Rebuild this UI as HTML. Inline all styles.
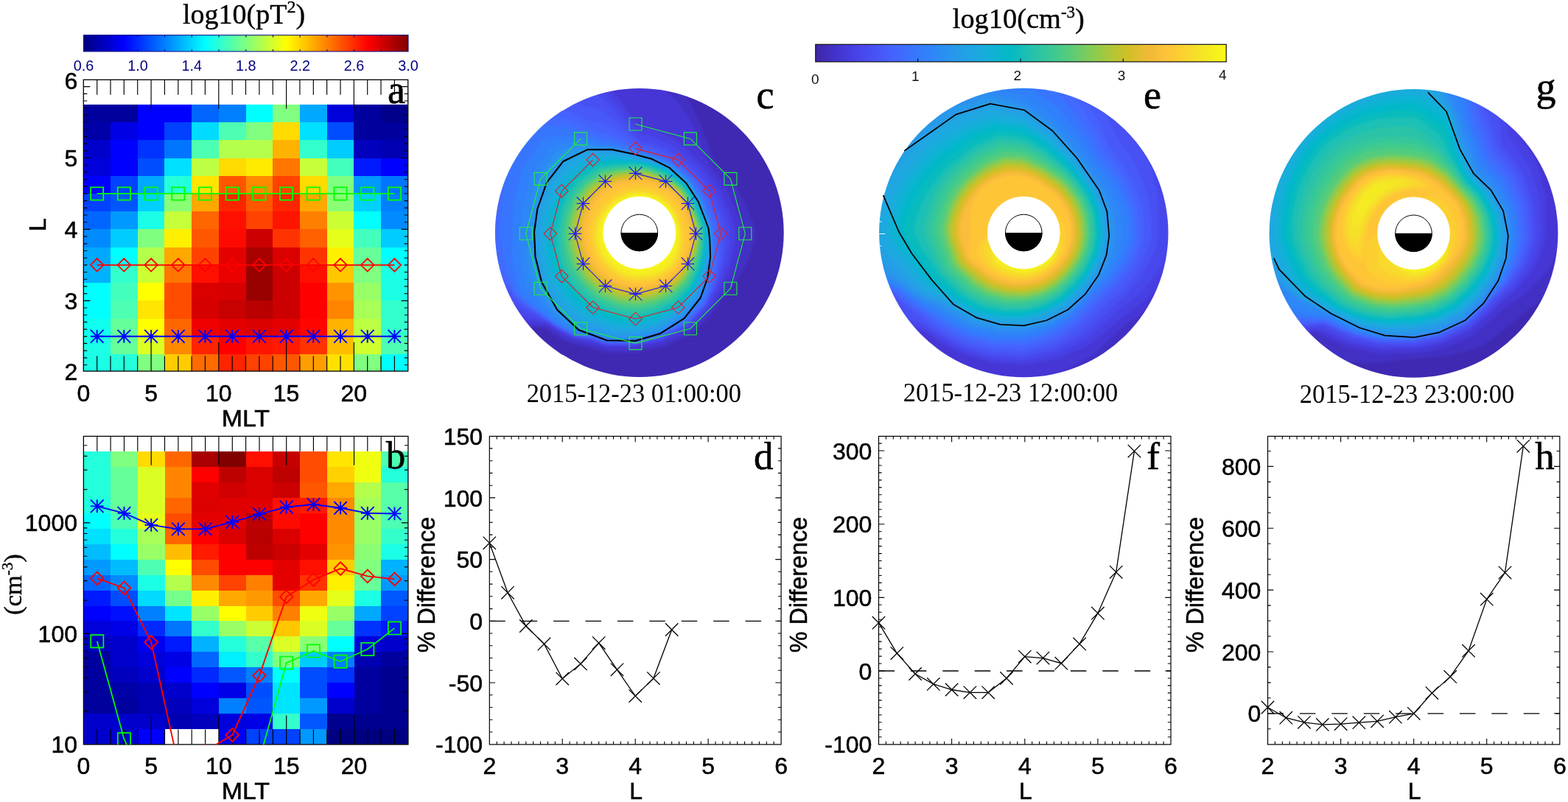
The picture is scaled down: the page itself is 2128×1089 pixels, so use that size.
<!DOCTYPE html>
<html lang="en"><head><meta charset="utf-8"><title>Figure</title>
<style>html,body{margin:0;padding:0;background:#fff}body{width:2128px;height:1089px;overflow:hidden}svg{display:block}.a{font-family:'Liberation Sans',sans-serif}.b{font-family:'Liberation Serif',serif}.t{stroke:#000;stroke-width:.55px}.u{stroke:#000;stroke-width:.4px}</style>
</head><body>
<svg width="2128" height="1089" viewBox="0 0 2128 1089">
<rect width="2128" height="1089" fill="#fff"/>
<defs>
<linearGradient id="jet"><stop offset="0" stop-color="#000080"/><stop offset=".125" stop-color="#00f"/><stop offset=".375" stop-color="#0ff"/><stop offset=".5" stop-color="#80ff80"/><stop offset=".625" stop-color="#ff0"/><stop offset=".875" stop-color="#f00"/><stop offset="1" stop-color="#800000"/></linearGradient>
<linearGradient id="par"><stop offset="0" stop-color="#3e26a8"/><stop offset="0.048" stop-color="#4332cb"/><stop offset="0.095" stop-color="#4741e5"/><stop offset="0.143" stop-color="#4852f4"/><stop offset="0.19" stop-color="#4563fd"/><stop offset="0.238" stop-color="#3875fe"/><stop offset="0.286" stop-color="#2e87f7"/><stop offset="0.333" stop-color="#2797eb"/><stop offset="0.381" stop-color="#20a5e3"/><stop offset="0.429" stop-color="#12b1d6"/><stop offset="0.476" stop-color="#02bac3"/><stop offset="0.524" stop-color="#24c1ae"/><stop offset="0.571" stop-color="#37c897"/><stop offset="0.619" stop-color="#57cc7a"/><stop offset="0.667" stop-color="#81cc59"/><stop offset="0.714" stop-color="#abc739"/><stop offset="0.762" stop-color="#d1bf27"/><stop offset="0.81" stop-color="#f0ba36"/><stop offset="0.857" stop-color="#fec338"/><stop offset="0.905" stop-color="#fad62d"/><stop offset="0.952" stop-color="#f5e924"/><stop offset="1" stop-color="#f9fb15"/></linearGradient>
<clipPath id="cb"><rect x="113.4" y="592.4" width="440.5" height="418.5"/></clipPath>
<filter id="bl" x="-5%" y="-5%" width="110%" height="110%" color-interpolation-filters="sRGB"><feGaussianBlur stdDeviation="1.6"/></filter>
</defs>
<g shape-rendering="crispEdges">
<rect x="113.3" y="141.8" width="73.7" height="24.5" fill="#00009e"/>
<rect x="186.7" y="141.8" width="73.7" height="24.5" fill="#0000ff"/>
<rect x="260.1" y="141.8" width="37" height="24.5" fill="#0066ff"/>
<rect x="296.8" y="141.8" width="37" height="24.5" fill="#0080ff"/>
<rect x="333.5" y="141.8" width="37" height="24.5" fill="#00ffff"/>
<rect x="370.2" y="141.8" width="37" height="24.5" fill="#80ff80"/>
<rect x="406.9" y="141.8" width="37" height="24.5" fill="#00a8ff"/>
<rect x="443.6" y="141.8" width="37" height="24.5" fill="#0000db"/>
<rect x="480.3" y="141.8" width="37" height="24.5" fill="#00009e"/>
<rect x="517" y="141.8" width="37" height="24.5" fill="#00008a"/>
<rect x="113.3" y="166" width="37" height="24.5" fill="#0000a8"/>
<rect x="150" y="166" width="37" height="24.5" fill="#0000e6"/>
<rect x="186.7" y="166" width="37" height="24.5" fill="#0000ff"/>
<rect x="223.4" y="166" width="37" height="24.5" fill="#0042ff"/>
<rect x="260.1" y="166" width="37" height="24.5" fill="#00dbff"/>
<rect x="296.8" y="166" width="37" height="24.5" fill="#4dffb2"/>
<rect x="333.5" y="166" width="37" height="24.5" fill="#80ff80"/>
<rect x="370.2" y="166" width="37" height="24.5" fill="#ffdb00"/>
<rect x="406.9" y="166" width="37" height="24.5" fill="#00e0ff"/>
<rect x="443.6" y="166" width="37" height="24.5" fill="#004dff"/>
<rect x="480.3" y="166" width="73.7" height="24.5" fill="#00009e"/>
<rect x="113.3" y="190.3" width="37" height="24.5" fill="#0000cc"/>
<rect x="150" y="190.3" width="37" height="24.5" fill="#0000ff"/>
<rect x="186.7" y="190.3" width="37" height="24.5" fill="#0033ff"/>
<rect x="223.4" y="190.3" width="37" height="24.5" fill="#0075ff"/>
<rect x="260.1" y="190.3" width="37" height="24.5" fill="#4dffb2"/>
<rect x="296.8" y="190.3" width="73.7" height="24.5" fill="#b3ff4c"/>
<rect x="370.2" y="190.3" width="37" height="24.5" fill="#ffb300"/>
<rect x="406.9" y="190.3" width="37" height="24.5" fill="#33ffcc"/>
<rect x="443.6" y="190.3" width="37" height="24.5" fill="#00ccff"/>
<rect x="480.3" y="190.3" width="37" height="24.5" fill="#0000bd"/>
<rect x="517" y="190.3" width="37" height="24.5" fill="#0000b2"/>
<rect x="113.3" y="214.5" width="37" height="24.5" fill="#0000db"/>
<rect x="150" y="214.5" width="37" height="24.5" fill="#0000ff"/>
<rect x="186.7" y="214.5" width="37" height="24.5" fill="#004dff"/>
<rect x="223.4" y="214.5" width="37" height="24.5" fill="#00e0ff"/>
<rect x="260.1" y="214.5" width="37" height="24.5" fill="#bdff42"/>
<rect x="296.8" y="214.5" width="37" height="24.5" fill="#ffdb00"/>
<rect x="333.5" y="214.5" width="37" height="24.5" fill="#ffeb00"/>
<rect x="370.2" y="214.5" width="37" height="24.5" fill="#ff7500"/>
<rect x="406.9" y="214.5" width="37" height="24.5" fill="#c7ff38"/>
<rect x="443.6" y="214.5" width="37" height="24.5" fill="#42ffbd"/>
<rect x="480.3" y="214.5" width="37" height="24.5" fill="#001aff"/>
<rect x="517" y="214.5" width="37" height="24.5" fill="#0000ff"/>
<rect x="113.3" y="238.7" width="37" height="24.5" fill="#0000ff"/>
<rect x="150" y="238.7" width="37" height="24.5" fill="#0042ff"/>
<rect x="186.7" y="238.7" width="37" height="24.5" fill="#00a8ff"/>
<rect x="223.4" y="238.7" width="37" height="24.5" fill="#24ffdb"/>
<rect x="260.1" y="238.7" width="37" height="24.5" fill="#ffe500"/>
<rect x="296.8" y="238.7" width="37" height="24.5" fill="#ff5700"/>
<rect x="333.5" y="238.7" width="37" height="24.5" fill="#ff8a00"/>
<rect x="370.2" y="238.7" width="37" height="24.5" fill="#ff4200"/>
<rect x="406.9" y="238.7" width="37" height="24.5" fill="#ffdb00"/>
<rect x="443.6" y="238.7" width="37" height="24.5" fill="#80ff80"/>
<rect x="480.3" y="238.7" width="37" height="24.5" fill="#0099ff"/>
<rect x="517" y="238.7" width="37" height="24.5" fill="#0075ff"/>
<rect x="113.3" y="263" width="37" height="24.5" fill="#0042ff"/>
<rect x="150" y="263" width="37" height="24.5" fill="#0057ff"/>
<rect x="186.7" y="263" width="37" height="24.5" fill="#00d1ff"/>
<rect x="223.4" y="263" width="37" height="24.5" fill="#8aff75"/>
<rect x="260.1" y="263" width="37" height="24.5" fill="#ffa800"/>
<rect x="296.8" y="263" width="37" height="24.5" fill="#ff2400"/>
<rect x="333.5" y="263" width="37" height="24.5" fill="#ff5700"/>
<rect x="370.2" y="263" width="37" height="24.5" fill="#ff2400"/>
<rect x="406.9" y="263" width="37" height="24.5" fill="#ffa800"/>
<rect x="443.6" y="263" width="37" height="24.5" fill="#8aff75"/>
<rect x="480.3" y="263" width="37" height="24.5" fill="#00d1ff"/>
<rect x="517" y="263" width="37" height="24.5" fill="#0080ff"/>
<rect x="113.3" y="287.2" width="37" height="24.5" fill="#0066ff"/>
<rect x="150" y="287.2" width="37" height="24.5" fill="#0099ff"/>
<rect x="186.7" y="287.2" width="37" height="24.5" fill="#1affe5"/>
<rect x="223.4" y="287.2" width="37" height="24.5" fill="#c7ff38"/>
<rect x="260.1" y="287.2" width="37" height="24.5" fill="#ff6600"/>
<rect x="296.8" y="287.2" width="37" height="24.5" fill="#ff0f00"/>
<rect x="333.5" y="287.2" width="37" height="24.5" fill="#ff4200"/>
<rect x="370.2" y="287.2" width="37" height="24.5" fill="#ff1400"/>
<rect x="406.9" y="287.2" width="37" height="24.5" fill="#ff8000"/>
<rect x="443.6" y="287.2" width="37" height="24.5" fill="#ccff33"/>
<rect x="480.3" y="287.2" width="37" height="24.5" fill="#00ffff"/>
<rect x="517" y="287.2" width="37" height="24.5" fill="#008aff"/>
<rect x="113.3" y="311.4" width="37" height="24.5" fill="#008aff"/>
<rect x="150" y="311.4" width="37" height="24.5" fill="#00ccff"/>
<rect x="186.7" y="311.4" width="37" height="24.5" fill="#80ff80"/>
<rect x="223.4" y="311.4" width="37" height="24.5" fill="#fff000"/>
<rect x="260.1" y="311.4" width="37" height="24.5" fill="#ff5700"/>
<rect x="296.8" y="311.4" width="37" height="24.5" fill="#ff0a00"/>
<rect x="333.5" y="311.4" width="37" height="24.5" fill="#cc0000"/>
<rect x="370.2" y="311.4" width="37" height="24.5" fill="#ff3300"/>
<rect x="406.9" y="311.4" width="37" height="24.5" fill="#ff6100"/>
<rect x="443.6" y="311.4" width="37" height="24.5" fill="#e5ff1a"/>
<rect x="480.3" y="311.4" width="37" height="24.5" fill="#42ffbd"/>
<rect x="517" y="311.4" width="37" height="24.5" fill="#00ccff"/>
<rect x="113.3" y="335.6" width="37" height="24.5" fill="#00a8ff"/>
<rect x="150" y="335.6" width="37" height="24.5" fill="#00ffff"/>
<rect x="186.7" y="335.6" width="37" height="24.5" fill="#b3ff4c"/>
<rect x="223.4" y="335.6" width="37" height="24.5" fill="#ffa800"/>
<rect x="260.1" y="335.6" width="37" height="24.5" fill="#ff4200"/>
<rect x="296.8" y="335.6" width="37" height="24.5" fill="#e50000"/>
<rect x="333.5" y="335.6" width="37" height="24.5" fill="#a80000"/>
<rect x="370.2" y="335.6" width="37" height="24.5" fill="#db0000"/>
<rect x="406.9" y="335.6" width="37" height="24.5" fill="#ff3300"/>
<rect x="443.6" y="335.6" width="37" height="24.5" fill="#fff000"/>
<rect x="480.3" y="335.6" width="37" height="24.5" fill="#66ff99"/>
<rect x="517" y="335.6" width="37" height="24.5" fill="#00ffff"/>
<rect x="113.3" y="359.9" width="37" height="24.5" fill="#00b2ff"/>
<rect x="150" y="359.9" width="37" height="24.5" fill="#33ffcc"/>
<rect x="186.7" y="359.9" width="37" height="24.5" fill="#ccff33"/>
<rect x="223.4" y="359.9" width="37" height="24.5" fill="#ff7500"/>
<rect x="260.1" y="359.9" width="37" height="24.5" fill="#ff0f00"/>
<rect x="296.8" y="359.9" width="37" height="24.5" fill="#eb0000"/>
<rect x="333.5" y="359.9" width="37" height="24.5" fill="#990000"/>
<rect x="370.2" y="359.9" width="37" height="24.5" fill="#cc0000"/>
<rect x="406.9" y="359.9" width="37" height="24.5" fill="#ff0f00"/>
<rect x="443.6" y="359.9" width="37" height="24.5" fill="#ffc700"/>
<rect x="480.3" y="359.9" width="37" height="24.5" fill="#80ff80"/>
<rect x="517" y="359.9" width="37" height="24.5" fill="#1affe5"/>
<rect x="113.3" y="384.1" width="37" height="24.5" fill="#00ffff"/>
<rect x="150" y="384.1" width="37" height="24.5" fill="#42ffbd"/>
<rect x="186.7" y="384.1" width="37" height="24.5" fill="#ffff00"/>
<rect x="223.4" y="384.1" width="37" height="24.5" fill="#ff4c00"/>
<rect x="260.1" y="384.1" width="37" height="24.5" fill="#db0000"/>
<rect x="296.8" y="384.1" width="37" height="24.5" fill="#d60000"/>
<rect x="333.5" y="384.1" width="37" height="24.5" fill="#990000"/>
<rect x="370.2" y="384.1" width="37" height="24.5" fill="#cc0000"/>
<rect x="406.9" y="384.1" width="37" height="24.5" fill="#ff0000"/>
<rect x="443.6" y="384.1" width="37" height="24.5" fill="#ff9400"/>
<rect x="480.3" y="384.1" width="37" height="24.5" fill="#99ff66"/>
<rect x="517" y="384.1" width="37" height="24.5" fill="#1affe5"/>
<rect x="113.3" y="408.3" width="37" height="24.5" fill="#00ffff"/>
<rect x="150" y="408.3" width="37" height="24.5" fill="#4dffb2"/>
<rect x="186.7" y="408.3" width="37" height="24.5" fill="#ffe500"/>
<rect x="223.4" y="408.3" width="37" height="24.5" fill="#ff4c00"/>
<rect x="260.1" y="408.3" width="37" height="24.5" fill="#d60000"/>
<rect x="296.8" y="408.3" width="37" height="24.5" fill="#c70000"/>
<rect x="333.5" y="408.3" width="37" height="24.5" fill="#b80000"/>
<rect x="370.2" y="408.3" width="37" height="24.5" fill="#cc0000"/>
<rect x="406.9" y="408.3" width="37" height="24.5" fill="#ff0000"/>
<rect x="443.6" y="408.3" width="37" height="24.5" fill="#ff8500"/>
<rect x="480.3" y="408.3" width="37" height="24.5" fill="#a8ff57"/>
<rect x="517" y="408.3" width="37" height="24.5" fill="#33ffcc"/>
<rect x="113.3" y="432.6" width="37" height="24.5" fill="#0ffff0"/>
<rect x="150" y="432.6" width="37" height="24.5" fill="#66ff99"/>
<rect x="186.7" y="432.6" width="37" height="24.5" fill="#ffff00"/>
<rect x="223.4" y="432.6" width="37" height="24.5" fill="#ff6600"/>
<rect x="260.1" y="432.6" width="37" height="24.5" fill="#f00000"/>
<rect x="296.8" y="432.6" width="37" height="24.5" fill="#e50000"/>
<rect x="333.5" y="432.6" width="37" height="24.5" fill="#db0000"/>
<rect x="370.2" y="432.6" width="37" height="24.5" fill="#e50000"/>
<rect x="406.9" y="432.6" width="37" height="24.5" fill="#ff0500"/>
<rect x="443.6" y="432.6" width="37" height="24.5" fill="#ffb300"/>
<rect x="480.3" y="432.6" width="37" height="24.5" fill="#bdff42"/>
<rect x="517" y="432.6" width="37" height="24.5" fill="#33ffcc"/>
<rect x="113.3" y="456.8" width="37" height="24.5" fill="#1affe5"/>
<rect x="150" y="456.8" width="37" height="24.5" fill="#66ff99"/>
<rect x="186.7" y="456.8" width="37" height="24.5" fill="#dbff24"/>
<rect x="223.4" y="456.8" width="37" height="24.5" fill="#ff8a00"/>
<rect x="260.1" y="456.8" width="37" height="24.5" fill="#ff2400"/>
<rect x="296.8" y="456.8" width="37" height="24.5" fill="#ff0000"/>
<rect x="333.5" y="456.8" width="37" height="24.5" fill="#ff1400"/>
<rect x="370.2" y="456.8" width="37" height="24.5" fill="#ff1a00"/>
<rect x="406.9" y="456.8" width="37" height="24.5" fill="#ff3300"/>
<rect x="443.6" y="456.8" width="37" height="24.5" fill="#ffbd00"/>
<rect x="480.3" y="456.8" width="37" height="24.5" fill="#d1ff2e"/>
<rect x="517" y="456.8" width="37" height="24.5" fill="#4dffb2"/>
<rect x="113.3" y="481" width="37" height="23" fill="#1affe5"/>
<rect x="150" y="481" width="37" height="23" fill="#24ffdb"/>
<rect x="186.7" y="481" width="37" height="23" fill="#80ff80"/>
<rect x="223.4" y="481" width="37" height="23" fill="#ffcc00"/>
<rect x="260.1" y="481" width="37" height="23" fill="#ff6b00"/>
<rect x="296.8" y="481" width="37" height="23" fill="#ff2400"/>
<rect x="333.5" y="481" width="37" height="23" fill="#ff4200"/>
<rect x="370.2" y="481" width="37" height="23" fill="#ff5700"/>
<rect x="406.9" y="481" width="37" height="23" fill="#ff9e00"/>
<rect x="443.6" y="481" width="37" height="23" fill="#ffe000"/>
<rect x="480.3" y="481" width="37" height="23" fill="#80ff80"/>
<rect x="517" y="481" width="37" height="23" fill="#00ffff"/>
</g>
<rect x="113.3" y="108.3" width="440.4" height="395.7" fill="none" stroke="#000" stroke-width="1.3"/>
<path d="M131.7 108.3v20.4M131.7 504v-20.4M150 108.3v20.4M150 504v-20.4M168.3 108.3v20.4M168.3 504v-20.4M186.7 108.3v20.4M186.7 504v-20.4M205.1 108.3v39.3M205.1 504v-39.3M223.4 108.3v20.4M223.4 504v-20.4M241.8 108.3v20.4M241.8 504v-20.4M260.1 108.3v20.4M260.1 504v-20.4M278.4 108.3v20.4M278.4 504v-20.4M296.8 108.3v39.3M296.8 504v-39.3M315.2 108.3v20.4M315.2 504v-20.4M333.5 108.3v20.4M333.5 504v-20.4M351.9 108.3v20.4M351.9 504v-20.4M370.2 108.3v20.4M370.2 504v-20.4M388.6 108.3v39.3M388.6 504v-39.3M406.9 108.3v20.4M406.9 504v-20.4M425.3 108.3v20.4M425.3 504v-20.4M443.6 108.3v20.4M443.6 504v-20.4M462 108.3v20.4M462 504v-20.4M480.3 108.3v39.3M480.3 504v-39.3M498.7 108.3v20.4M498.7 504v-20.4M517 108.3v20.4M517 504v-20.4M535.4 108.3v20.4M535.4 504v-20.4M113.3 495.5h5M553.7 495.5h-5M113.3 485.8h5M553.7 485.8h-5M113.3 476.1h5M553.7 476.1h-5M113.3 466.4h5M553.7 466.4h-5M113.3 456.8h5M553.7 456.8h-5M113.3 447.1h5M553.7 447.1h-5M113.3 437.4h5M553.7 437.4h-5M113.3 427.7h5M553.7 427.7h-5M113.3 418h5M553.7 418h-5M113.3 398.6h5M553.7 398.6h-5M113.3 388.9h5M553.7 388.9h-5M113.3 379.2h5M553.7 379.2h-5M113.3 369.5h5M553.7 369.5h-5M113.3 359.8h5M553.7 359.8h-5M113.3 350.2h5M553.7 350.2h-5M113.3 340.5h5M553.7 340.5h-5M113.3 330.8h5M553.7 330.8h-5M113.3 321.1h5M553.7 321.1h-5M113.3 301.7h5M553.7 301.7h-5M113.3 292h5M553.7 292h-5M113.3 282.3h5M553.7 282.3h-5M113.3 272.6h5M553.7 272.6h-5M113.3 262.9h5M553.7 262.9h-5M113.3 253.3h5M553.7 253.3h-5M113.3 243.6h5M553.7 243.6h-5M113.3 233.9h5M553.7 233.9h-5M113.3 224.2h5M553.7 224.2h-5M113.3 204.8h5M553.7 204.8h-5M113.3 195.1h5M553.7 195.1h-5M113.3 185.4h5M553.7 185.4h-5M113.3 175.7h5M553.7 175.7h-5M113.3 166h5M553.7 166h-5M113.3 156.4h5M553.7 156.4h-5M113.3 146.7h5M553.7 146.7h-5M113.3 137h5M553.7 137h-5M113.3 127.3h5M553.7 127.3h-5M113.3 408.3h9M553.7 408.3h-9M113.3 311.4h9M553.7 311.4h-9M113.3 214.5h9M553.7 214.5h-9M113.3 117.6h9M553.7 117.6h-9" stroke="#000" stroke-width="1.15" fill="none"/>
<g fill="none" stroke="#0f0" stroke-width="1.8">
<path d="M131.7 262.9L168.3 262.9L205.1 262.9L241.8 262.9L278.4 262.9L315.2 262.9L351.9 262.9L388.6 262.9L425.3 262.9L462 262.9L498.7 262.9L535.4 262.9"/>
<path d="M123.1 254.3H140.2V271.6H123.1ZM159.8 254.3H176.9V271.6H159.8ZM196.5 254.3H213.7V271.6H196.5ZM233.2 254.3H250.3V271.6H233.2ZM269.8 254.3H287.1V271.6H269.8ZM306.6 254.3H323.8V271.6H306.6ZM343.2 254.3H360.5V271.6H343.2ZM379.9 254.3H397.2V271.6H379.9ZM416.7 254.3H433.9V271.6H416.7ZM453.4 254.3H470.6V271.6H453.4ZM490.1 254.3H507.3V271.6H490.1ZM526.8 254.3H544V271.6H526.8Z"/>
</g>
<g fill="none" stroke="#f00" stroke-width="1.8">
<path d="M131.7 359.8L168.3 359.8L205.1 359.8L241.8 359.8L278.4 359.8L315.2 359.8L351.9 359.8L388.6 359.8L425.3 359.8L462 359.8L498.7 359.8L535.4 359.8"/>
<path d="M122.9 359.8L131.7 351L140.5 359.8L131.7 368.6ZM159.5 359.8L168.3 351L177.2 359.8L168.3 368.6ZM196.2 359.8L205.1 351L213.9 359.8L205.1 368.6ZM232.9 359.8L241.8 351L250.6 359.8L241.8 368.6ZM269.6 359.8L278.4 351L287.2 359.8L278.4 368.6ZM306.4 359.8L315.2 351L324 359.8L315.2 368.6ZM343.1 359.8L351.9 351L360.7 359.8L351.9 368.6ZM379.8 359.8L388.6 351L397.4 359.8L388.6 368.6ZM416.5 359.8L425.3 351L434.1 359.8L425.3 368.6ZM453.2 359.8L462 351L470.8 359.8L462 368.6ZM489.9 359.8L498.7 351L507.5 359.8L498.7 368.6ZM526.6 359.8L535.4 351L544.1 359.8L535.4 368.6Z"/>
</g>
<g fill="none" stroke="#00f" stroke-width="1.9">
<path d="M131.7 456.8L168.3 456.8L205.1 456.8L241.8 456.8L278.4 456.8L315.2 456.8L351.9 456.8L388.6 456.8L425.3 456.8L462 456.8L498.7 456.8L535.4 456.8"/>
<path d="M131.7 447.9V465.6M122.9 456.8H140.5M122.9 447.9L140.5 465.6M122.9 465.6L140.5 447.9M168.3 447.9V465.6M159.5 456.8H177.2M159.5 447.9L177.2 465.6M159.5 465.6L177.2 447.9M205.1 447.9V465.6M196.2 456.8H213.9M196.2 447.9L213.9 465.6M196.2 465.6L213.9 447.9M241.8 447.9V465.6M232.9 456.8H250.6M232.9 447.9L250.6 465.6M232.9 465.6L250.6 447.9M278.4 447.9V465.6M269.6 456.8H287.2M269.6 447.9L287.2 465.6M269.6 465.6L287.2 447.9M315.2 447.9V465.6M306.4 456.8H324M306.4 447.9L324 465.6M306.4 465.6L324 447.9M351.9 447.9V465.6M343.1 456.8H360.7M343.1 447.9L360.7 465.6M343.1 465.6L360.7 447.9M388.6 447.9V465.6M379.8 456.8H397.4M379.8 447.9L397.4 465.6M379.8 465.6L397.4 447.9M425.3 447.9V465.6M416.5 456.8H434.1M416.5 447.9L434.1 465.6M416.5 465.6L434.1 447.9M462 447.9V465.6M453.2 456.8H470.8M453.2 447.9L470.8 465.6M453.2 465.6L470.8 447.9M498.7 447.9V465.6M489.9 456.8H507.5M489.9 447.9L507.5 465.6M489.9 465.6L507.5 447.9M535.4 447.9V465.6M526.6 456.8H544.1M526.6 447.9L544.1 465.6M526.6 465.6L544.1 447.9"/>
</g>
<rect x="113.5" y="47.7" width="440.5" height="22.2" fill="url(#jet)" stroke="#000080" stroke-width="1"/>
<path d="M150.2 47.7v3M150.2 69.9v-3M186.9 47.7v3M186.9 69.9v-3M223.6 47.7v3M223.6 69.9v-3M260.3 47.7v3M260.3 69.9v-3M297 47.7v3M297 69.9v-3M333.8 47.7v3M333.8 69.9v-3M370.5 47.7v3M370.5 69.9v-3M407.2 47.7v3M407.2 69.9v-3M443.9 47.7v3M443.9 69.9v-3M480.6 47.7v3M480.6 69.9v-3M517.3 47.7v3M517.3 69.9v-3" stroke="#000080" stroke-width="1" fill="none"/>
<text class="a" x="113.5" y="95.9" font-size="19.8" text-anchor="middle" fill="#000080">0.6</text>
<text class="a" x="186.9" y="95.9" font-size="19.8" text-anchor="middle" fill="#000080">1.0</text>
<text class="a" x="260.3" y="95.9" font-size="19.8" text-anchor="middle" fill="#000080">1.4</text>
<text class="a" x="333.8" y="95.9" font-size="19.8" text-anchor="middle" fill="#000080">1.8</text>
<text class="a" x="407.2" y="95.9" font-size="19.8" text-anchor="middle" fill="#000080">2.2</text>
<text class="a" x="480.6" y="95.9" font-size="19.8" text-anchor="middle" fill="#000080">2.6</text>
<text class="a" x="554" y="95.9" font-size="19.8" text-anchor="middle" fill="#000080">3.0</text>
<text class="b u" x="331" y="31.7" font-size="38" text-anchor="middle">log10(pT<tspan font-size="24" dy="-14.5">2</tspan><tspan dy="14.5">)</tspan></text>
<text class="a t" x="105.3" y="120.7" font-size="32" text-anchor="end">6</text>
<text class="a t" x="105.3" y="225.9" font-size="32" text-anchor="end">5</text>
<text class="a t" x="105.3" y="322.7" font-size="32" text-anchor="end">4</text>
<text class="a t" x="105.3" y="419.6" font-size="32" text-anchor="end">3</text>
<text class="a t" x="105.3" y="515.6" font-size="32" text-anchor="end">2</text>
<text class="a t" x="113.3" y="544.8" font-size="32" text-anchor="middle">0</text>
<text class="a t" x="205.1" y="544.8" font-size="32" text-anchor="middle">5</text>
<text class="a t" x="296.8" y="544.8" font-size="32" text-anchor="middle">10</text>
<text class="a t" x="388.6" y="544.8" font-size="32" text-anchor="middle">15</text>
<text class="a t" x="480.3" y="544.8" font-size="32" text-anchor="middle">20</text>
<text class="a t" transform="translate(333.4,579.3) scale(1.06,1)" font-size="32" text-anchor="middle">MLT</text>
<text class="a t" transform="translate(62.2,305) rotate(-90)" font-size="32" text-anchor="middle">L</text>
<text class="b" x="538" y="140.3" font-size="54" text-anchor="middle" stroke="#000" stroke-width="0.6">a</text>
<g shape-rendering="crispEdges">
<rect x="113.4" y="613.2" width="37" height="21.2" fill="#24ffdb"/>
<rect x="150.1" y="613.2" width="37" height="21.2" fill="#80ff80"/>
<rect x="186.8" y="613.2" width="37" height="21.2" fill="#ffdb00"/>
<rect x="223.5" y="613.2" width="37" height="21.2" fill="#ff6600"/>
<rect x="260.2" y="613.2" width="37" height="21.2" fill="#a80000"/>
<rect x="296.9" y="613.2" width="37" height="21.2" fill="#800000"/>
<rect x="333.6" y="613.2" width="37" height="21.2" fill="#ff0f00"/>
<rect x="370.4" y="613.2" width="37" height="21.2" fill="#c70000"/>
<rect x="407.1" y="613.2" width="37" height="21.2" fill="#ff4c00"/>
<rect x="443.8" y="613.2" width="37" height="21.2" fill="#ffe500"/>
<rect x="480.5" y="613.2" width="37" height="21.2" fill="#f0ff0f"/>
<rect x="517.2" y="613.2" width="37" height="21.2" fill="#4dffb2"/>
<rect x="113.4" y="634.1" width="37" height="21.2" fill="#24ffdb"/>
<rect x="150.1" y="634.1" width="37" height="21.2" fill="#66ff99"/>
<rect x="186.8" y="634.1" width="37" height="21.2" fill="#dbff24"/>
<rect x="223.5" y="634.1" width="37" height="21.2" fill="#ff8500"/>
<rect x="260.2" y="634.1" width="37" height="21.2" fill="#ff0000"/>
<rect x="296.9" y="634.1" width="37" height="21.2" fill="#bd0000"/>
<rect x="333.6" y="634.1" width="37" height="21.2" fill="#db0000"/>
<rect x="370.4" y="634.1" width="37" height="21.2" fill="#bd0000"/>
<rect x="407.1" y="634.1" width="37" height="21.2" fill="#ff4c00"/>
<rect x="443.8" y="634.1" width="37" height="21.2" fill="#ffd100"/>
<rect x="480.5" y="634.1" width="37" height="21.2" fill="#f0ff0f"/>
<rect x="517.2" y="634.1" width="37" height="21.2" fill="#24ffdb"/>
<rect x="113.4" y="655.1" width="37" height="21.2" fill="#24ffdb"/>
<rect x="150.1" y="655.1" width="37" height="21.2" fill="#66ff99"/>
<rect x="186.8" y="655.1" width="37" height="21.2" fill="#dbff24"/>
<rect x="223.5" y="655.1" width="37" height="21.2" fill="#ff8500"/>
<rect x="260.2" y="655.1" width="37" height="21.2" fill="#e00000"/>
<rect x="296.9" y="655.1" width="37" height="21.2" fill="#d10000"/>
<rect x="333.6" y="655.1" width="37" height="21.2" fill="#db0000"/>
<rect x="370.4" y="655.1" width="37" height="21.2" fill="#cc0000"/>
<rect x="407.1" y="655.1" width="37" height="21.2" fill="#ff5700"/>
<rect x="443.8" y="655.1" width="37" height="21.2" fill="#ffa800"/>
<rect x="480.5" y="655.1" width="37" height="21.2" fill="#b3ff4c"/>
<rect x="517.2" y="655.1" width="37" height="21.2" fill="#57ffa8"/>
<rect x="113.4" y="676" width="37" height="21.2" fill="#1fffe0"/>
<rect x="150.1" y="676" width="37" height="21.2" fill="#66ff99"/>
<rect x="186.8" y="676" width="37" height="21.2" fill="#dbff24"/>
<rect x="223.5" y="676" width="37" height="21.2" fill="#ff6600"/>
<rect x="260.2" y="676" width="37" height="21.2" fill="#dd0000"/>
<rect x="296.9" y="676" width="73.7" height="21.2" fill="#e00000"/>
<rect x="370.4" y="676" width="37" height="21.2" fill="#ff0f00"/>
<rect x="407.1" y="676" width="37" height="21.2" fill="#ff1a00"/>
<rect x="443.8" y="676" width="37" height="21.2" fill="#ff8a00"/>
<rect x="480.5" y="676" width="37" height="21.2" fill="#a8ff57"/>
<rect x="517.2" y="676" width="37" height="21.2" fill="#57ffa8"/>
<rect x="113.4" y="696.9" width="37" height="21.2" fill="#00ffff"/>
<rect x="150.1" y="696.9" width="37" height="21.2" fill="#4dffb2"/>
<rect x="186.8" y="696.9" width="37" height="21.2" fill="#e5ff1a"/>
<rect x="223.5" y="696.9" width="37" height="21.2" fill="#ff4c00"/>
<rect x="260.2" y="696.9" width="73.7" height="21.2" fill="#e50000"/>
<rect x="333.6" y="696.9" width="37" height="21.2" fill="#bd0000"/>
<rect x="370.4" y="696.9" width="37" height="21.2" fill="#ff0a00"/>
<rect x="407.1" y="696.9" width="37" height="21.2" fill="#ff0000"/>
<rect x="443.8" y="696.9" width="37" height="21.2" fill="#ff8a00"/>
<rect x="480.5" y="696.9" width="37" height="21.2" fill="#99ff66"/>
<rect x="517.2" y="696.9" width="37" height="21.2" fill="#4dffb2"/>
<rect x="113.4" y="717.9" width="37" height="21.2" fill="#00e0ff"/>
<rect x="150.1" y="717.9" width="37" height="21.2" fill="#24ffdb"/>
<rect x="186.8" y="717.9" width="37" height="21.2" fill="#a8ff57"/>
<rect x="223.5" y="717.9" width="37" height="21.2" fill="#ff6600"/>
<rect x="260.2" y="717.9" width="37" height="21.2" fill="#ff0000"/>
<rect x="296.9" y="717.9" width="37" height="21.2" fill="#db0000"/>
<rect x="333.6" y="717.9" width="37" height="21.2" fill="#b80000"/>
<rect x="370.4" y="717.9" width="37" height="21.2" fill="#db0000"/>
<rect x="407.1" y="717.9" width="37" height="21.2" fill="#ff0000"/>
<rect x="443.8" y="717.9" width="37" height="21.2" fill="#ff8a00"/>
<rect x="480.5" y="717.9" width="37" height="21.2" fill="#99ff66"/>
<rect x="517.2" y="717.9" width="37" height="21.2" fill="#33ffcc"/>
<rect x="113.4" y="738.8" width="37" height="21.2" fill="#00bdff"/>
<rect x="150.1" y="738.8" width="37" height="21.2" fill="#00ffff"/>
<rect x="186.8" y="738.8" width="37" height="21.2" fill="#99ff66"/>
<rect x="223.5" y="738.8" width="37" height="21.2" fill="#ffbd00"/>
<rect x="260.2" y="738.8" width="37" height="21.2" fill="#ff1a00"/>
<rect x="296.9" y="738.8" width="37" height="21.2" fill="#ff0000"/>
<rect x="333.6" y="738.8" width="37" height="21.2" fill="#bd0000"/>
<rect x="370.4" y="738.8" width="37" height="21.2" fill="#cc0000"/>
<rect x="407.1" y="738.8" width="37" height="21.2" fill="#e50000"/>
<rect x="443.8" y="738.8" width="37" height="21.2" fill="#ff9400"/>
<rect x="480.5" y="738.8" width="37" height="21.2" fill="#8aff75"/>
<rect x="517.2" y="738.8" width="37" height="21.2" fill="#1affe5"/>
<rect x="113.4" y="759.7" width="37" height="21.2" fill="#0099ff"/>
<rect x="150.1" y="759.7" width="37" height="21.2" fill="#00bdff"/>
<rect x="186.8" y="759.7" width="37" height="21.2" fill="#4dffb2"/>
<rect x="223.5" y="759.7" width="37" height="21.2" fill="#ffff00"/>
<rect x="260.2" y="759.7" width="37" height="21.2" fill="#ff4c00"/>
<rect x="296.9" y="759.7" width="73.7" height="21.2" fill="#ff0000"/>
<rect x="370.4" y="759.7" width="37" height="21.2" fill="#e50000"/>
<rect x="407.1" y="759.7" width="37" height="21.2" fill="#ff0f00"/>
<rect x="443.8" y="759.7" width="37" height="21.2" fill="#ffcc00"/>
<rect x="480.5" y="759.7" width="37" height="21.2" fill="#80ff80"/>
<rect x="517.2" y="759.7" width="37" height="21.2" fill="#00b2ff"/>
<rect x="113.4" y="780.7" width="37" height="21.2" fill="#0066ff"/>
<rect x="150.1" y="780.7" width="37" height="21.2" fill="#008aff"/>
<rect x="186.8" y="780.7" width="37" height="21.2" fill="#1affe5"/>
<rect x="223.5" y="780.7" width="37" height="21.2" fill="#b3ff4c"/>
<rect x="260.2" y="780.7" width="37" height="21.2" fill="#ff8a00"/>
<rect x="296.9" y="780.7" width="37" height="21.2" fill="#ff4200"/>
<rect x="333.6" y="780.7" width="37" height="21.2" fill="#ff8000"/>
<rect x="370.4" y="780.7" width="37" height="21.2" fill="#e50000"/>
<rect x="407.1" y="780.7" width="37" height="21.2" fill="#ff3300"/>
<rect x="443.8" y="780.7" width="37" height="21.2" fill="#fff000"/>
<rect x="480.5" y="780.7" width="37" height="21.2" fill="#66ff99"/>
<rect x="517.2" y="780.7" width="37" height="21.2" fill="#0099ff"/>
<rect x="113.4" y="801.6" width="37" height="21.2" fill="#001aff"/>
<rect x="150.1" y="801.6" width="37" height="21.2" fill="#004dff"/>
<rect x="186.8" y="801.6" width="37" height="21.2" fill="#00dbff"/>
<rect x="223.5" y="801.6" width="37" height="21.2" fill="#75ff8a"/>
<rect x="260.2" y="801.6" width="37" height="21.2" fill="#fff000"/>
<rect x="296.9" y="801.6" width="37" height="21.2" fill="#ffa800"/>
<rect x="333.6" y="801.6" width="37" height="21.2" fill="#ff9900"/>
<rect x="370.4" y="801.6" width="37" height="21.2" fill="#ff4c00"/>
<rect x="407.1" y="801.6" width="37" height="21.2" fill="#ffa800"/>
<rect x="443.8" y="801.6" width="37" height="21.2" fill="#e5ff1a"/>
<rect x="480.5" y="801.6" width="37" height="21.2" fill="#1affe5"/>
<rect x="517.2" y="801.6" width="37" height="21.2" fill="#0057ff"/>
<rect x="113.4" y="822.5" width="37" height="21.2" fill="#0000ff"/>
<rect x="150.1" y="822.5" width="37" height="21.2" fill="#000fff"/>
<rect x="186.8" y="822.5" width="37" height="21.2" fill="#0080ff"/>
<rect x="223.5" y="822.5" width="37" height="21.2" fill="#00e5ff"/>
<rect x="260.2" y="822.5" width="37" height="21.2" fill="#99ff66"/>
<rect x="296.9" y="822.5" width="37" height="21.2" fill="#ffff00"/>
<rect x="333.6" y="822.5" width="37" height="21.2" fill="#ffcc00"/>
<rect x="370.4" y="822.5" width="37" height="21.2" fill="#ff8000"/>
<rect x="407.1" y="822.5" width="37" height="21.2" fill="#f0ff0f"/>
<rect x="443.8" y="822.5" width="37" height="21.2" fill="#99ff66"/>
<rect x="480.5" y="822.5" width="37" height="21.2" fill="#00a8ff"/>
<rect x="517.2" y="822.5" width="37" height="21.2" fill="#0042ff"/>
<rect x="113.4" y="843.4" width="37" height="21.2" fill="#0000db"/>
<rect x="150.1" y="843.4" width="37" height="21.2" fill="#0000e6"/>
<rect x="186.8" y="843.4" width="37" height="21.2" fill="#0029ff"/>
<rect x="223.5" y="843.4" width="37" height="21.2" fill="#0075ff"/>
<rect x="260.2" y="843.4" width="37" height="21.2" fill="#33ffcc"/>
<rect x="296.9" y="843.4" width="37" height="21.2" fill="#99ff66"/>
<rect x="333.6" y="843.4" width="37" height="21.2" fill="#ccff33"/>
<rect x="370.4" y="843.4" width="37" height="21.2" fill="#ffc700"/>
<rect x="407.1" y="843.4" width="37" height="21.2" fill="#dbff24"/>
<rect x="443.8" y="843.4" width="37" height="21.2" fill="#66ff99"/>
<rect x="480.5" y="843.4" width="37" height="21.2" fill="#0033ff"/>
<rect x="517.2" y="843.4" width="37" height="21.2" fill="#001aff"/>
<rect x="113.4" y="864.4" width="37" height="21.2" fill="#0000bd"/>
<rect x="150.1" y="864.4" width="37" height="21.2" fill="#0000cc"/>
<rect x="186.8" y="864.4" width="37" height="21.2" fill="#0000f0"/>
<rect x="223.5" y="864.4" width="37" height="21.2" fill="#001aff"/>
<rect x="260.2" y="864.4" width="37" height="21.2" fill="#00b2ff"/>
<rect x="296.9" y="864.4" width="37" height="21.2" fill="#24ffdb"/>
<rect x="333.6" y="864.4" width="37" height="21.2" fill="#57ffa8"/>
<rect x="370.4" y="864.4" width="37" height="21.2" fill="#dbff24"/>
<rect x="407.1" y="864.4" width="37" height="21.2" fill="#8aff75"/>
<rect x="443.8" y="864.4" width="37" height="21.2" fill="#00ffff"/>
<rect x="480.5" y="864.4" width="37" height="21.2" fill="#0000db"/>
<rect x="517.2" y="864.4" width="37" height="21.2" fill="#0000cc"/>
<rect x="113.4" y="885.3" width="37" height="21.2" fill="#00009e"/>
<rect x="150.1" y="885.3" width="37" height="21.2" fill="#0000cc"/>
<rect x="186.8" y="885.3" width="37" height="21.2" fill="#0000db"/>
<rect x="223.5" y="885.3" width="37" height="21.2" fill="#0000e6"/>
<rect x="260.2" y="885.3" width="37" height="21.2" fill="#0066ff"/>
<rect x="296.9" y="885.3" width="37" height="21.2" fill="#00f0ff"/>
<rect x="333.6" y="885.3" width="37" height="21.2" fill="#33ffcc"/>
<rect x="370.4" y="885.3" width="37" height="21.2" fill="#80ff80"/>
<rect x="407.1" y="885.3" width="37" height="21.2" fill="#00ccff"/>
<rect x="443.8" y="885.3" width="37" height="21.2" fill="#0080ff"/>
<rect x="480.5" y="885.3" width="37" height="21.2" fill="#0000b2"/>
<rect x="517.2" y="885.3" width="37" height="21.2" fill="#00009e"/>
<rect x="113.4" y="906.2" width="37" height="21.2" fill="#00009e"/>
<rect x="150.1" y="906.2" width="37" height="21.2" fill="#0000bd"/>
<rect x="186.8" y="906.2" width="37" height="21.2" fill="#0000cc"/>
<rect x="223.5" y="906.2" width="37" height="21.2" fill="#0000ff"/>
<rect x="260.2" y="906.2" width="37" height="21.2" fill="#0029ff"/>
<rect x="296.9" y="906.2" width="37" height="21.2" fill="#0057ff"/>
<rect x="333.6" y="906.2" width="37" height="21.2" fill="#0080ff"/>
<rect x="370.4" y="906.2" width="37" height="21.2" fill="#00ffff"/>
<rect x="407.1" y="906.2" width="37" height="21.2" fill="#004dff"/>
<rect x="443.8" y="906.2" width="37" height="21.2" fill="#0033ff"/>
<rect x="480.5" y="906.2" width="37" height="21.2" fill="#00009e"/>
<rect x="517.2" y="906.2" width="37" height="21.2" fill="#00008f"/>
<rect x="113.4" y="927.2" width="37" height="21.2" fill="#00009e"/>
<rect x="150.1" y="927.2" width="37" height="21.2" fill="#0000a8"/>
<rect x="186.8" y="927.2" width="37" height="21.2" fill="#0000b2"/>
<rect x="223.5" y="927.2" width="37" height="21.2" fill="#0000cc"/>
<rect x="260.2" y="927.2" width="37" height="21.2" fill="#0000ff"/>
<rect x="296.9" y="927.2" width="37" height="21.2" fill="#0000e6"/>
<rect x="333.6" y="927.2" width="37" height="21.2" fill="#004dff"/>
<rect x="370.4" y="927.2" width="37" height="21.2" fill="#00e5ff"/>
<rect x="407.1" y="927.2" width="37" height="21.2" fill="#004dff"/>
<rect x="443.8" y="927.2" width="37" height="21.2" fill="#0000ff"/>
<rect x="480.5" y="927.2" width="37" height="21.2" fill="#00009e"/>
<rect x="517.2" y="927.2" width="37" height="21.2" fill="#00008f"/>
<rect x="113.4" y="948.1" width="73.7" height="21.2" fill="#00009e"/>
<rect x="186.8" y="948.1" width="37" height="21.2" fill="#0000b2"/>
<rect x="223.5" y="948.1" width="37" height="21.2" fill="#0000bd"/>
<rect x="260.2" y="948.1" width="37" height="21.2" fill="#0000db"/>
<rect x="296.9" y="948.1" width="37" height="21.2" fill="#0080ff"/>
<rect x="333.6" y="948.1" width="37" height="21.2" fill="#0057ff"/>
<rect x="370.4" y="948.1" width="37" height="21.2" fill="#00e5ff"/>
<rect x="407.1" y="948.1" width="37" height="21.2" fill="#0099ff"/>
<rect x="443.8" y="948.1" width="37" height="21.2" fill="#0000cc"/>
<rect x="480.5" y="948.1" width="37" height="21.2" fill="#00009e"/>
<rect x="517.2" y="948.1" width="37" height="21.2" fill="#00008f"/>
<rect x="113.4" y="969" width="110.4" height="21.2" fill="#0000cc"/>
<rect x="223.5" y="969" width="37" height="21.2" fill="#0000b2"/>
<rect x="260.2" y="969" width="37" height="21.2" fill="#0000bd"/>
<rect x="296.9" y="969" width="37" height="21.2" fill="#0000db"/>
<rect x="333.6" y="969" width="37" height="21.2" fill="#0000e6"/>
<rect x="370.4" y="969" width="37" height="21.2" fill="#33ffcc"/>
<rect x="407.1" y="969" width="37" height="21.2" fill="#0057ff"/>
<rect x="443.8" y="969" width="110.4" height="21.2" fill="#00008f"/>
<rect x="113.4" y="990" width="73.7" height="20.9" fill="#0000cc"/>
<rect x="186.8" y="990" width="37" height="20.9" fill="#0000ff"/>
<rect x="296.9" y="990" width="37" height="20.9" fill="#0000f5"/>
<rect x="333.6" y="990" width="73.7" height="20.9" fill="#0042ff"/>
<rect x="407.1" y="990" width="37" height="20.9" fill="#0099ff"/>
<rect x="443.8" y="990" width="110.4" height="20.9" fill="#000080"/>
</g>
<rect x="113.4" y="592.4" width="440.5" height="418.5" fill="none" stroke="#000" stroke-width="1.3"/>
<path d="M131.8 592.4v20.4M131.8 1010.9v-20.4M150.1 592.4v20.4M150.1 1010.9v-20.4M168.5 592.4v20.4M168.5 1010.9v-20.4M186.8 592.4v20.4M186.8 1010.9v-20.4M205.2 592.4v39.3M205.2 1010.9v-39.3M223.5 592.4v20.4M223.5 1010.9v-20.4M241.9 592.4v20.4M241.9 1010.9v-20.4M260.2 592.4v20.4M260.2 1010.9v-20.4M278.6 592.4v20.4M278.6 1010.9v-20.4M296.9 592.4v39.3M296.9 1010.9v-39.3M315.3 592.4v20.4M315.3 1010.9v-20.4M333.6 592.4v20.4M333.6 1010.9v-20.4M352 592.4v20.4M352 1010.9v-20.4M370.4 592.4v20.4M370.4 1010.9v-20.4M388.7 592.4v39.3M388.7 1010.9v-39.3M407.1 592.4v20.4M407.1 1010.9v-20.4M425.4 592.4v20.4M425.4 1010.9v-20.4M443.8 592.4v20.4M443.8 1010.9v-20.4M462.1 592.4v20.4M462.1 1010.9v-20.4M480.5 592.4v39.3M480.5 1010.9v-39.3M498.8 592.4v20.4M498.8 1010.9v-20.4M517.2 592.4v20.4M517.2 1010.9v-20.4M535.5 592.4v20.4M535.5 1010.9v-20.4M113.4 965.6h5M553.9 965.6h-5M113.4 939.1h5M553.9 939.1h-5M113.4 920.3h5M553.9 920.3h-5M113.4 905.7h5M553.9 905.7h-5M113.4 893.8h5M553.9 893.8h-5M113.4 883.7h5M553.9 883.7h-5M113.4 875h5M553.9 875h-5M113.4 867.3h5M553.9 867.3h-5M113.4 815.1h5M553.9 815.1h-5M113.4 788.6h5M553.9 788.6h-5M113.4 769.8h5M553.9 769.8h-5M113.4 755.2h5M553.9 755.2h-5M113.4 743.3h5M553.9 743.3h-5M113.4 733.2h5M553.9 733.2h-5M113.4 724.5h5M553.9 724.5h-5M113.4 716.8h5M553.9 716.8h-5M113.4 664.6h5M553.9 664.6h-5M113.4 638.1h5M553.9 638.1h-5M113.4 619.3h5M553.9 619.3h-5M113.4 604.7h5M553.9 604.7h-5M113.4 860.4h9M553.9 860.4h-9M113.4 709.9h9M553.9 709.9h-9" stroke="#000" stroke-width="1.15" fill="none"/>
<g fill="none" stroke="#0f0" stroke-width="1.7" clip-path="url(#cb)">
<path d="M131.8 870.8L168.5 1003.7L205.2 1085L241.9 1100L278.6 1100L315.3 1100L352 1031.8L388.7 900.1L425.4 883.9L462.1 898.2L498.8 881.5L535.5 852.9"/>
<path d="M123.2 862.2H140.4V879.4H123.2ZM159.9 995.1H177.1V1012.3H159.9ZM380.1 891.5H397.3V908.7H380.1ZM416.8 875.3H434V892.5H416.8ZM453.5 889.6H470.7V906.8H453.5ZM490.2 872.9H507.4V890.1H490.2ZM526.9 844.3H544.1V861.5H526.9Z"/>
</g>
<g fill="none" stroke="#f00" stroke-width="1.9" clip-path="url(#cb)">
<path d="M131.8 785.3L168.5 798.4L205.2 872L241.9 1037.6L278.6 1019.6L315.3 998L352 917.3L388.7 810.3L425.4 787.2L462.1 772.1L498.8 782.4L535.5 786.4"/>
<path d="M123 785.3L131.8 776.5L140.6 785.3L131.8 794.1ZM159.7 798.4L168.5 789.6L177.3 798.4L168.5 807.2ZM196.4 872L205.2 863.2L214 872L205.2 880.8ZM269.8 1019.6L278.6 1010.8L287.4 1019.6L278.6 1028.4ZM306.5 998L315.3 989.2L324.1 998L315.3 1006.8ZM343.2 917.3L352 908.5L360.8 917.3L352 926.1ZM379.9 810.3L388.7 801.5L397.5 810.3L388.7 819.1ZM416.6 787.2L425.4 778.4L434.2 787.2L425.4 796ZM453.3 772.1L462.1 763.3L470.9 772.1L462.1 780.9ZM490 782.4L498.8 773.6L507.6 782.4L498.8 791.2ZM526.7 786.4L535.5 777.6L544.3 786.4L535.5 795.2Z"/>
</g>
<g fill="none" stroke="#00f" stroke-width="1.9" clip-path="url(#cb)">
<path d="M131.8 687.4L168.5 696.9L205.2 712.9L241.9 718.4L278.6 718.4L315.3 708.9L352 698.1L388.7 688.6L425.4 685L462.1 689.8L498.8 696.9L535.5 697.4"/>
<path d="M131.8 678.6V696.2M123 687.4H140.6M123 678.6L140.6 696.2M123 696.2L140.6 678.6M168.5 688.1V705.7M159.7 696.9H177.3M159.7 688.1L177.3 705.7M159.7 705.7L177.3 688.1M205.2 704.1V721.7M196.4 712.9H214M196.4 704.1L214 721.7M196.4 721.7L214 704.1M241.9 709.6V727.2M233.1 718.4H250.7M233.1 709.6L250.7 727.2M233.1 727.2L250.7 709.6M278.6 709.6V727.2M269.8 718.4H287.4M269.8 709.6L287.4 727.2M269.8 727.2L287.4 709.6M315.3 700.1V717.7M306.5 708.9H324.1M306.5 700.1L324.1 717.7M306.5 717.7L324.1 700.1M352 689.3V706.9M343.2 698.1H360.8M343.2 689.3L360.8 706.9M343.2 706.9L360.8 689.3M388.7 679.8V697.4M379.9 688.6H397.5M379.9 679.8L397.5 697.4M379.9 697.4L397.5 679.8M425.4 676.2V693.8M416.6 685H434.2M416.6 676.2L434.2 693.8M416.6 693.8L434.2 676.2M462.1 681V698.6M453.3 689.8H470.9M453.3 681L470.9 698.6M453.3 698.6L470.9 681M498.8 688.1V705.7M490 696.9H507.6M490 688.1L507.6 705.7M490 705.7L507.6 688.1M535.5 688.6V706.2M526.7 697.4H544.3M526.7 688.6L544.3 706.2M526.7 706.2L544.3 688.6"/>
</g>
<text class="a t" x="105" y="720.8" font-size="32" text-anchor="end">1000</text>
<text class="a t" x="105" y="871.6" font-size="32" text-anchor="end">100</text>
<text class="a t" x="105" y="1021.9" font-size="32" text-anchor="end">10</text>
<text class="a t" x="113.4" y="1050.8" font-size="32" text-anchor="middle">0</text>
<text class="a t" x="205.2" y="1050.8" font-size="32" text-anchor="middle">5</text>
<text class="a t" x="296.9" y="1050.8" font-size="32" text-anchor="middle">10</text>
<text class="a t" x="388.7" y="1050.8" font-size="32" text-anchor="middle">15</text>
<text class="a t" x="480.5" y="1050.8" font-size="32" text-anchor="middle">20</text>
<text class="a t" transform="translate(333.4,1085.2) scale(1.06,1)" font-size="32" text-anchor="middle">MLT</text>
<text class="b u" transform="translate(29,793.6) rotate(-90)" font-size="34.7" text-anchor="middle">(cm<tspan font-size="21" dy="-12.5">-3</tspan><tspan dy="12.5">)</tspan></text>
<text class="b" x="537" y="636.3" font-size="53" text-anchor="middle" stroke="#000" stroke-width="0.6">b</text>
<rect x="664.3" y="592.4" width="395.8" height="418.5" fill="none" stroke="#000" stroke-width="1.2"/>
<path d="M674.2 592.4v4.2M674.2 1010.9v-4.2M684.1 592.4v4.2M684.1 1010.9v-4.2M694 592.4v4.2M694 1010.9v-4.2M703.9 592.4v4.2M703.9 1010.9v-4.2M713.8 592.4v4.2M713.8 1010.9v-4.2M723.7 592.4v4.2M723.7 1010.9v-4.2M733.6 592.4v4.2M733.6 1010.9v-4.2M743.5 592.4v4.2M743.5 1010.9v-4.2M753.4 592.4v4.2M753.4 1010.9v-4.2M763.2 592.4v7.8M763.2 1010.9v-7.8M773.1 592.4v4.2M773.1 1010.9v-4.2M783 592.4v4.2M783 1010.9v-4.2M792.9 592.4v4.2M792.9 1010.9v-4.2M802.8 592.4v4.2M802.8 1010.9v-4.2M812.7 592.4v4.2M812.7 1010.9v-4.2M822.6 592.4v4.2M822.6 1010.9v-4.2M832.5 592.4v4.2M832.5 1010.9v-4.2M842.4 592.4v4.2M842.4 1010.9v-4.2M852.3 592.4v4.2M852.3 1010.9v-4.2M862.2 592.4v7.8M862.2 1010.9v-7.8M872.1 592.4v4.2M872.1 1010.9v-4.2M882 592.4v4.2M882 1010.9v-4.2M891.9 592.4v4.2M891.9 1010.9v-4.2M901.8 592.4v4.2M901.8 1010.9v-4.2M911.7 592.4v4.2M911.7 1010.9v-4.2M921.6 592.4v4.2M921.6 1010.9v-4.2M931.5 592.4v4.2M931.5 1010.9v-4.2M941.4 592.4v4.2M941.4 1010.9v-4.2M951.3 592.4v4.2M951.3 1010.9v-4.2M961.1 592.4v7.8M961.1 1010.9v-7.8M971 592.4v4.2M971 1010.9v-4.2M980.9 592.4v4.2M980.9 1010.9v-4.2M990.8 592.4v4.2M990.8 1010.9v-4.2M1000.7 592.4v4.2M1000.7 1010.9v-4.2M1010.6 592.4v4.2M1010.6 1010.9v-4.2M1020.5 592.4v4.2M1020.5 1010.9v-4.2M1030.4 592.4v4.2M1030.4 1010.9v-4.2M1040.3 592.4v4.2M1040.3 1010.9v-4.2M1050.2 592.4v4.2M1050.2 1010.9v-4.2M664.3 994h4.2M1060.1 994h-4.2M664.3 977.2h4.2M1060.1 977.2h-4.2M664.3 960.5h4.2M1060.1 960.5h-4.2M664.3 943.7h4.2M1060.1 943.7h-4.2M664.3 927h7.8M1060.1 927h-7.8M664.3 910.3h4.2M1060.1 910.3h-4.2M664.3 893.5h4.2M1060.1 893.5h-4.2M664.3 876.8h4.2M1060.1 876.8h-4.2M664.3 860h4.2M1060.1 860h-4.2M664.3 843.3h7.8M1060.1 843.3h-7.8M664.3 826.6h4.2M1060.1 826.6h-4.2M664.3 809.8h4.2M1060.1 809.8h-4.2M664.3 793.1h4.2M1060.1 793.1h-4.2M664.3 776.3h4.2M1060.1 776.3h-4.2M664.3 759.6h7.8M1060.1 759.6h-7.8M664.3 742.9h4.2M1060.1 742.9h-4.2M664.3 726.1h4.2M1060.1 726.1h-4.2M664.3 709.4h4.2M1060.1 709.4h-4.2M664.3 692.6h4.2M1060.1 692.6h-4.2M664.3 675.9h7.8M1060.1 675.9h-7.8M664.3 659.2h4.2M1060.1 659.2h-4.2M664.3 642.4h4.2M1060.1 642.4h-4.2M664.3 625.7h4.2M1060.1 625.7h-4.2M664.3 608.9h4.2M1060.1 608.9h-4.2" stroke="#000" stroke-width="1.1" fill="none"/>
<line x1="664.3" y1="843.3" x2="1060.1" y2="843.3" stroke="#000" stroke-width="1.3" stroke-dasharray="21.5 21.9"/>
<g fill="none" stroke="#000" stroke-width="1.3">
<path d="M664.3 737.3L689 804.8L713.8 850L738.5 874.4L763.2 921.6L788 901.4L812.7 873.1L837.5 909.3L862.2 945.1L886.9 921.1L911.7 855"/>
<path d="M655.6 728.6L673 746M655.6 746L673 728.6M680.3 796.1L697.7 813.5M680.3 813.5L697.7 796.1M705.1 841.3L722.5 858.7M705.1 858.7L722.5 841.3M729.8 865.7L747.2 883.1M729.8 883.1L747.2 865.7M754.5 912.9L772 930.3M754.5 930.3L772 912.9M779.3 892.7L796.7 910.1M779.3 910.1L796.7 892.7M804 864.4L821.4 881.8M804 881.8L821.4 864.4M828.8 900.6L846.2 918M828.8 918L846.2 900.6M853.5 936.4L870.9 953.8M853.5 953.8L870.9 936.4M878.2 912.4L895.6 929.8M878.2 929.8L895.6 912.4M903 846.3L920.4 863.7M903 863.7L920.4 846.3"/>
</g>
<text class="a t" x="655.1" y="1022.3" font-size="32" text-anchor="end">-100</text>
<text class="a t" x="655.1" y="938.6" font-size="32" text-anchor="end">-50</text>
<text class="a t" x="655.1" y="854.9" font-size="32" text-anchor="end">0</text>
<text class="a t" x="655.1" y="771.2" font-size="32" text-anchor="end">50</text>
<text class="a t" x="655.1" y="687.5" font-size="32" text-anchor="end">100</text>
<text class="a t" x="655.1" y="603.8" font-size="32" text-anchor="end">150</text>
<text class="a t" x="664.3" y="1051.1" font-size="32" text-anchor="middle">2</text>
<text class="a t" x="763.2" y="1051.1" font-size="32" text-anchor="middle">3</text>
<text class="a t" x="862.2" y="1051.1" font-size="32" text-anchor="middle">4</text>
<text class="a t" x="961.1" y="1051.1" font-size="32" text-anchor="middle">5</text>
<text class="a t" x="1060.1" y="1051.1" font-size="32" text-anchor="middle">6</text>
<text class="a t" x="863.2" y="1085.4" font-size="32" text-anchor="middle">L</text>
<text class="a t" transform="translate(589.8,794) rotate(-90)" font-size="32.3" text-anchor="middle">% Difference</text>
<text class="b" x="1036.3" y="636.8" font-size="53" text-anchor="middle" stroke="#000" stroke-width="0.6">d</text>
<rect x="1192.5" y="592.4" width="396.5" height="418.5" fill="none" stroke="#000" stroke-width="1.2"/>
<path d="M1202.4 592.4v4.2M1202.4 1010.9v-4.2M1212.3 592.4v4.2M1212.3 1010.9v-4.2M1222.2 592.4v4.2M1222.2 1010.9v-4.2M1232.2 592.4v4.2M1232.2 1010.9v-4.2M1242.1 592.4v4.2M1242.1 1010.9v-4.2M1252 592.4v4.2M1252 1010.9v-4.2M1261.9 592.4v4.2M1261.9 1010.9v-4.2M1271.8 592.4v4.2M1271.8 1010.9v-4.2M1281.7 592.4v4.2M1281.7 1010.9v-4.2M1291.6 592.4v7.8M1291.6 1010.9v-7.8M1301.5 592.4v4.2M1301.5 1010.9v-4.2M1311.5 592.4v4.2M1311.5 1010.9v-4.2M1321.4 592.4v4.2M1321.4 1010.9v-4.2M1331.3 592.4v4.2M1331.3 1010.9v-4.2M1341.2 592.4v4.2M1341.2 1010.9v-4.2M1351.1 592.4v4.2M1351.1 1010.9v-4.2M1361 592.4v4.2M1361 1010.9v-4.2M1370.9 592.4v4.2M1370.9 1010.9v-4.2M1380.8 592.4v4.2M1380.8 1010.9v-4.2M1390.8 592.4v7.8M1390.8 1010.9v-7.8M1400.7 592.4v4.2M1400.7 1010.9v-4.2M1410.6 592.4v4.2M1410.6 1010.9v-4.2M1420.5 592.4v4.2M1420.5 1010.9v-4.2M1430.4 592.4v4.2M1430.4 1010.9v-4.2M1440.3 592.4v4.2M1440.3 1010.9v-4.2M1450.2 592.4v4.2M1450.2 1010.9v-4.2M1460.1 592.4v4.2M1460.1 1010.9v-4.2M1470 592.4v4.2M1470 1010.9v-4.2M1480 592.4v4.2M1480 1010.9v-4.2M1489.9 592.4v7.8M1489.9 1010.9v-7.8M1499.8 592.4v4.2M1499.8 1010.9v-4.2M1509.7 592.4v4.2M1509.7 1010.9v-4.2M1519.6 592.4v4.2M1519.6 1010.9v-4.2M1529.5 592.4v4.2M1529.5 1010.9v-4.2M1539.4 592.4v4.2M1539.4 1010.9v-4.2M1549.3 592.4v4.2M1549.3 1010.9v-4.2M1559.3 592.4v4.2M1559.3 1010.9v-4.2M1569.2 592.4v4.2M1569.2 1010.9v-4.2M1579.1 592.4v4.2M1579.1 1010.9v-4.2M1192.5 1000.7h4.2M1589 1000.7h-4.2M1192.5 990.7h4.2M1589 990.7h-4.2M1192.5 980.8h4.2M1589 980.8h-4.2M1192.5 970.8h4.2M1589 970.8h-4.2M1192.5 960.8h4.2M1589 960.8h-4.2M1192.5 950.9h4.2M1589 950.9h-4.2M1192.5 940.9h4.2M1589 940.9h-4.2M1192.5 930.9h4.2M1589 930.9h-4.2M1192.5 921h4.2M1589 921h-4.2M1192.5 911h7.8M1589 911h-7.8M1192.5 901h4.2M1589 901h-4.2M1192.5 891.1h4.2M1589 891.1h-4.2M1192.5 881.1h4.2M1589 881.1h-4.2M1192.5 871.1h4.2M1589 871.1h-4.2M1192.5 861.2h4.2M1589 861.2h-4.2M1192.5 851.2h4.2M1589 851.2h-4.2M1192.5 841.2h4.2M1589 841.2h-4.2M1192.5 831.3h4.2M1589 831.3h-4.2M1192.5 821.3h4.2M1589 821.3h-4.2M1192.5 811.4h7.8M1589 811.4h-7.8M1192.5 801.4h4.2M1589 801.4h-4.2M1192.5 791.4h4.2M1589 791.4h-4.2M1192.5 781.5h4.2M1589 781.5h-4.2M1192.5 771.5h4.2M1589 771.5h-4.2M1192.5 761.5h4.2M1589 761.5h-4.2M1192.5 751.6h4.2M1589 751.6h-4.2M1192.5 741.6h4.2M1589 741.6h-4.2M1192.5 731.6h4.2M1589 731.6h-4.2M1192.5 721.7h4.2M1589 721.7h-4.2M1192.5 711.7h7.8M1589 711.7h-7.8M1192.5 701.7h4.2M1589 701.7h-4.2M1192.5 691.8h4.2M1589 691.8h-4.2M1192.5 681.8h4.2M1589 681.8h-4.2M1192.5 671.8h4.2M1589 671.8h-4.2M1192.5 661.9h4.2M1589 661.9h-4.2M1192.5 651.9h4.2M1589 651.9h-4.2M1192.5 641.9h4.2M1589 641.9h-4.2M1192.5 632h4.2M1589 632h-4.2M1192.5 622h4.2M1589 622h-4.2M1192.5 612h7.8M1589 612h-7.8M1192.5 602.1h4.2M1589 602.1h-4.2" stroke="#000" stroke-width="1.1" fill="none"/>
<line x1="1192.5" y1="911" x2="1589" y2="911" stroke="#000" stroke-width="1.3" stroke-dasharray="21.5 21.9"/>
<g fill="none" stroke="#000" stroke-width="1.3">
<path d="M1192.5 845.7L1217.3 887.1L1242.1 915L1266.8 928.9L1291.6 936.5L1316.4 940.3L1341.2 940.3L1366 921L1390.8 891.6L1415.5 893.6L1440.3 900.7L1465.1 874.4L1489.9 832.7L1514.7 776.8L1539.4 612.6"/>
<path d="M1183.8 837L1201.2 854.4M1183.8 854.4L1201.2 837M1208.6 878.4L1226 895.8M1208.6 895.8L1226 878.4M1233.4 906.3L1250.8 923.7M1233.4 923.7L1250.8 906.3M1258.1 920.2L1275.5 937.6M1258.1 937.6L1275.5 920.2M1282.9 927.8L1300.3 945.2M1282.9 945.2L1300.3 927.8M1307.7 931.6L1325.1 949M1307.7 949L1325.1 931.6M1332.5 931.6L1349.9 949M1332.5 949L1349.9 931.6M1357.3 912.3L1374.7 929.7M1357.3 929.7L1374.7 912.3M1382 882.9L1399.5 900.3M1382 900.3L1399.5 882.9M1406.8 884.9L1424.2 902.3M1406.8 902.3L1424.2 884.9M1431.6 892L1449 909.4M1431.6 909.4L1449 892M1456.4 865.7L1473.8 883.1M1456.4 883.1L1473.8 865.7M1481.2 824L1498.6 841.4M1481.2 841.4L1498.6 824M1506 768.1L1523.4 785.5M1506 785.5L1523.4 768.1M1530.7 603.9L1548.1 621.3M1530.7 621.3L1548.1 603.9"/>
</g>
<text class="a t" x="1183.3" y="1022.2" font-size="32" text-anchor="end">-100</text>
<text class="a t" x="1183.3" y="922.6" font-size="32" text-anchor="end">0</text>
<text class="a t" x="1183.3" y="823" font-size="32" text-anchor="end">100</text>
<text class="a t" x="1183.3" y="723.3" font-size="32" text-anchor="end">200</text>
<text class="a t" x="1183.3" y="623.6" font-size="32" text-anchor="end">300</text>
<text class="a t" x="1192.5" y="1051.1" font-size="32" text-anchor="middle">2</text>
<text class="a t" x="1291.6" y="1051.1" font-size="32" text-anchor="middle">3</text>
<text class="a t" x="1390.8" y="1051.1" font-size="32" text-anchor="middle">4</text>
<text class="a t" x="1489.9" y="1051.1" font-size="32" text-anchor="middle">5</text>
<text class="a t" x="1589" y="1051.1" font-size="32" text-anchor="middle">6</text>
<text class="a t" x="1391.8" y="1085.4" font-size="32" text-anchor="middle">L</text>
<text class="a t" transform="translate(1094.6,794) rotate(-90)" font-size="32.3" text-anchor="middle">% Difference</text>
<text class="b" x="1565" y="636.8" font-size="53" text-anchor="middle" stroke="#000" stroke-width="0.6">f</text>
<rect x="1720.5" y="592.4" width="396.3" height="418.5" fill="none" stroke="#000" stroke-width="1.2"/>
<path d="M1730.4 592.4v4.2M1730.4 1010.9v-4.2M1740.3 592.4v4.2M1740.3 1010.9v-4.2M1750.2 592.4v4.2M1750.2 1010.9v-4.2M1760.1 592.4v4.2M1760.1 1010.9v-4.2M1770 592.4v4.2M1770 1010.9v-4.2M1779.9 592.4v4.2M1779.9 1010.9v-4.2M1789.9 592.4v4.2M1789.9 1010.9v-4.2M1799.8 592.4v4.2M1799.8 1010.9v-4.2M1809.7 592.4v4.2M1809.7 1010.9v-4.2M1819.6 592.4v7.8M1819.6 1010.9v-7.8M1829.5 592.4v4.2M1829.5 1010.9v-4.2M1839.4 592.4v4.2M1839.4 1010.9v-4.2M1849.3 592.4v4.2M1849.3 1010.9v-4.2M1859.2 592.4v4.2M1859.2 1010.9v-4.2M1869.1 592.4v4.2M1869.1 1010.9v-4.2M1879 592.4v4.2M1879 1010.9v-4.2M1888.9 592.4v4.2M1888.9 1010.9v-4.2M1898.8 592.4v4.2M1898.8 1010.9v-4.2M1908.7 592.4v4.2M1908.7 1010.9v-4.2M1918.7 592.4v7.8M1918.7 1010.9v-7.8M1928.6 592.4v4.2M1928.6 1010.9v-4.2M1938.5 592.4v4.2M1938.5 1010.9v-4.2M1948.4 592.4v4.2M1948.4 1010.9v-4.2M1958.3 592.4v4.2M1958.3 1010.9v-4.2M1968.2 592.4v4.2M1968.2 1010.9v-4.2M1978.1 592.4v4.2M1978.1 1010.9v-4.2M1988 592.4v4.2M1988 1010.9v-4.2M1997.9 592.4v4.2M1997.9 1010.9v-4.2M2007.8 592.4v4.2M2007.8 1010.9v-4.2M2017.7 592.4v7.8M2017.7 1010.9v-7.8M2027.6 592.4v4.2M2027.6 1010.9v-4.2M2037.5 592.4v4.2M2037.5 1010.9v-4.2M2047.4 592.4v4.2M2047.4 1010.9v-4.2M2057.4 592.4v4.2M2057.4 1010.9v-4.2M2067.3 592.4v4.2M2067.3 1010.9v-4.2M2077.2 592.4v4.2M2077.2 1010.9v-4.2M2087.1 592.4v4.2M2087.1 1010.9v-4.2M2097 592.4v4.2M2097 1010.9v-4.2M2106.9 592.4v4.2M2106.9 1010.9v-4.2M1720.5 989.8h4.2M2116.8 989.8h-4.2M1720.5 968.8h7.8M2116.8 968.8h-7.8M1720.5 947.8h4.2M2116.8 947.8h-4.2M1720.5 926.9h4.2M2116.8 926.9h-4.2M1720.5 905.9h4.2M2116.8 905.9h-4.2M1720.5 885h7.8M2116.8 885h-7.8M1720.5 864h4.2M2116.8 864h-4.2M1720.5 843h4.2M2116.8 843h-4.2M1720.5 822.1h4.2M2116.8 822.1h-4.2M1720.5 801.1h7.8M2116.8 801.1h-7.8M1720.5 780.2h4.2M2116.8 780.2h-4.2M1720.5 759.2h4.2M2116.8 759.2h-4.2M1720.5 738.2h4.2M2116.8 738.2h-4.2M1720.5 717.3h7.8M2116.8 717.3h-7.8M1720.5 696.3h4.2M2116.8 696.3h-4.2M1720.5 675.4h4.2M2116.8 675.4h-4.2M1720.5 654.4h4.2M2116.8 654.4h-4.2M1720.5 633.4h7.8M2116.8 633.4h-7.8M1720.5 612.5h4.2M2116.8 612.5h-4.2" stroke="#000" stroke-width="1.1" fill="none"/>
<line x1="1720.5" y1="968.8" x2="2116.8" y2="968.8" stroke="#000" stroke-width="1.3" stroke-dasharray="21.5 21.9"/>
<g fill="none" stroke="#000" stroke-width="1.3">
<path d="M1720.5 960.5L1745.3 974.7L1770 980.8L1794.8 983.9L1819.6 983.1L1844.3 981.2L1869.1 979.3L1893.9 973.7L1918.7 968.8L1943.4 941.1L1968.2 918.9L1993 883.7L2017.7 813.7L2042.5 777.6L2067.3 605.8"/>
<path d="M1711.8 951.8L1729.2 969.2M1711.8 969.2L1729.2 951.8M1736.6 966L1754 983.4M1736.6 983.4L1754 966M1761.3 972.1L1778.7 989.5M1761.3 989.5L1778.7 972.1M1786.1 975.2L1803.5 992.6M1786.1 992.6L1803.5 975.2M1810.9 974.4L1828.3 991.8M1810.9 991.8L1828.3 974.4M1835.6 972.5L1853 989.9M1835.6 989.9L1853 972.5M1860.4 970.6L1877.8 988M1860.4 988L1877.8 970.6M1885.2 965L1902.6 982.4M1885.2 982.4L1902.6 965M1910 960.1L1927.4 977.5M1910 977.5L1927.4 960.1M1934.7 932.4L1952.1 949.8M1934.7 949.8L1952.1 932.4M1959.5 910.2L1976.9 927.6M1959.5 927.6L1976.9 910.2M1984.3 875L2001.7 892.4M1984.3 892.4L2001.7 875M2009 805L2026.4 822.4M2009 822.4L2026.4 805M2033.8 768.9L2051.2 786.3M2033.8 786.3L2051.2 768.9M2058.6 597.1L2076 614.5M2058.6 614.5L2076 597.1"/>
</g>
<text class="a t" x="1711.3" y="980.4" font-size="32" text-anchor="end">0</text>
<text class="a t" x="1711.3" y="896.6" font-size="32" text-anchor="end">200</text>
<text class="a t" x="1711.3" y="812.7" font-size="32" text-anchor="end">400</text>
<text class="a t" x="1711.3" y="728.9" font-size="32" text-anchor="end">600</text>
<text class="a t" x="1711.3" y="645" font-size="32" text-anchor="end">800</text>
<text class="a t" x="1720.5" y="1051.1" font-size="32" text-anchor="middle">2</text>
<text class="a t" x="1819.6" y="1051.1" font-size="32" text-anchor="middle">3</text>
<text class="a t" x="1918.7" y="1051.1" font-size="32" text-anchor="middle">4</text>
<text class="a t" x="2017.7" y="1051.1" font-size="32" text-anchor="middle">5</text>
<text class="a t" x="2116.8" y="1051.1" font-size="32" text-anchor="middle">6</text>
<text class="a t" x="1919.7" y="1085.4" font-size="32" text-anchor="middle">L</text>
<text class="a t" transform="translate(1632.5,794) rotate(-90)" font-size="32.3" text-anchor="middle">% Difference</text>
<text class="b" x="2096.5" y="636.8" font-size="53" text-anchor="middle" stroke="#000" stroke-width="0.6">h</text>
<rect x="1106.8" y="60.3" width="557.4" height="23.6" fill="url(#par)" stroke="#111" stroke-width="1.2"/>
<path d="M1245.6 83.9v-4.5M1385 83.9v-4.5M1524.3 83.9v-4.5" stroke="#111" stroke-width="1.2" fill="none"/>
<text class="a" x="1106.2" y="113.6" font-size="19" text-anchor="middle" fill="#111">0</text>
<text class="a" x="1242.3" y="109.5" font-size="19" text-anchor="middle" fill="#111">1</text>
<text class="a" x="1380.7" y="109.3" font-size="19" text-anchor="middle" fill="#111">2</text>
<text class="a" x="1522" y="109.3" font-size="19" text-anchor="middle" fill="#111">3</text>
<text class="a" x="1659.3" y="108.2" font-size="19" text-anchor="middle" fill="#111">4</text>
<text class="b u" x="1382.3" y="37.9" font-size="38.4" text-anchor="middle">log10(cm<tspan font-size="23" dy="-14">-3</tspan><tspan dy="14">)</tspan></text>
<clipPath id="kc"><circle cx="867.8" cy="316" r="195.9"/></clipPath>
<g clip-path="url(#kc)"><g filter="url(#bl)">
<circle cx="867.8" cy="316" r="203.9" fill="#3f29b2"/>
<path d="M1025 316L1024 308L1021 300L1018 292L1015 285L1012 277L1008 270L1005 263L1001 257L997 250L992 244L988 238L983 232L978 227L973 221L968 216L965 208L962 200L959 191L955 181L952 171L947 160L942 149L936 139L929 129L921 119L910 117L900 115L889 113L878 112L868 112L857 112L846 113L836 115L825 117L815 119L805 122L795 126L785 130L775 134L766 139L757 145L748 151L739 158L731 164L724 172L716 180L709 188L703 196L697 205L691 214L686 223L682 233L677 243L674 253L671 263L668 274L666 284L665 295L664 305L664 316L664 327L665 337L666 348L668 358L671 369L674 379L677 389L682 399L686 409L691 418L697 427L703 436L709 444L724 445L738 445L746 451L754 456L763 461L771 465L780 468L789 470L798 472L807 475L815 478L824 479L833 479L842 479L851 479L859 480L868 478L876 476L884 474L893 473L901 471L908 468L916 464L923 461L931 457L938 454L944 448L950 443L956 437L961 432L967 426L971 419L975 413L980 407L985 401L990 395L994 389L998 382L1002 376L1007 369L1011 362L1014 355L1017 348L1020 340L1022 332L1024 324Z" fill="#4230c4"/>
<path d="M1007 316L1006 309L1004 302L1002 295L999 288L997 281L994 275L992 269L989 262L986 256L982 250L978 244L974 239L970 233L966 228L962 222L959 215L956 208L952 200L949 191L945 182L941 172L936 162L930 153L924 144L916 136L908 127L899 120L889 114L878 112L868 112L857 112L846 113L836 115L825 117L815 119L805 122L795 126L785 130L775 134L766 139L757 145L748 151L739 158L731 164L724 172L716 180L709 188L703 196L697 205L691 214L686 223L682 233L677 243L674 253L671 263L668 274L666 284L665 295L664 305L664 316L664 327L665 337L666 348L668 358L671 369L674 379L677 389L682 399L686 409L691 418L697 427L703 436L713 442L728 442L741 443L749 448L757 453L765 458L773 462L782 464L791 466L800 468L809 470L817 473L825 475L834 475L843 475L851 475L859 475L868 474L876 472L884 470L892 468L900 467L907 463L915 460L922 457L929 453L936 450L942 445L948 439L953 434L959 428L964 423L968 416L972 410L976 403L980 397L984 391L987 385L990 378L993 372L996 365L999 359L1001 352L1002 345L1004 338L1006 330L1006 323Z" fill="#4536d5"/>
<path d="M998 316L997 309L995 303L993 296L991 290L989 284L986 278L984 271L981 266L979 260L975 254L971 249L968 243L964 238L960 233L956 228L952 222L947 218L943 213L938 208L933 203L928 199L922 194L916 190L910 187L903 183L897 180L890 177L883 175L875 173L868 171L860 161L850 148L839 133L826 118L815 119L805 122L795 126L785 130L775 134L766 139L757 145L748 151L739 158L731 164L724 172L716 180L709 188L703 196L697 205L691 214L686 223L682 233L677 243L674 253L671 263L668 274L666 284L665 295L664 305L664 316L664 327L665 337L666 348L668 358L671 369L674 379L677 389L682 399L686 409L691 418L697 427L703 436L719 437L733 438L744 440L752 445L759 450L767 454L775 458L784 460L793 462L802 464L810 466L818 469L826 470L835 470L843 470L852 471L860 471L868 469L876 467L884 466L891 464L899 463L906 459L913 456L920 453L927 449L934 446L940 441L946 436L951 431L956 425L961 420L965 414L969 407L972 401L976 395L979 388L982 382L984 375L987 369L990 363L992 356L993 350L995 343L996 336L997 330L998 323Z" fill="#473fe2"/>
<path d="M991 316L991 310L989 303L987 297L985 291L983 285L980 279L978 274L976 268L973 262L970 257L966 252L963 247L959 242L956 237L952 232L948 227L943 223L939 218L934 214L929 210L924 205L919 201L913 198L907 195L901 192L895 189L888 186L882 184L875 183L868 181L860 172L851 160L841 147L829 133L815 120L805 122L795 126L785 130L775 134L766 139L757 145L748 151L739 158L731 164L724 172L716 180L709 188L703 196L697 205L691 214L686 223L682 233L677 243L674 253L671 263L668 274L666 284L665 295L664 305L664 316L664 327L665 337L666 348L668 358L671 369L674 379L677 389L682 399L686 409L691 418L697 427L711 430L724 433L735 436L745 439L752 444L760 449L768 453L776 457L785 460L794 461L803 462L811 465L818 468L827 469L835 469L844 469L852 469L860 469L868 468L876 466L883 464L891 463L899 461L906 457L913 454L919 450L926 447L933 444L938 438L944 433L949 428L954 422L959 417L963 411L966 404L969 398L972 392L976 386L978 380L980 373L982 367L985 361L987 355L988 348L989 342L990 335L991 329L991 322Z" fill="#4747ec"/>
<path d="M985 316L984 310L983 304L981 298L979 292L977 287L974 281L972 276L970 271L968 265L965 260L961 255L958 251L955 246L951 241L948 236L944 232L939 228L935 224L930 220L926 216L921 212L916 208L910 206L905 203L899 200L893 198L887 195L881 194L874 192L868 191L861 183L853 172L843 160L832 148L820 136L806 126L795 126L785 130L775 134L766 139L757 145L748 151L739 158L731 164L724 172L716 180L709 188L703 196L697 205L691 214L686 223L682 233L677 243L674 253L671 263L668 274L666 284L665 295L664 305L664 316L664 327L665 337L666 348L668 358L671 369L674 379L677 389L682 399L689 407L698 414L708 420L718 425L728 429L737 434L745 438L753 444L761 448L769 452L777 456L785 459L795 460L803 461L811 464L819 467L827 468L835 468L844 468L852 468L860 468L868 467L876 465L883 463L891 461L898 460L905 456L912 452L919 449L926 446L932 442L938 437L943 432L948 426L953 421L958 416L961 410L964 403L967 397L971 391L973 385L975 378L977 372L979 365L981 359L982 353L983 347L984 341L985 334L985 328L985 322Z" fill="#4850f3"/>
<path d="M980 316L979 310L978 304L976 299L974 293L972 288L970 283L968 277L966 272L964 267L961 262L958 257L955 253L952 248L949 243L945 238L942 234L937 230L933 226L928 223L924 219L919 215L914 212L909 209L903 207L898 204L892 202L886 200L880 198L874 197L868 195L861 189L854 182L845 174L836 165L825 157L814 149L802 146L791 143L777 138L766 139L757 145L748 151L739 158L731 164L724 172L716 180L709 188L703 196L697 205L691 214L686 223L682 233L677 243L674 253L671 263L668 274L666 284L665 295L664 305L664 316L664 327L665 337L666 348L668 358L671 369L674 379L682 387L690 395L696 404L704 411L713 417L722 422L730 427L738 433L746 438L754 443L761 447L769 452L777 456L786 458L795 459L804 460L811 463L819 466L827 467L836 467L844 467L852 467L860 467L868 466L876 464L883 462L891 460L898 458L905 455L912 451L918 448L925 444L931 441L937 436L942 430L947 425L952 420L957 415L960 408L963 402L966 396L969 389L971 383L973 377L974 370L976 364L977 358L979 352L979 346L980 340L980 334L980 328L980 322Z" fill="#4759f8"/>
<path d="M976 316L975 310L974 305L972 299L970 294L968 289L967 284L965 279L963 274L961 269L958 264L955 259L952 255L949 250L946 245L943 241L939 237L935 233L931 229L926 226L922 222L918 218L913 215L907 213L902 210L897 208L891 206L886 204L880 202L874 201L868 200L861 196L855 191L847 185L839 179L830 174L820 169L810 167L800 164L787 158L773 152L757 146L748 151L739 158L731 164L724 172L716 180L709 188L703 196L697 205L691 214L686 223L682 233L677 243L674 253L671 263L668 274L666 284L665 295L664 305L664 316L664 327L665 337L666 348L668 358L671 369L678 378L686 386L693 394L698 402L706 409L714 416L723 421L732 426L739 432L747 437L754 442L762 447L770 451L778 455L787 457L796 458L804 459L812 462L819 465L828 466L836 466L844 466L852 466L860 466L868 465L875 463L883 461L890 459L898 457L905 454L911 450L918 447L924 443L931 440L936 435L941 429L946 424L951 419L956 414L959 407L962 401L965 394L967 388L970 382L971 376L972 369L973 363L975 357L976 351L976 345L976 339L976 333L976 327L976 322Z" fill="#4562fc"/>
<path d="M972 316L971 311L970 305L968 300L966 295L965 290L963 285L961 280L960 275L958 270L955 266L952 261L950 257L947 252L944 248L941 243L937 239L933 235L929 232L925 229L920 225L916 222L911 218L906 216L901 214L896 212L890 210L885 208L879 207L874 205L868 204L862 201L855 197L848 194L841 190L833 186L824 182L816 181L806 178L795 173L781 166L767 161L753 158L739 158L731 164L724 172L716 180L709 188L703 196L697 205L691 214L686 223L682 233L677 243L674 253L671 263L668 274L666 284L665 295L664 305L664 316L664 327L665 337L667 348L672 358L678 367L684 376L690 384L695 393L700 401L708 408L716 415L724 420L733 426L740 431L748 436L755 441L763 446L771 450L778 454L787 456L796 457L804 458L812 461L820 464L828 465L836 465L844 465L852 465L860 465L868 464L875 462L883 460L890 458L898 456L904 452L911 449L917 445L924 442L930 439L936 433L941 428L945 423L950 418L955 412L958 406L961 400L963 393L966 387L968 381L969 374L970 368L971 362L972 356L973 350L973 344L973 338L973 333L973 327L972 321Z" fill="#416bfe"/>
<path d="M968 316L967 311L966 306L964 301L963 296L961 291L959 286L958 281L956 277L955 272L952 267L950 263L947 259L944 254L941 250L939 245L935 241L931 238L927 234L923 231L919 228L915 224L910 221L905 218L900 216L895 214L890 212L885 210L879 208L874 207L868 206L862 203L856 200L849 198L842 195L835 192L827 189L819 188L810 186L799 182L787 177L775 172L762 171L749 170L737 171L725 173L717 180L711 189L705 198L700 207L695 216L691 226L689 236L686 246L684 256L682 266L681 276L680 286L680 296L680 306L679 316L680 326L682 336L683 345L685 355L688 364L691 373L695 382L698 392L702 400L710 407L718 413L726 419L734 425L741 430L748 436L756 441L763 445L771 449L779 453L788 455L797 456L805 457L813 460L820 463L828 464L836 464L844 464L852 464L860 464L868 462L875 460L883 459L890 457L897 455L904 451L911 448L917 444L923 441L930 437L935 432L940 427L944 421L949 416L954 411L957 405L959 398L962 392L964 386L966 380L967 373L968 367L969 361L969 355L970 349L970 343L969 338L969 332L969 327L968 321Z" fill="#3875fe"/>
<path d="M967 316L966 311L965 306L963 301L962 296L960 291L958 287L957 282L955 277L954 272L951 268L949 264L946 259L943 255L941 251L938 246L934 242L930 239L926 235L922 232L918 229L914 225L910 222L905 220L900 217L895 215L890 213L884 211L879 210L873 208L868 207L862 205L856 203L850 201L843 200L836 198L829 196L822 196L813 194L804 191L793 187L782 184L772 183L761 184L750 185L739 188L732 194L727 202L721 210L716 218L711 226L708 234L705 244L703 253L700 262L698 271L697 280L696 289L696 298L695 307L695 316L695 325L695 334L695 343L696 353L697 362L699 371L701 380L704 389L707 398L714 405L721 411L728 417L735 423L742 429L749 435L756 440L764 444L772 448L780 452L788 454L797 455L805 456L813 459L821 461L828 463L837 463L845 463L852 463L860 463L868 461L875 459L883 457L890 455L897 454L904 450L910 446L916 442L923 439L929 435L934 430L938 425L943 420L947 414L952 409L955 403L958 397L960 391L962 385L964 379L965 372L966 366L967 360L968 354L968 349L968 343L968 337L968 332L968 327L967 321Z" fill="#307ffb"/>
<path d="M966 316L965 311L964 306L962 301L961 296L959 292L957 287L956 282L954 278L953 273L950 268L948 264L945 260L942 256L940 251L937 247L933 243L930 240L926 236L922 233L918 230L914 226L909 223L904 221L899 219L894 217L889 214L884 212L879 211L873 210L868 208L862 207L856 205L850 203L843 202L837 200L830 198L822 198L815 197L806 195L796 192L787 191L777 192L768 193L759 195L750 198L743 203L738 211L733 218L728 225L723 232L720 240L717 249L715 257L713 266L711 274L709 282L708 291L708 299L707 308L707 316L707 324L707 333L707 342L707 350L708 359L709 368L711 376L713 385L716 393L722 400L728 407L734 413L740 420L745 426L752 432L759 437L766 441L774 446L781 450L789 452L798 453L806 455L814 457L821 460L829 461L837 461L845 461L853 461L860 461L868 460L875 457L882 456L890 454L897 452L903 448L909 444L916 440L922 437L928 433L933 428L937 423L942 418L946 412L950 407L953 401L956 395L958 389L960 383L962 377L963 371L964 365L965 359L966 354L967 348L967 343L967 337L967 332L967 326L966 321Z" fill="#2d87f6"/>
<path d="M965 316L964 311L963 306L961 301L960 296L958 292L956 287L955 283L953 278L952 273L949 269L947 265L944 261L941 256L939 252L936 248L933 244L929 241L925 237L921 234L917 231L913 227L909 224L904 222L899 220L894 218L889 216L884 214L879 213L873 211L868 210L862 208L856 207L850 205L844 204L837 202L830 200L823 200L816 200L808 198L799 197L790 196L782 198L774 200L765 202L757 205L751 210L746 217L741 224L737 231L732 238L729 245L727 253L725 261L723 269L721 277L720 285L719 292L719 300L718 308L718 316L718 324L717 332L717 340L716 348L717 356L718 365L719 373L721 381L723 390L728 397L733 403L739 410L744 416L749 423L755 429L761 434L768 439L775 443L782 447L791 450L799 451L807 453L814 456L822 458L829 459L837 459L845 459L853 459L860 459L868 458L875 456L882 454L889 452L896 450L903 446L909 442L915 438L921 435L926 431L931 426L936 421L940 415L944 410L948 405L951 399L954 393L956 387L958 382L960 376L961 370L962 364L963 358L964 353L965 348L965 342L965 337L965 331L965 326L965 321Z" fill="#2c90f0"/>
<path d="M964 316L963 311L962 306L960 301L959 297L957 292L955 288L954 283L952 278L951 274L948 270L946 265L943 261L941 257L938 253L935 249L932 245L928 242L924 238L920 235L916 232L912 229L908 226L903 224L898 222L894 220L889 218L884 216L878 215L873 213L868 212L862 210L857 209L851 207L844 206L838 204L831 203L824 203L817 202L809 201L801 200L792 200L785 202L777 204L770 207L762 210L756 215L751 221L746 228L742 234L738 241L734 248L732 256L730 263L728 271L726 278L725 286L724 293L724 301L723 308L722 316L722 324L722 331L722 339L722 347L722 355L724 363L725 371L727 379L729 387L734 393L738 400L743 407L747 413L752 420L757 426L764 431L771 436L777 441L784 445L792 448L800 450L807 452L815 454L822 457L830 458L838 458L845 458L853 458L860 457L868 456L875 454L882 452L889 450L896 448L902 444L908 440L914 436L920 432L925 429L930 424L934 418L938 413L942 408L946 403L949 397L951 391L954 386L956 380L958 375L959 369L960 363L961 358L963 352L964 347L964 342L964 336L964 331L964 326L964 321Z" fill="#2798ea"/>
<path d="M963 316L962 311L961 306L959 302L958 297L956 292L954 288L953 283L951 279L950 274L947 270L945 266L942 262L940 258L937 254L934 249L931 246L927 243L923 239L920 236L916 233L912 230L907 227L903 225L898 223L893 221L888 219L883 218L878 216L873 215L868 214L862 212L857 211L851 210L845 208L839 207L832 206L825 206L818 205L811 205L803 204L795 204L788 206L781 209L774 212L767 215L761 219L756 226L752 232L747 238L743 244L740 251L738 258L736 265L734 272L731 279L730 287L729 294L729 301L728 309L727 316L727 323L727 331L727 338L727 346L728 353L730 361L731 368L733 376L735 384L739 390L743 397L748 403L752 410L756 417L761 423L767 427L774 432L780 436L787 441L794 443L802 445L810 447L817 449L824 452L831 453L839 454L846 454L853 454L861 454L868 453L875 451L882 449L889 447L895 445L901 441L907 437L913 433L918 430L924 426L928 421L933 416L937 411L940 406L944 401L947 395L949 389L952 384L954 379L956 373L957 368L959 362L960 357L961 352L962 347L962 341L963 336L963 331L963 326L963 321Z" fill="#249fe5"/>
<path d="M962 316L961 311L960 306L958 302L957 297L955 293L953 288L952 284L950 279L949 275L946 271L944 267L941 263L939 258L936 254L934 250L930 247L926 244L923 241L919 237L915 234L911 231L907 229L902 227L897 225L893 223L888 221L883 219L878 218L873 217L868 216L862 215L857 213L851 212L846 211L839 210L833 209L827 209L820 209L813 209L806 208L798 209L792 212L785 214L779 217L772 220L766 224L762 230L758 236L753 242L749 247L746 254L744 261L741 267L739 274L737 281L735 288L734 295L734 302L733 309L732 316L732 323L732 330L732 337L732 345L733 352L735 359L737 366L738 374L740 381L744 387L748 394L753 400L757 406L761 412L766 418L772 423L778 427L784 432L790 436L797 438L805 440L812 442L818 445L825 447L832 449L840 449L847 450L854 450L861 450L868 449L875 447L881 445L888 443L894 441L900 438L906 434L912 430L917 427L923 424L927 419L931 414L935 409L939 404L943 399L946 394L948 388L950 383L953 378L955 372L956 367L957 362L958 356L960 351L961 346L961 341L961 336L962 331L962 326L962 321Z" fill="#1ea7e1"/>
<path d="M961 316L960 311L959 306L957 302L956 297L954 293L952 289L951 284L949 280L948 275L945 271L943 267L940 263L938 259L935 255L933 251L929 248L926 244L922 241L918 239L914 236L910 233L906 230L902 228L897 226L892 224L888 222L883 221L878 220L873 219L868 217L863 216L857 215L852 215L846 214L840 213L834 212L828 212L822 213L815 213L808 213L801 214L796 217L790 220L784 223L778 226L772 230L768 235L764 240L759 246L755 251L752 257L749 263L747 270L745 276L742 282L741 289L740 296L739 302L738 309L737 316L737 323L737 330L737 337L738 344L739 351L740 357L742 364L744 371L746 378L749 384L753 390L757 396L761 402L765 408L770 414L776 418L782 422L787 427L793 431L800 434L807 435L814 437L820 440L827 443L833 444L840 445L847 445L854 446L861 446L868 445L874 443L881 441L887 440L894 438L899 434L905 431L911 428L916 424L921 421L926 416L930 412L934 407L938 402L941 398L944 392L947 387L949 382L951 377L953 371L954 366L956 361L957 356L958 351L959 346L960 341L960 336L961 331L961 326L961 321Z" fill="#18addb"/>
<path d="M959 316L959 311L958 307L956 302L954 298L953 293L951 289L950 285L948 280L947 276L944 272L942 268L939 264L937 260L934 256L932 252L929 248L925 245L921 242L917 240L914 237L910 234L906 231L901 229L897 227L892 225L887 224L883 222L878 221L873 220L868 219L863 218L857 217L852 217L847 216L841 216L835 215L829 216L823 216L817 217L811 217L805 219L799 222L794 225L789 228L783 231L778 235L774 240L769 245L765 249L761 254L758 260L755 266L753 272L750 278L748 284L746 290L745 297L744 303L743 309L742 316L742 323L742 329L742 336L743 343L744 349L745 356L747 362L749 369L751 376L755 381L758 387L762 393L766 398L770 404L775 409L780 413L785 418L791 422L796 426L803 429L809 431L816 433L822 435L828 438L835 439L841 440L848 441L855 441L861 442L868 441L874 439L881 438L887 436L893 434L899 431L904 428L910 425L915 422L920 419L924 414L928 409L932 405L936 400L940 396L943 391L945 386L947 380L950 376L952 371L953 365L954 360L956 355L957 350L958 345L958 340L959 335L959 330L960 326L960 321Z" fill="#0cb3d3"/>
<path d="M958 316L958 311L956 307L955 302L953 298L952 293L950 289L949 285L947 281L946 276L943 272L941 268L939 265L936 261L934 257L931 253L928 249L924 246L921 243L917 241L913 238L909 235L905 232L901 230L896 229L892 227L887 225L882 223L878 222L873 221L868 220L863 219L858 219L852 219L847 218L842 218L836 218L830 218L824 219L819 219L812 220L806 221L801 224L796 228L791 231L785 234L780 237L776 242L773 247L769 252L765 257L762 262L759 268L757 273L755 279L752 285L751 291L750 297L749 303L748 310L747 316L747 322L747 329L748 335L748 341L749 348L751 354L752 360L754 367L756 373L760 378L763 384L767 389L771 394L775 400L779 404L784 409L789 413L794 417L799 421L805 424L812 426L818 429L824 431L830 434L836 435L842 436L849 437L855 437L861 438L868 437L874 436L880 434L886 433L892 431L898 428L903 425L908 422L914 419L919 416L923 412L927 407L931 403L935 399L939 395L941 390L944 384L946 379L948 374L950 370L952 364L953 359L954 354L956 350L957 345L957 340L958 335L958 330L958 326L958 321Z" fill="#01b8c9"/>
<path d="M957 316L957 311L955 307L954 302L952 298L951 294L949 290L948 285L946 281L945 277L942 273L940 269L938 265L935 261L933 258L930 254L927 250L923 247L920 244L916 242L912 239L909 236L905 233L900 231L896 230L891 228L887 226L882 225L878 224L873 223L868 222L863 221L858 221L853 221L848 221L842 220L837 220L831 221L826 221L820 222L814 223L808 224L803 227L798 230L793 233L788 236L783 240L779 244L776 249L772 254L768 259L765 264L763 269L761 275L759 281L757 286L755 292L754 298L753 304L752 310L752 316L752 322L752 328L752 334L752 341L753 347L755 353L756 359L758 365L760 371L763 376L767 381L771 387L774 392L778 397L782 401L787 406L792 410L797 414L802 418L807 421L813 423L819 425L825 427L831 430L837 431L843 432L849 433L855 434L862 434L868 433L874 432L880 430L886 429L892 428L897 425L902 422L907 419L912 416L918 414L922 410L926 405L930 401L933 397L937 393L940 388L942 383L945 378L947 373L949 369L950 364L952 359L953 354L954 349L955 344L956 340L956 335L957 330L957 325L957 321Z" fill="#08bcbe"/>
<path d="M956 316L955 311L954 307L953 303L951 298L950 294L948 290L947 286L945 282L944 277L941 273L939 270L937 266L934 262L932 258L929 254L926 251L923 248L919 245L915 243L912 240L908 237L904 234L900 233L895 231L891 229L887 227L882 226L877 225L873 224L868 223L863 222L858 222L853 222L848 223L843 223L837 223L832 223L827 224L821 225L815 225L810 227L805 230L800 233L796 236L791 239L786 242L782 247L779 251L775 256L771 260L768 265L766 271L764 276L762 282L760 287L759 293L758 299L757 304L756 310L755 316L755 322L756 328L756 334L756 340L757 346L759 351L760 357L762 363L764 369L767 374L771 379L774 384L778 389L781 394L785 398L790 402L795 406L799 410L804 414L809 417L815 419L821 421L827 423L832 426L838 427L844 428L850 429L856 430L862 430L868 430L874 428L879 427L885 426L891 424L896 422L901 419L906 416L911 414L916 411L921 407L924 403L928 399L932 395L936 391L939 387L941 382L943 377L945 372L947 368L949 363L950 358L951 353L953 349L954 344L954 339L955 335L955 330L956 325L956 321Z" fill="#1cc0b4"/>
<path d="M955 316L954 311L953 307L952 303L950 299L949 294L947 290L946 286L944 282L943 278L941 274L938 270L936 267L934 263L931 259L929 255L926 252L922 249L918 246L915 243L911 241L908 238L904 235L899 234L895 232L891 230L886 229L882 227L877 226L873 225L868 224L863 224L858 224L853 224L848 225L843 225L838 225L833 226L828 226L823 227L817 228L812 230L807 233L803 235L798 238L793 241L789 245L785 249L782 253L778 258L775 262L772 267L770 272L767 277L765 283L764 288L762 294L761 299L760 305L759 310L759 316L759 322L759 327L760 333L760 339L761 345L762 350L764 356L766 362L767 367L771 372L774 377L777 382L781 386L784 391L788 395L793 399L797 403L802 407L806 411L812 413L817 415L823 418L828 420L833 422L839 424L845 424L851 425L856 426L862 426L868 426L873 425L879 423L885 422L890 421L895 418L900 416L905 413L910 411L915 409L919 405L923 401L927 397L931 394L934 390L937 385L939 380L942 376L944 371L946 367L947 362L949 357L950 353L951 348L952 344L953 339L954 334L954 330L955 325L955 321Z" fill="#2bc3a8"/>
<path d="M953 316L953 312L952 307L950 303L949 299L948 295L946 291L945 286L943 282L942 278L940 274L937 271L935 267L933 263L930 260L928 256L925 253L921 250L918 247L914 244L911 242L907 239L903 237L899 235L895 233L890 232L886 230L882 229L877 228L872 227L868 226L863 225L858 225L854 226L849 226L844 226L839 227L834 227L829 228L824 229L818 230L813 232L809 235L805 238L800 241L796 244L791 247L788 251L784 255L781 260L778 264L775 269L773 274L771 279L769 284L767 289L765 294L764 300L764 305L763 310L762 316L762 322L763 327L763 333L764 338L765 344L766 349L768 354L769 360L771 365L774 370L778 375L781 379L784 384L788 388L791 392L796 396L800 400L804 404L809 407L814 410L819 412L824 414L829 416L835 418L840 420L846 421L851 421L857 422L862 423L868 422L873 421L879 420L884 419L889 418L894 415L899 413L904 411L909 408L914 406L918 403L922 399L925 395L929 392L933 388L935 384L938 379L940 374L942 370L944 366L946 361L947 356L948 352L950 347L951 343L952 338L952 334L953 329L953 325L953 320Z" fill="#34c79c"/>
<path d="M952 316L952 312L951 307L949 303L948 299L947 295L945 291L944 287L942 283L941 279L939 275L937 271L934 268L932 264L930 260L927 257L924 253L921 251L917 248L914 245L910 243L907 240L903 238L899 236L894 234L890 233L886 231L881 230L877 229L872 228L868 227L863 227L858 227L854 227L849 228L844 228L839 228L834 229L829 230L824 231L819 232L814 234L810 237L806 240L802 243L797 245L793 249L790 253L786 257L783 261L780 265L777 270L775 275L773 280L771 285L770 290L768 295L767 300L766 305L766 311L765 316L765 321L766 327L766 332L767 338L768 343L769 348L771 353L772 359L774 364L777 368L780 373L783 377L787 382L790 386L794 390L798 394L802 398L806 401L810 405L815 407L820 409L825 411L831 413L836 415L841 417L846 418L852 418L857 419L862 420L868 419L873 418L878 417L884 416L889 415L894 413L898 410L903 408L908 406L912 404L917 400L920 397L924 393L928 390L931 386L934 382L936 378L938 373L941 369L943 365L944 360L946 356L947 351L948 347L950 343L950 338L951 334L952 329L952 325L952 320Z" fill="#3fca8e"/>
<path d="M951 316L951 312L950 307L948 303L947 299L946 295L944 291L943 287L941 283L940 279L938 275L936 272L934 268L931 265L929 261L926 257L923 254L920 251L917 249L913 246L910 244L906 241L902 239L898 237L894 236L890 234L886 232L881 231L877 230L872 229L868 229L863 228L859 228L854 229L849 229L845 230L840 230L835 231L830 232L825 232L820 234L815 235L811 238L807 241L803 244L799 247L795 250L791 254L788 258L785 262L782 266L779 271L777 276L776 281L774 285L772 290L771 295L770 300L769 306L768 311L768 316L768 321L768 326L769 332L769 337L770 342L772 347L773 352L775 357L777 362L780 367L783 371L786 376L789 380L792 384L796 388L800 392L804 395L808 399L812 402L817 405L822 406L827 408L832 410L836 412L842 414L847 415L852 415L857 416L863 417L868 416L873 415L878 414L883 413L888 412L893 410L898 408L902 406L907 404L911 401L915 398L919 395L923 391L926 388L930 385L932 380L935 376L937 372L939 368L941 364L943 359L944 355L945 351L947 346L948 342L949 338L950 333L950 329L951 325L951 320Z" fill="#52cc7e"/>
<path d="M950 316L949 312L948 308L947 303L946 299L945 295L943 291L942 288L941 284L939 280L937 276L935 272L933 269L931 265L928 262L926 258L923 255L919 252L916 250L913 247L909 245L905 242L902 240L898 238L894 237L889 235L885 234L881 232L877 232L872 231L868 230L863 230L859 230L854 230L850 231L845 231L840 231L836 232L831 233L826 234L821 235L817 237L813 240L809 243L805 246L800 249L796 252L793 256L790 260L787 264L784 268L781 272L780 277L778 281L776 286L774 291L773 296L772 301L771 306L771 311L770 316L771 321L771 326L771 331L772 336L773 341L775 346L776 351L778 356L779 361L782 365L785 370L788 374L791 378L794 382L798 386L802 389L806 393L810 396L814 400L818 402L823 404L828 406L833 408L837 410L842 411L847 412L853 412L858 413L863 413L868 413L873 412L878 411L883 410L888 409L892 407L897 405L901 403L906 401L910 399L914 396L918 393L921 390L925 386L928 383L931 379L933 375L935 371L937 367L940 363L941 358L943 354L944 350L945 346L947 342L948 337L948 333L949 329L950 325L950 320Z" fill="#66cd6d"/>
<path d="M949 316L948 312L947 308L946 304L945 300L944 296L942 292L941 288L940 284L938 280L936 276L934 273L932 269L930 266L927 262L925 259L922 256L919 253L915 250L912 248L909 246L905 243L901 241L897 239L893 238L889 236L885 235L881 234L877 233L872 232L868 231L863 231L859 231L854 232L850 232L845 233L841 233L836 234L832 235L827 236L822 237L818 239L814 242L810 245L806 247L802 250L798 253L795 257L792 261L789 265L786 269L784 273L782 278L780 282L778 287L777 292L775 296L775 301L774 306L773 311L773 316L773 321L774 326L774 331L775 336L776 341L777 345L779 350L780 355L782 360L785 364L788 368L791 372L793 376L796 380L800 384L804 387L807 391L811 394L815 397L820 399L824 401L829 403L834 405L838 407L843 408L848 409L853 409L858 410L863 410L868 410L873 409L878 408L882 407L887 407L892 405L896 403L900 401L905 399L909 397L913 394L917 391L920 388L924 385L927 382L930 378L932 374L934 370L936 366L938 362L940 358L941 353L943 349L944 345L946 341L946 337L947 333L948 329L948 324L949 320Z" fill="#7dcc5c"/>
<path d="M948 316L947 312L946 308L945 304L944 300L943 296L942 292L940 288L939 284L937 281L936 277L933 273L931 270L929 266L927 263L924 259L921 256L918 254L915 251L911 249L908 246L904 244L901 242L897 240L893 239L889 238L885 236L881 235L876 234L872 234L868 233L863 233L859 233L855 233L850 234L846 234L841 235L837 236L832 237L828 238L823 239L819 241L815 243L811 246L808 249L804 252L800 255L797 259L794 262L791 266L788 270L786 274L784 279L782 283L781 288L779 292L778 297L777 302L776 306L776 311L775 316L776 321L776 326L776 330L777 335L778 340L780 345L781 349L783 354L784 359L787 363L790 367L793 371L795 375L798 379L802 382L805 385L809 389L813 392L817 395L821 397L826 399L830 401L835 402L839 404L844 406L849 406L853 407L858 408L863 408L868 408L873 407L877 406L882 405L887 404L891 403L895 401L900 399L904 397L908 395L912 393L916 390L919 387L923 384L926 380L928 377L931 373L933 369L935 365L937 361L939 357L940 353L942 349L943 345L945 341L945 337L946 333L947 329L947 324L948 320Z" fill="#94ca4a"/>
<path d="M947 316L946 312L946 308L944 304L943 300L942 296L941 292L939 289L938 285L937 281L935 277L933 274L930 270L928 267L926 264L924 260L921 257L918 255L914 252L911 250L907 247L904 245L900 243L896 242L892 240L888 239L884 237L880 236L876 236L872 235L868 234L864 234L859 234L855 235L851 235L846 236L842 236L838 237L833 238L829 239L824 241L820 242L816 245L813 248L809 251L805 253L802 256L799 260L796 264L793 267L790 271L788 275L786 280L784 284L783 288L781 293L780 297L779 302L779 307L778 311L778 316L778 321L778 325L779 330L780 335L781 339L782 344L783 348L785 353L786 357L789 361L792 365L795 369L797 373L800 377L803 380L807 384L811 387L814 390L818 393L822 395L827 397L831 398L836 400L840 402L844 403L849 404L854 404L858 405L863 405L868 405L872 404L877 404L882 403L886 402L890 400L895 399L899 397L903 395L907 394L911 391L915 388L918 385L921 382L925 379L927 376L930 372L932 368L934 364L936 360L938 356L939 352L941 348L942 345L943 341L944 336L945 332L946 328L946 324L947 320Z" fill="#aac73a"/>
<path d="M946 316L945 312L945 308L943 304L942 300L941 296L940 293L938 289L937 285L936 281L934 278L932 274L930 271L928 268L925 264L923 261L920 258L917 255L914 253L910 251L907 248L903 246L900 244L896 243L892 241L888 240L884 239L880 238L876 237L872 236L868 236L864 235L859 236L855 236L851 237L847 237L842 238L838 239L834 240L830 241L825 242L821 244L818 247L814 250L810 252L807 255L803 258L800 261L798 265L795 269L792 272L790 276L788 281L787 285L785 289L784 293L783 298L782 302L781 307L781 311L780 316L781 321L781 325L781 330L782 334L783 339L784 343L786 348L787 352L789 356L791 360L794 364L797 368L799 371L802 375L805 379L809 382L812 385L816 388L819 391L824 393L828 394L832 396L836 398L841 399L845 401L850 401L854 402L859 402L863 403L868 402L872 402L877 401L881 401L886 400L890 398L894 397L898 395L902 394L906 392L910 389L914 387L917 384L920 381L924 378L926 374L928 371L931 367L933 363L935 360L936 356L938 352L939 348L941 344L942 340L943 336L944 332L945 328L945 324L946 320Z" fill="#bfc32e"/>
<path d="M945 316L944 312L944 308L942 304L941 300L940 297L939 293L938 289L936 286L935 282L933 278L931 275L929 272L927 268L925 265L922 262L919 259L916 256L913 254L910 252L906 249L903 247L899 245L896 244L892 242L888 241L884 240L880 239L876 238L872 238L868 237L864 237L860 237L855 238L851 238L847 239L843 240L839 241L835 242L830 243L826 244L822 246L819 249L815 251L812 254L808 257L805 259L802 263L799 266L797 270L794 274L792 277L790 282L789 286L787 290L786 294L785 298L784 303L784 307L783 312L783 316L783 320L783 325L784 329L784 334L785 338L787 342L788 347L789 351L791 355L793 359L796 363L799 366L801 370L804 374L807 377L810 380L814 383L817 386L821 388L825 390L829 392L833 394L837 395L841 397L846 398L850 399L855 399L859 400L863 400L868 400L872 399L877 399L881 398L885 398L889 396L893 395L897 393L901 392L906 390L909 388L913 385L916 382L919 380L922 377L925 373L927 370L929 366L932 362L934 359L935 355L937 351L938 347L940 344L941 340L942 336L943 332L944 328L944 324L945 320Z" fill="#d2bf27"/>
<path d="M943 316L943 312L942 308L941 304L940 301L939 297L937 293L936 290L935 286L933 283L932 279L930 276L928 273L925 269L923 266L921 263L918 260L915 258L912 255L909 253L905 251L902 249L899 247L895 246L891 244L887 243L884 242L880 241L876 240L872 240L868 239L864 239L860 239L856 240L852 241L848 241L844 242L840 243L836 244L832 245L827 246L824 248L820 251L817 253L814 256L810 258L807 261L804 264L802 268L799 271L797 275L795 279L793 283L791 287L790 291L789 295L788 299L787 303L786 307L786 312L786 316L786 320L786 325L787 329L787 333L788 337L790 341L791 346L792 350L794 354L796 357L799 361L801 365L804 368L806 371L809 375L812 377L816 380L819 383L823 386L826 388L830 389L834 391L838 392L842 394L847 395L851 396L855 396L859 397L864 397L868 397L872 396L876 396L880 395L885 395L889 393L892 392L896 391L900 389L904 388L908 385L911 383L915 380L918 378L921 375L923 372L926 368L928 365L930 361L932 358L934 354L935 350L937 347L938 343L939 339L940 335L941 332L942 328L943 324L943 320Z" fill="#e2bc2b"/>
<path d="M941 316L941 312L940 308L939 305L938 301L937 297L936 294L935 290L933 287L932 283L930 280L928 277L926 273L924 270L922 267L920 264L917 261L914 259L911 257L908 255L904 252L901 250L898 249L894 247L890 246L887 245L883 244L879 243L876 243L872 242L868 242L864 241L860 242L856 242L852 243L848 243L844 244L840 245L837 246L833 247L829 248L825 250L822 253L819 255L815 258L812 260L809 263L806 266L804 269L801 273L799 276L797 280L795 284L794 288L793 292L791 296L790 300L790 304L789 308L789 312L789 316L789 320L789 324L790 328L790 332L791 337L792 340L794 344L795 348L797 352L799 356L801 359L804 363L806 366L809 369L811 372L815 375L818 378L821 380L824 383L828 385L832 386L836 388L840 390L843 391L847 392L851 393L856 393L860 394L864 394L868 394L872 393L876 393L880 392L884 392L888 391L892 389L895 388L899 387L903 385L907 383L910 381L913 378L916 376L919 373L922 370L924 367L926 363L928 360L930 357L932 353L933 349L935 346L936 342L938 339L939 335L939 331L940 327L941 324L941 320Z" fill="#f1ba37"/>
<path d="M940 316L939 312L939 309L938 305L937 301L936 298L934 294L933 291L932 287L931 284L929 281L927 278L925 274L923 271L921 268L919 265L916 263L913 260L910 258L907 256L904 254L900 252L897 250L893 249L890 248L886 247L883 246L879 245L875 245L872 244L868 244L864 244L860 244L856 244L853 245L849 246L845 246L841 247L837 248L834 249L830 250L826 252L823 255L820 257L817 260L814 262L811 265L808 268L806 271L804 274L801 278L799 281L798 285L797 289L795 292L794 296L793 300L793 304L792 308L792 312L791 316L792 320L792 324L793 328L793 332L794 336L795 340L797 343L798 347L799 351L802 354L804 358L806 361L808 364L811 367L814 370L817 373L820 375L823 378L826 380L830 382L833 384L837 385L841 387L844 388L848 389L852 390L856 390L860 391L864 391L868 391L872 390L876 390L879 389L883 389L887 388L891 387L894 385L898 384L902 383L905 381L909 379L912 376L915 374L918 371L920 368L922 365L924 362L927 359L929 355L930 352L932 349L933 345L935 342L936 338L937 335L938 331L938 327L939 323L939 320Z" fill="#fcbd3d"/>
<path d="M936 316L935 312L935 309L934 306L933 302L932 299L931 296L930 292L928 289L927 286L926 283L924 280L922 277L920 274L918 271L916 268L913 266L910 263L907 261L904 260L901 258L898 256L895 254L892 253L889 252L885 251L882 250L878 249L875 249L871 249L868 248L864 248L861 248L857 249L854 249L850 250L847 251L843 251L840 252L836 254L833 255L829 257L826 259L824 261L821 264L818 266L815 268L813 271L810 274L808 277L806 280L804 284L803 287L801 290L800 294L799 297L798 301L797 305L797 309L796 312L796 316L796 320L796 324L797 327L797 331L798 335L799 338L801 342L802 345L803 349L805 352L807 355L810 358L812 361L814 364L817 367L819 370L822 372L825 375L828 377L832 379L835 380L839 382L842 383L846 384L849 385L853 386L857 387L860 387L864 387L868 387L872 387L875 386L879 386L883 386L886 385L890 384L893 382L897 381L900 380L904 378L907 376L910 374L913 372L916 369L918 366L920 363L922 360L924 357L926 354L927 350L929 347L930 344L931 340L933 337L933 334L934 330L935 327L935 323L935 320Z" fill="#fec537"/>
<path d="M929 316L929 313L928 310L928 307L927 303L926 300L925 297L924 294L923 291L922 289L920 286L919 283L917 280L915 278L913 275L911 273L909 270L906 268L904 267L901 265L898 263L896 262L893 260L890 259L887 258L884 257L880 256L877 256L874 255L871 255L868 255L865 255L861 255L858 256L855 256L852 257L849 257L846 258L843 259L840 261L837 262L834 264L831 266L829 268L826 270L824 272L821 274L819 277L817 279L815 282L813 284L811 287L809 290L808 293L806 296L805 299L804 302L803 306L803 309L802 313L802 316L802 319L802 323L803 326L803 330L804 333L805 337L806 340L807 343L808 346L810 349L812 352L814 355L816 358L818 361L821 363L823 366L826 368L828 370L831 373L834 374L837 376L840 377L844 379L847 380L850 381L854 382L857 382L861 383L864 383L868 383L871 383L875 382L878 382L882 382L885 381L889 380L892 379L895 378L899 377L902 375L905 373L908 371L911 369L913 367L916 364L918 361L919 358L921 355L923 352L924 348L925 345L926 342L927 339L928 335L928 332L929 329L929 326L929 322L929 319Z" fill="#fccf30"/>
<path d="M925 316L925 313L924 310L924 307L923 304L922 301L921 299L920 296L919 293L918 290L917 288L915 285L914 283L912 280L910 278L908 276L906 274L904 272L901 270L899 268L896 267L894 265L891 264L888 263L885 262L882 261L880 260L877 260L874 259L871 259L868 259L865 259L862 259L859 260L856 260L853 261L850 262L847 263L845 264L842 265L839 266L837 268L834 270L832 272L830 274L827 276L825 278L823 280L821 282L819 284L817 287L815 289L814 292L812 295L811 298L810 300L809 303L808 306L807 310L807 313L806 316L806 319L806 322L807 326L807 329L808 332L809 335L810 338L811 341L812 344L814 347L815 350L817 353L819 355L821 358L824 360L826 363L828 365L831 367L833 369L836 371L839 373L842 374L845 375L848 377L851 378L855 378L858 379L861 379L864 380L868 380L871 379L874 379L878 379L881 378L884 378L888 377L891 376L894 375L897 374L900 372L903 370L906 368L909 366L911 364L913 362L915 359L917 356L919 353L920 350L921 347L922 344L923 341L924 337L924 334L925 331L925 328L925 325L925 322L925 319Z" fill="#f8d92c"/>
<path d="M923 316L923 313L922 310L922 307L921 305L920 302L920 299L919 296L918 294L916 291L915 289L914 286L912 284L910 282L909 279L907 277L905 275L902 273L900 272L898 270L895 268L893 267L890 266L887 265L885 264L882 263L879 262L876 262L874 261L871 261L868 261L865 261L862 261L859 262L856 262L854 263L851 264L848 265L845 266L843 267L840 268L838 270L835 271L833 273L831 275L829 277L827 279L825 281L823 283L821 286L819 288L817 290L816 293L815 296L813 298L812 301L811 304L810 307L810 310L809 313L809 316L809 319L809 322L809 325L810 328L810 331L811 334L812 337L813 340L814 343L816 346L818 349L820 351L821 354L823 356L826 358L828 361L830 363L832 365L835 367L837 369L840 370L843 372L846 373L849 374L852 375L855 376L858 376L861 377L865 377L868 377L871 377L874 376L877 376L880 376L884 375L887 374L890 373L893 372L896 371L899 370L901 368L904 366L907 364L909 362L911 360L913 357L915 354L917 351L918 349L919 346L920 343L921 340L922 337L922 334L923 331L923 328L923 325L923 322L923 319Z" fill="#f5e327"/>
<path d="M921 316L921 313L920 310L920 308L919 305L919 302L918 300L917 297L916 295L915 292L913 290L912 287L911 285L909 283L907 281L905 279L903 277L901 275L899 273L897 272L894 270L892 269L889 268L887 267L884 266L881 265L879 264L876 264L873 263L871 263L868 263L865 263L862 263L860 264L857 264L854 265L851 266L849 267L846 268L844 269L841 270L839 271L837 273L834 275L832 277L830 279L828 280L826 282L825 285L823 287L821 289L819 291L818 294L817 296L816 299L815 302L814 304L813 307L812 310L812 313L812 316L812 319L812 322L812 325L813 328L813 331L814 334L815 336L816 339L817 342L818 344L820 347L822 349L824 352L825 354L827 356L830 358L832 360L834 363L836 364L839 366L841 368L844 369L847 370L850 371L853 372L856 373L859 373L862 374L865 374L868 374L871 374L874 374L877 373L880 373L883 372L886 371L889 371L892 370L895 368L897 367L900 365L902 364L905 362L907 360L910 358L911 355L913 353L914 350L916 347L917 344L918 342L919 339L919 336L920 333L920 330L921 327L921 324L921 322L921 319Z" fill="#f5ed22"/>
<path d="M918 316L918 313L918 311L917 308L917 306L916 303L916 300L915 298L914 296L913 293L911 291L910 289L908 286L907 284L905 282L903 280L901 279L899 277L897 275L895 274L893 272L891 271L888 270L886 269L883 268L881 267L878 267L876 266L873 266L870 266L868 266L865 266L863 266L860 266L857 267L855 267L852 268L850 269L847 270L845 271L843 272L840 274L838 275L836 277L834 279L832 280L830 282L829 284L827 286L825 288L824 291L823 293L821 295L820 298L819 300L819 303L818 305L817 308L817 311L817 313L816 316L817 319L817 321L817 324L817 327L818 329L819 332L820 334L821 337L822 339L823 342L824 344L826 346L828 349L829 351L831 353L833 354L835 356L837 358L840 360L842 361L844 362L847 364L849 365L852 365L854 366L857 367L860 367L862 368L865 368L868 368L871 368L873 368L876 367L879 367L881 366L884 366L886 365L889 364L892 363L894 361L896 360L899 358L901 357L903 355L905 353L907 351L908 349L910 346L911 344L912 342L914 339L915 337L916 334L916 332L917 329L917 327L918 324L918 321L918 319Z" fill="#f8f61a"/>
</g></g>
<circle cx="867.8" cy="316" r="49.3" fill="#fff"/>
<circle cx="867.8" cy="316" r="24.8" fill="#fff" stroke="#000" stroke-width="1"/>
<path d="M842.5 316a25.3 25.3 0 0 0 50.6 0z" fill="#000"/>
<path d="M830.7 203.1L797.3 203.1L764.1 219.3L742 247.9L729.4 283.5L725 315L726.5 348.6L735.2 383.3L756.4 420.9L785.3 447.9L823.9 462.3L862.5 462.8L896.6 452.7L928.5 432.4L950.6 404.5L960.3 377.5L964.1 348.6L963.2 325.4L961.5 310L957.4 299L947.7 273.9L931.3 248.8L908.2 227.6L885.1 216.1L860 209.3L830.7 203.1Z" stroke="#000" stroke-width="2.1" fill="none" stroke-linejoin="round"/>
<g fill="none" stroke="#1ef03c" stroke-width="1.1">
<path d="M862.5 168.5L936.9 188.4L991.4 242.9L1011.3 317.3L991.4 391.7L936.9 446.2L862.5 466.1L788.1 446.2L733.6 391.7L713.7 317.3L733.6 242.9L788.1 188.4"/>
<path d="M854 160H871V177H854ZM928.4 179.9H945.4V196.9H928.4ZM982.9 234.4H999.9V251.4H982.9ZM1002.8 308.8H1019.8V325.8H1002.8ZM982.9 383.2H999.9V400.2H982.9ZM928.4 437.7H945.4V454.7H928.4ZM854 457.6H871V474.6H854ZM779.6 437.7H796.6V454.7H779.6ZM725.1 383.2H742.1V400.2H725.1ZM705.2 308.8H722.2V325.8H705.2ZM725.1 234.4H742.1V251.4H725.1ZM779.6 179.9H796.6V196.9H779.6Z"/>
</g>
<g fill="none" stroke="#e01e2d" stroke-width="1.1">
<path d="M862.5 201.6L920.4 217.1L962.7 259.5L978.2 317.3L962.7 375.1L920.4 417.5L862.5 433L804.6 417.5L762.3 375.1L746.8 317.3L762.3 259.4L804.6 217.1"/>
<path d="M853.7 201.6L862.5 192.8L871.3 201.6L862.5 210.4ZM911.6 217.1L920.4 208.3L929.1 217.1L920.4 225.9ZM953.9 259.5L962.7 250.7L971.5 259.5L962.7 268.3ZM969.4 317.3L978.2 308.5L987 317.3L978.2 326.1ZM953.9 375.1L962.7 366.3L971.5 375.1L962.7 383.9ZM911.6 417.5L920.4 408.7L929.1 417.5L920.4 426.3ZM853.7 433L862.5 424.2L871.3 433L862.5 441.8ZM795.9 417.5L804.6 408.7L813.4 417.5L804.6 426.3ZM753.5 375.1L762.3 366.3L771.1 375.1L762.3 383.9ZM738 317.3L746.8 308.5L755.6 317.3L746.8 326.1ZM753.5 259.4L762.3 250.6L771.1 259.4L762.3 268.2ZM795.9 217.1L804.6 208.3L813.4 217.1L804.6 225.9Z"/>
</g>
<g fill="none" stroke="#2420e8" stroke-width="1.2">
<path d="M862.5 235.3L903.5 246.3L933.5 276.3L944.5 317.3L933.5 358.3L903.5 388.3L862.5 399.3L821.5 388.3L791.5 358.3L780.5 317.3L791.5 276.3L821.5 246.3"/>
<path d="M862.5 226.5V244.1M853.7 235.3H871.3M853.7 226.5L871.3 244.1M853.7 244.1L871.3 226.5M903.5 237.5V255.1M894.7 246.3H912.3M894.7 237.5L912.3 255.1M894.7 255.1L912.3 237.5M933.5 267.5V285.1M924.7 276.3H942.3M924.7 267.5L942.3 285.1M924.7 285.1L942.3 267.5M944.5 308.5V326.1M935.7 317.3H953.3M935.7 308.5L953.3 326.1M935.7 326.1L953.3 308.5M933.5 349.5V367.1M924.7 358.3H942.3M924.7 349.5L942.3 367.1M924.7 367.1L942.3 349.5M903.5 379.5V397.1M894.7 388.3H912.3M894.7 379.5L912.3 397.1M894.7 397.1L912.3 379.5M862.5 390.5V408.1M853.7 399.3H871.3M853.7 390.5L871.3 408.1M853.7 408.1L871.3 390.5M821.5 379.5V397.1M812.7 388.3H830.3M812.7 379.5L830.3 397.1M812.7 397.1L830.3 379.5M791.5 349.5V367.1M782.7 358.3H800.3M782.7 349.5L800.3 367.1M782.7 367.1L800.3 349.5M780.5 308.5V326.1M771.7 317.3H789.3M771.7 308.5L789.3 326.1M771.7 326.1L789.3 308.5M791.5 267.5V285.1M782.7 276.3H800.3M782.7 267.5L800.3 285.1M782.7 285.1L800.3 267.5M821.5 237.5V255.1M812.7 246.3H830.3M812.7 237.5L830.3 255.1M812.7 255.1L830.3 237.5"/>
</g>
<clipPath id="ke"><circle cx="1389.3" cy="316" r="196.2"/></clipPath>
<g clip-path="url(#ke)"><g filter="url(#bl)">
<circle cx="1389.3" cy="316" r="204.2" fill="#3f29b2"/>
<circle cx="1389.3" cy="316" r="204.2" fill="#4230c4"/>
<path d="M1594 316L1593 305L1592 295L1591 284L1589 274L1587 263L1584 253L1580 243L1576 233L1571 223L1566 214L1561 205L1555 196L1548 187L1541 179L1534 172L1526 164L1518 157L1509 151L1501 145L1491 139L1482 134L1472 129L1462 125L1452 122L1442 119L1432 116L1421 114L1411 113L1400 112L1389 112L1379 112L1368 113L1357 114L1347 116L1336 119L1326 122L1316 125L1306 129L1297 134L1287 139L1278 145L1269 151L1261 157L1253 164L1245 172L1238 179L1231 187L1224 196L1218 205L1212 214L1207 223L1203 233L1199 243L1195 253L1192 263L1190 274L1188 284L1186 295L1185 305L1185 316L1185 327L1186 337L1188 348L1190 358L1192 369L1195 379L1199 389L1203 399L1207 409L1212 418L1218 427L1224 436L1231 445L1238 453L1245 460L1253 468L1261 475L1269 481L1278 487L1287 493L1297 498L1306 503L1316 507L1326 510L1336 513L1347 515L1358 516L1368 517L1379 518L1389 518L1400 516L1410 514L1420 511L1430 509L1440 505L1449 501L1458 496L1467 491L1476 486L1484 481L1492 474L1499 467L1506 460L1513 454L1520 447L1528 441L1536 435L1545 429L1554 423L1564 417L1571 409L1576 399L1580 389L1584 379L1587 369L1589 358L1591 348L1592 337L1593 327Z" fill="#4536d5"/>
<path d="M1594 316L1593 305L1592 295L1591 284L1589 274L1587 263L1584 253L1580 243L1576 233L1571 223L1566 214L1561 205L1555 196L1548 187L1541 179L1534 172L1526 164L1518 157L1509 151L1501 145L1491 139L1482 134L1472 129L1462 125L1452 122L1442 119L1432 116L1421 114L1411 113L1400 112L1389 112L1379 112L1368 113L1357 114L1347 116L1336 119L1326 122L1316 125L1306 129L1297 134L1287 139L1278 145L1269 151L1261 157L1253 164L1245 172L1238 179L1231 187L1224 196L1218 205L1212 214L1207 223L1203 233L1199 243L1195 253L1192 263L1190 274L1188 284L1186 295L1185 305L1185 316L1185 327L1186 337L1188 348L1190 358L1192 369L1195 379L1199 389L1203 399L1207 409L1212 418L1218 427L1224 436L1231 445L1243 448L1255 450L1263 456L1271 462L1280 467L1288 472L1297 477L1306 480L1315 483L1324 486L1333 489L1342 492L1352 493L1361 494L1371 494L1380 495L1389 495L1399 494L1408 492L1417 491L1426 489L1435 487L1444 484L1452 480L1461 476L1469 473L1477 469L1485 463L1492 457L1499 452L1506 446L1513 440L1520 434L1528 428L1536 422L1544 416L1552 410L1560 403L1568 395L1575 387L1583 379L1587 369L1589 358L1591 348L1592 337L1593 327Z" fill="#473fe2"/>
<path d="M1591 316L1591 305L1591 295L1591 284L1589 274L1587 263L1584 253L1580 243L1576 233L1571 223L1566 214L1561 205L1555 196L1548 187L1541 179L1534 172L1526 164L1518 157L1509 151L1501 145L1491 139L1482 134L1472 129L1462 125L1452 122L1442 119L1432 116L1421 114L1411 113L1400 112L1389 112L1379 112L1368 113L1357 114L1347 116L1336 119L1326 122L1316 125L1306 129L1297 134L1287 139L1278 145L1269 151L1261 157L1253 164L1245 172L1238 179L1231 187L1224 196L1218 205L1212 214L1207 223L1203 233L1199 243L1195 253L1192 263L1190 274L1188 284L1186 295L1185 305L1185 316L1185 327L1186 337L1188 348L1190 358L1192 369L1195 379L1199 389L1203 399L1207 409L1212 418L1218 427L1224 436L1235 441L1247 444L1258 448L1266 453L1274 458L1282 463L1290 468L1299 473L1308 476L1317 479L1326 482L1335 485L1343 487L1353 488L1362 489L1371 489L1380 490L1389 490L1398 488L1407 487L1416 485L1425 483L1433 481L1442 477L1450 473L1458 469L1465 465L1473 461L1480 456L1487 450L1493 444L1500 439L1506 433L1512 427L1519 421L1526 415L1534 410L1541 404L1548 397L1554 390L1561 382L1568 374L1574 365L1578 356L1583 347L1586 337L1590 327Z" fill="#4747ec"/>
<path d="M1572 316L1572 306L1572 297L1572 287L1572 277L1571 267L1569 257L1567 248L1565 238L1562 228L1559 218L1554 209L1549 200L1544 191L1538 182L1532 173L1526 164L1518 157L1509 151L1501 145L1491 139L1482 134L1472 129L1462 125L1452 122L1442 119L1432 116L1421 114L1411 113L1400 112L1389 112L1379 112L1368 113L1357 114L1347 116L1336 119L1326 122L1316 125L1306 129L1297 134L1287 139L1278 145L1269 151L1261 157L1253 164L1245 172L1238 179L1231 187L1224 196L1218 205L1212 214L1207 223L1203 233L1199 243L1195 253L1192 263L1190 274L1188 284L1186 295L1185 305L1185 316L1185 327L1186 337L1188 348L1190 358L1192 369L1195 379L1199 389L1203 399L1207 409L1212 418L1218 427L1229 432L1241 436L1252 440L1261 445L1268 450L1277 455L1285 460L1293 465L1301 469L1310 472L1318 475L1327 478L1336 480L1345 483L1354 484L1363 484L1372 484L1380 485L1389 485L1398 483L1407 481L1415 479L1424 477L1432 475L1440 471L1447 467L1455 463L1462 459L1470 455L1476 449L1482 444L1488 438L1494 432L1500 427L1506 421L1512 415L1518 410L1525 404L1531 398L1537 391L1542 384L1548 377L1553 369L1558 361L1562 353L1566 344L1569 335L1571 326Z" fill="#4850f3"/>
<path d="M1563 316L1562 307L1562 298L1561 289L1560 280L1559 271L1556 262L1553 253L1550 244L1547 236L1543 227L1538 219L1533 211L1528 204L1523 196L1517 188L1512 179L1508 170L1503 159L1498 149L1491 139L1482 134L1472 129L1462 125L1452 122L1442 119L1432 116L1421 114L1411 113L1400 112L1389 112L1379 112L1368 113L1357 114L1347 116L1336 119L1326 122L1316 125L1306 129L1297 134L1287 139L1278 145L1269 151L1261 157L1253 164L1245 172L1238 179L1231 187L1224 196L1218 205L1212 214L1207 223L1203 233L1199 243L1195 253L1192 263L1190 274L1188 284L1186 295L1185 305L1185 316L1185 327L1186 337L1188 348L1190 358L1192 369L1195 379L1199 389L1207 397L1216 404L1224 411L1232 418L1240 424L1248 430L1256 436L1263 442L1271 447L1279 452L1287 457L1295 461L1303 466L1312 469L1320 471L1329 474L1337 476L1346 478L1355 479L1363 479L1372 480L1381 480L1389 480L1398 478L1406 476L1414 474L1422 472L1430 469L1438 465L1445 461L1452 457L1459 453L1466 449L1472 443L1477 437L1483 432L1489 426L1494 421L1500 415L1505 410L1511 405L1517 399L1524 394L1529 387L1534 381L1539 374L1545 366L1550 359L1553 351L1556 342L1559 334L1562 325Z" fill="#4759f8"/>
<path d="M1553 316L1553 307L1552 299L1551 290L1550 282L1548 274L1545 265L1542 257L1539 250L1535 242L1531 234L1527 227L1522 220L1516 213L1511 206L1506 199L1502 191L1498 182L1494 172L1489 163L1484 153L1478 142L1471 132L1462 125L1452 122L1442 119L1432 116L1421 114L1411 113L1400 112L1389 112L1379 112L1368 113L1357 114L1347 116L1336 119L1326 122L1316 125L1306 129L1297 134L1287 139L1278 145L1269 151L1261 157L1253 164L1245 172L1238 179L1231 187L1224 196L1218 205L1212 214L1207 223L1203 233L1199 243L1195 253L1192 263L1190 274L1188 284L1186 295L1185 305L1185 316L1185 327L1186 337L1188 348L1190 358L1192 369L1195 379L1199 389L1210 396L1219 403L1227 410L1235 416L1244 422L1252 427L1259 433L1267 439L1274 444L1282 448L1290 453L1298 457L1305 461L1314 464L1322 467L1331 469L1339 471L1347 473L1356 474L1364 474L1373 474L1381 475L1389 475L1398 473L1406 471L1413 468L1421 466L1429 463L1436 459L1443 455L1449 451L1456 446L1462 442L1468 436L1473 431L1478 426L1483 420L1488 415L1493 410L1499 405L1504 400L1510 394L1516 389L1521 383L1526 377L1531 370L1536 364L1541 357L1544 349L1547 341L1550 333L1552 325Z" fill="#4562fc"/>
<path d="M1547 316L1546 308L1545 300L1544 291L1543 283L1541 275L1538 268L1535 260L1532 253L1529 245L1525 238L1520 231L1515 225L1510 218L1505 212L1500 205L1496 197L1492 189L1488 181L1483 172L1478 163L1472 154L1466 144L1459 134L1452 124L1442 119L1432 116L1421 114L1411 113L1400 112L1389 112L1379 112L1368 113L1357 114L1347 116L1336 119L1326 122L1316 125L1306 129L1297 134L1287 139L1278 145L1269 151L1261 157L1253 164L1245 172L1238 179L1231 187L1224 196L1218 205L1212 214L1207 223L1203 233L1199 243L1195 253L1192 263L1190 274L1188 284L1186 295L1185 305L1185 316L1185 327L1186 337L1188 348L1190 358L1192 369L1195 379L1199 389L1213 394L1222 401L1230 408L1238 414L1247 420L1255 425L1263 430L1270 436L1277 440L1285 445L1293 449L1300 453L1308 457L1316 460L1324 462L1332 464L1340 466L1349 468L1357 469L1365 469L1373 469L1381 469L1389 469L1397 467L1405 465L1413 463L1420 461L1427 458L1434 454L1441 450L1447 446L1453 442L1460 438L1465 432L1470 427L1475 422L1480 417L1485 411L1490 406L1495 401L1500 397L1506 392L1511 387L1516 381L1521 375L1526 368L1530 362L1535 355L1538 348L1541 340L1544 332L1546 324Z" fill="#416bfe"/>
<path d="M1541 316L1540 308L1539 300L1538 293L1536 285L1535 277L1531 270L1528 263L1525 256L1522 249L1518 242L1513 235L1509 229L1504 223L1499 217L1494 211L1490 204L1486 197L1482 189L1477 181L1472 173L1466 165L1460 157L1454 148L1447 139L1439 130L1430 123L1421 116L1411 113L1400 112L1389 112L1379 112L1368 113L1357 114L1347 116L1336 119L1326 122L1316 125L1306 129L1297 134L1287 139L1278 145L1269 151L1261 157L1253 164L1245 172L1238 179L1231 187L1224 196L1218 205L1212 214L1207 223L1203 233L1199 243L1195 253L1192 263L1190 274L1188 284L1186 295L1185 305L1185 316L1185 327L1186 337L1188 348L1190 358L1192 369L1195 379L1202 388L1216 393L1225 400L1233 406L1242 412L1250 417L1258 422L1266 427L1273 432L1280 437L1288 441L1295 445L1303 449L1310 453L1318 456L1326 458L1334 460L1342 462L1350 463L1358 464L1366 464L1374 464L1382 464L1389 464L1397 462L1404 460L1412 458L1419 456L1426 453L1433 449L1439 445L1445 441L1451 437L1457 433L1462 428L1467 423L1472 418L1476 413L1481 408L1486 403L1491 398L1496 393L1501 389L1507 384L1511 378L1516 372L1520 366L1525 360L1529 354L1532 346L1535 339L1537 332L1540 324Z" fill="#3875fe"/>
<path d="M1534 316L1533 308L1532 301L1531 294L1530 286L1528 279L1525 272L1522 265L1518 259L1515 252L1511 246L1507 240L1502 234L1497 228L1493 223L1488 217L1484 211L1480 204L1476 197L1471 190L1466 183L1460 176L1455 169L1449 162L1442 154L1435 146L1427 140L1418 134L1409 127L1400 120L1389 114L1379 112L1368 113L1357 114L1347 116L1336 119L1326 122L1316 125L1306 129L1297 134L1287 139L1278 145L1269 151L1261 157L1253 164L1245 172L1238 179L1231 187L1224 196L1218 205L1212 214L1207 223L1203 233L1199 243L1195 253L1192 263L1190 274L1188 284L1186 295L1185 305L1185 316L1185 327L1186 337L1188 348L1190 358L1192 369L1195 379L1206 386L1220 391L1228 398L1236 404L1245 410L1253 415L1261 420L1269 424L1276 429L1283 434L1291 438L1298 442L1305 446L1312 449L1320 452L1328 453L1336 455L1344 457L1351 459L1359 459L1367 459L1374 459L1382 459L1389 459L1397 457L1404 455L1411 453L1418 451L1425 448L1431 444L1437 440L1443 437L1449 433L1455 429L1459 424L1464 419L1469 414L1473 409L1478 404L1482 400L1487 395L1492 390L1497 386L1502 381L1507 376L1511 370L1515 364L1519 358L1524 352L1526 345L1529 338L1531 331L1533 324Z" fill="#307ffb"/>
<path d="M1524 316L1524 309L1523 302L1522 295L1520 288L1519 281L1516 275L1513 268L1510 262L1507 256L1504 250L1500 244L1496 239L1491 233L1487 228L1483 222L1479 216L1475 210L1471 204L1466 198L1461 192L1455 186L1450 180L1444 173L1438 166L1431 160L1424 154L1416 148L1408 143L1399 136L1389 130L1379 127L1369 124L1358 120L1347 116L1336 119L1326 122L1316 125L1306 129L1297 134L1287 139L1278 145L1269 151L1261 157L1253 164L1245 172L1238 179L1231 187L1224 196L1218 205L1212 214L1207 223L1203 233L1199 243L1195 253L1192 263L1190 274L1188 284L1186 295L1185 305L1185 316L1185 327L1186 337L1188 348L1190 358L1192 369L1197 379L1211 384L1223 390L1231 397L1239 403L1248 408L1257 412L1265 417L1273 421L1280 426L1287 430L1294 434L1301 438L1308 441L1315 445L1323 447L1330 449L1338 451L1345 452L1352 454L1360 454L1367 454L1375 454L1382 454L1389 454L1396 452L1403 450L1410 448L1417 446L1424 444L1430 441L1436 437L1442 433L1447 430L1453 426L1458 421L1462 417L1467 412L1471 407L1476 403L1480 398L1485 393L1489 388L1493 384L1498 379L1502 373L1505 368L1509 362L1513 356L1516 350L1518 343L1520 337L1522 330L1524 323Z" fill="#2d87f6"/>
<path d="M1514 316L1514 309L1513 303L1512 297L1511 290L1510 284L1507 278L1505 272L1502 266L1500 260L1497 254L1493 249L1489 243L1485 238L1482 233L1478 228L1474 222L1470 216L1466 211L1461 205L1457 200L1452 194L1446 188L1441 182L1435 175L1429 169L1422 164L1414 158L1406 153L1398 147L1389 141L1380 138L1370 135L1360 132L1349 129L1338 126L1328 127L1317 128L1306 129L1297 134L1287 139L1278 145L1269 151L1261 157L1253 164L1245 172L1238 179L1231 187L1224 196L1218 205L1212 214L1207 223L1203 233L1199 243L1195 253L1192 263L1190 274L1188 284L1186 295L1185 305L1185 316L1185 327L1186 337L1188 348L1190 358L1192 369L1204 376L1216 383L1226 389L1234 395L1242 401L1251 406L1260 410L1269 414L1276 418L1283 422L1290 426L1297 430L1304 434L1311 437L1317 441L1325 443L1332 444L1339 446L1347 447L1354 449L1361 449L1368 449L1375 449L1382 449L1389 449L1396 447L1403 446L1410 444L1416 442L1423 440L1429 437L1434 433L1440 430L1446 427L1451 424L1456 419L1461 414L1465 410L1470 405L1474 401L1478 396L1482 391L1486 386L1490 381L1494 377L1497 371L1500 365L1503 360L1506 354L1509 348L1510 342L1511 335L1513 329L1514 323Z" fill="#2c90f0"/>
<path d="M1508 316L1508 310L1507 304L1506 297L1506 291L1505 285L1503 279L1500 273L1498 267L1496 262L1494 256L1490 251L1486 246L1483 240L1479 235L1475 230L1472 225L1468 219L1464 213L1459 208L1455 203L1450 197L1445 191L1439 185L1434 179L1428 173L1421 168L1414 163L1406 157L1398 151L1389 146L1380 143L1371 141L1361 139L1351 136L1341 134L1331 136L1321 139L1311 141L1301 143L1291 146L1282 151L1273 156L1264 161L1255 167L1246 173L1238 180L1231 187L1224 196L1218 205L1212 214L1207 223L1203 233L1199 243L1195 253L1192 263L1190 274L1188 284L1186 295L1185 305L1185 316L1185 327L1186 337L1188 348L1190 358L1199 367L1211 374L1221 381L1230 387L1237 394L1246 399L1255 404L1263 407L1272 411L1280 414L1287 419L1293 423L1300 426L1307 430L1313 433L1320 437L1327 439L1334 440L1341 442L1348 443L1355 445L1362 445L1369 445L1376 445L1383 445L1389 445L1396 444L1403 442L1409 440L1415 439L1422 437L1428 434L1433 431L1439 427L1444 424L1450 421L1455 417L1459 412L1464 408L1468 404L1473 399L1476 394L1480 390L1484 385L1487 380L1491 375L1494 369L1496 364L1499 358L1501 352L1504 347L1505 341L1506 334L1507 328L1508 322Z" fill="#2798ea"/>
<path d="M1503 316L1503 310L1502 304L1502 298L1501 292L1501 286L1499 281L1497 275L1495 269L1493 263L1490 258L1487 253L1483 248L1480 242L1477 237L1473 232L1469 227L1466 222L1462 216L1458 211L1453 206L1448 200L1443 195L1438 189L1433 183L1427 177L1420 172L1413 167L1406 161L1398 156L1389 150L1381 148L1371 146L1362 144L1352 142L1342 141L1333 143L1324 146L1315 148L1305 151L1296 154L1288 159L1279 164L1271 170L1262 175L1254 181L1246 187L1239 194L1231 201L1223 208L1216 216L1209 224L1203 233L1199 243L1195 253L1192 263L1190 274L1188 284L1186 295L1185 305L1185 316L1185 327L1186 337L1190 348L1199 356L1209 364L1217 372L1226 379L1233 386L1240 392L1249 397L1257 402L1266 405L1275 409L1283 412L1290 416L1296 420L1302 423L1309 427L1315 430L1322 433L1329 435L1336 437L1342 438L1349 440L1356 441L1363 442L1369 442L1376 442L1383 442L1389 442L1396 440L1402 438L1408 437L1415 435L1421 433L1426 430L1432 427L1437 424L1443 421L1448 418L1453 413L1457 409L1461 405L1466 401L1470 397L1473 392L1477 387L1480 382L1484 377L1487 373L1490 367L1492 362L1495 356L1497 351L1499 345L1500 340L1501 334L1502 328L1503 322Z" fill="#249fe5"/>
<path d="M1499 316L1499 310L1498 305L1498 299L1498 293L1497 287L1495 282L1493 276L1491 271L1489 265L1487 259L1484 255L1481 250L1477 245L1474 240L1471 235L1467 230L1463 225L1460 219L1455 214L1451 209L1446 204L1441 199L1436 194L1431 188L1425 182L1419 178L1412 173L1405 168L1397 162L1389 157L1381 155L1372 153L1363 151L1354 149L1344 147L1335 149L1326 151L1317 154L1308 156L1299 159L1290 164L1282 169L1274 174L1266 179L1258 184L1250 191L1244 198L1237 205L1230 213L1224 221L1218 229L1213 237L1208 246L1203 255L1199 265L1195 275L1192 285L1189 295L1187 305L1187 316L1192 326L1198 336L1205 345L1212 354L1220 361L1227 369L1233 376L1239 383L1246 389L1254 394L1262 399L1271 402L1279 406L1286 409L1292 413L1299 417L1305 420L1311 423L1318 427L1324 430L1330 432L1337 433L1344 434L1350 436L1357 437L1363 438L1370 437L1377 437L1383 437L1389 437L1396 436L1402 434L1408 433L1414 431L1420 429L1425 426L1430 423L1436 420L1441 417L1446 414L1450 410L1455 406L1459 402L1463 398L1467 394L1471 389L1474 385L1477 380L1481 375L1484 371L1487 366L1489 360L1491 355L1493 350L1495 344L1496 339L1497 333L1498 327L1499 322Z" fill="#1ea7e1"/>
<path d="M1497 316L1497 310L1496 305L1496 299L1495 293L1495 288L1493 282L1491 277L1489 272L1487 266L1485 261L1482 256L1479 251L1475 246L1472 241L1469 237L1465 232L1462 227L1458 222L1453 217L1449 213L1444 208L1440 203L1435 198L1429 193L1424 187L1418 183L1411 179L1404 174L1397 169L1389 164L1381 162L1373 161L1364 159L1356 157L1346 156L1338 159L1330 161L1321 163L1313 166L1304 169L1297 174L1289 178L1282 183L1274 188L1267 194L1260 200L1254 206L1247 213L1241 220L1236 227L1230 235L1225 243L1220 251L1216 260L1212 268L1209 278L1206 287L1203 296L1201 306L1201 316L1205 326L1211 335L1217 343L1223 351L1229 359L1235 366L1240 373L1246 380L1252 386L1259 391L1266 396L1274 400L1281 404L1288 407L1294 411L1300 415L1306 418L1313 421L1319 424L1325 427L1332 429L1338 430L1345 431L1351 433L1358 434L1364 434L1371 434L1377 433L1383 433L1389 433L1395 432L1401 430L1407 429L1413 427L1419 426L1424 423L1429 420L1434 417L1439 414L1445 412L1449 408L1453 404L1457 400L1461 396L1465 392L1469 388L1472 383L1475 379L1479 374L1482 370L1484 364L1487 359L1489 354L1491 349L1493 344L1494 338L1495 333L1496 327L1497 322Z" fill="#18addb"/>
<path d="M1495 316L1494 310L1494 305L1493 299L1493 294L1492 288L1491 283L1489 278L1487 273L1485 267L1483 262L1480 257L1477 253L1473 248L1470 243L1467 238L1463 234L1460 229L1456 224L1452 220L1447 215L1443 211L1438 206L1433 202L1428 197L1423 192L1417 188L1410 183L1404 179L1397 174L1389 170L1382 168L1374 167L1365 166L1357 164L1348 163L1340 166L1333 168L1325 171L1317 173L1309 176L1302 181L1295 186L1288 190L1280 195L1274 200L1267 206L1261 212L1255 218L1249 225L1243 232L1238 239L1233 246L1228 254L1224 262L1220 271L1217 279L1214 288L1211 297L1209 307L1209 316L1213 325L1218 334L1224 342L1230 350L1236 357L1241 364L1247 371L1252 377L1257 383L1264 388L1271 393L1278 397L1285 401L1291 405L1297 409L1303 412L1309 416L1315 419L1321 421L1327 424L1333 426L1340 427L1346 429L1352 430L1359 431L1365 431L1371 431L1377 430L1383 430L1389 430L1395 429L1401 428L1407 426L1412 425L1418 423L1423 420L1428 418L1433 415L1438 412L1443 409L1447 406L1452 402L1456 398L1460 394L1464 390L1467 386L1470 382L1474 377L1477 373L1480 368L1482 363L1485 358L1487 353L1489 348L1491 343L1492 338L1493 332L1494 327L1495 322Z" fill="#0cb3d3"/>
<path d="M1492 316L1492 311L1492 305L1491 300L1491 294L1490 289L1488 284L1486 279L1485 274L1483 268L1481 263L1478 259L1475 254L1471 249L1468 245L1465 240L1462 236L1458 231L1454 227L1450 222L1446 218L1441 214L1437 210L1432 205L1427 201L1421 196L1416 192L1410 188L1403 184L1396 180L1389 176L1382 174L1374 173L1367 172L1358 171L1350 170L1343 173L1335 175L1328 178L1320 181L1313 184L1306 188L1300 193L1293 197L1287 202L1280 207L1274 212L1268 218L1263 224L1257 230L1252 237L1247 243L1242 250L1237 258L1233 265L1229 273L1226 281L1223 290L1220 298L1219 307L1219 316L1223 325L1227 333L1233 341L1238 348L1244 355L1249 362L1254 368L1258 374L1264 380L1270 385L1276 390L1282 394L1288 398L1294 402L1299 406L1305 410L1311 413L1317 416L1323 418L1329 421L1335 423L1341 424L1347 426L1353 427L1359 428L1365 428L1372 428L1378 428L1383 428L1389 428L1395 426L1401 425L1406 424L1412 422L1417 421L1422 418L1427 415L1432 413L1437 410L1442 407L1446 404L1450 400L1454 396L1458 392L1462 389L1465 384L1468 380L1472 376L1475 372L1478 367L1480 362L1482 357L1485 353L1487 348L1489 343L1490 337L1491 332L1492 327L1492 321Z" fill="#01b8c9"/>
<path d="M1490 316L1490 311L1489 305L1489 300L1488 295L1488 290L1486 285L1484 280L1482 275L1481 269L1479 264L1476 260L1473 255L1470 251L1466 247L1463 242L1460 238L1456 233L1452 229L1448 225L1444 221L1440 217L1435 213L1430 209L1426 205L1420 200L1415 197L1409 193L1403 189L1396 185L1389 181L1382 180L1375 179L1368 179L1360 178L1352 177L1345 180L1338 183L1331 185L1324 188L1317 191L1311 196L1305 200L1299 205L1293 209L1287 214L1281 219L1276 224L1270 230L1265 235L1260 241L1255 248L1250 254L1246 261L1242 268L1239 276L1235 283L1233 291L1230 299L1228 308L1228 316L1232 324L1236 332L1241 339L1246 346L1252 353L1256 359L1261 365L1265 371L1270 377L1275 382L1281 386L1287 391L1292 395L1297 399L1302 403L1308 407L1313 410L1319 413L1325 416L1330 418L1336 420L1342 421L1348 423L1354 424L1360 425L1366 425L1372 425L1378 425L1384 425L1389 425L1395 424L1400 422L1406 421L1411 420L1417 418L1422 415L1427 413L1431 410L1436 408L1441 405L1445 401L1449 398L1453 394L1456 391L1460 387L1463 383L1467 379L1470 374L1473 370L1476 366L1478 361L1480 357L1482 352L1485 347L1486 342L1487 337L1488 332L1489 327L1490 321Z" fill="#08bcbe"/>
<path d="M1488 316L1487 311L1487 306L1487 301L1486 295L1485 290L1484 285L1482 280L1480 276L1478 271L1476 266L1473 261L1471 257L1468 253L1465 248L1461 244L1458 240L1454 236L1451 231L1447 228L1442 224L1438 220L1434 217L1429 213L1424 209L1419 204L1414 201L1408 198L1402 194L1396 191L1389 187L1382 186L1376 186L1369 185L1361 184L1354 184L1347 187L1341 190L1334 193L1328 195L1322 199L1316 203L1310 207L1305 212L1299 216L1294 221L1288 225L1283 230L1278 235L1274 241L1269 247L1265 252L1261 259L1257 265L1253 272L1250 279L1247 286L1245 293L1243 301L1241 308L1241 316L1244 324L1248 331L1252 338L1256 344L1260 351L1264 357L1268 362L1272 368L1276 374L1281 378L1286 383L1291 388L1296 392L1300 396L1305 400L1310 404L1316 407L1321 410L1327 413L1332 415L1338 417L1344 418L1350 420L1355 421L1361 422L1367 422L1372 422L1378 422L1384 422L1389 422L1395 421L1400 420L1406 418L1411 417L1416 416L1421 413L1426 411L1430 408L1435 406L1440 403L1443 399L1447 396L1451 392L1455 389L1459 385L1462 381L1465 377L1468 373L1471 369L1474 365L1476 360L1478 356L1480 351L1482 346L1484 341L1485 336L1486 331L1487 326L1488 321Z" fill="#1cc0b4"/>
<path d="M1485 316L1485 311L1485 306L1484 301L1484 296L1483 291L1481 286L1480 281L1478 277L1476 272L1474 267L1471 263L1468 258L1466 254L1463 250L1460 246L1456 242L1453 238L1449 234L1445 230L1441 227L1437 223L1432 220L1428 216L1423 212L1418 208L1413 205L1407 202L1402 199L1396 196L1389 192L1383 191L1376 191L1369 190L1362 190L1356 190L1349 193L1343 195L1337 198L1330 200L1324 204L1319 208L1314 212L1308 216L1303 220L1298 225L1293 229L1288 234L1284 239L1280 245L1276 250L1272 256L1269 262L1266 269L1263 275L1261 281L1258 288L1257 295L1255 302L1254 309L1254 316L1256 323L1259 330L1262 336L1265 342L1268 349L1270 355L1273 361L1276 366L1280 372L1285 376L1290 381L1294 385L1299 389L1303 393L1308 398L1313 401L1318 404L1323 407L1329 409L1334 412L1340 414L1345 415L1351 416L1356 417L1362 419L1367 419L1373 419L1378 419L1384 419L1389 419L1395 418L1400 417L1405 415L1410 414L1415 413L1420 410L1425 408L1429 405L1434 403L1438 401L1442 397L1446 394L1449 390L1453 387L1457 383L1460 379L1463 376L1466 372L1469 368L1472 364L1474 359L1476 355L1478 350L1480 345L1482 341L1483 336L1484 331L1484 326L1485 321Z" fill="#2bc3a8"/>
<path d="M1483 316L1482 311L1482 306L1482 301L1481 296L1480 292L1479 287L1477 282L1476 278L1474 273L1472 268L1469 264L1466 260L1464 256L1461 252L1458 248L1454 244L1451 240L1447 236L1443 233L1439 230L1435 226L1431 223L1426 219L1422 216L1417 212L1412 210L1407 207L1401 204L1395 201L1389 197L1383 197L1377 196L1370 196L1364 195L1357 195L1351 198L1345 200L1339 203L1333 205L1327 208L1322 212L1317 216L1312 220L1307 224L1302 228L1297 233L1293 238L1289 243L1285 248L1281 253L1277 259L1274 265L1271 271L1269 277L1267 283L1265 289L1263 296L1261 303L1261 309L1261 316L1263 323L1265 329L1267 335L1270 341L1273 347L1275 353L1278 359L1281 364L1284 369L1289 374L1293 378L1298 383L1302 387L1306 391L1311 395L1316 398L1321 401L1326 403L1331 406L1336 409L1341 410L1347 412L1352 413L1357 414L1363 415L1368 416L1374 416L1379 416L1384 416L1389 416L1394 415L1400 413L1405 412L1410 411L1414 410L1419 407L1424 405L1428 403L1432 401L1437 398L1441 395L1444 392L1448 388L1451 385L1455 382L1458 378L1461 374L1464 370L1467 366L1470 362L1472 358L1474 354L1476 349L1478 345L1479 340L1480 335L1481 331L1482 326L1483 321Z" fill="#34c79c"/>
<path d="M1480 316L1480 311L1480 307L1479 302L1479 297L1478 292L1477 288L1475 283L1473 279L1472 274L1470 270L1467 265L1464 261L1462 257L1459 253L1456 249L1453 246L1449 242L1446 239L1442 235L1438 232L1434 229L1429 226L1425 223L1421 220L1416 216L1411 214L1406 211L1401 208L1395 205L1389 203L1383 202L1377 201L1371 201L1365 201L1358 201L1353 203L1347 206L1341 208L1336 210L1330 213L1325 217L1320 221L1315 225L1310 228L1306 232L1301 237L1297 241L1293 246L1289 251L1286 256L1283 262L1280 267L1277 273L1275 279L1273 285L1271 291L1269 297L1268 303L1267 310L1267 316L1269 322L1271 328L1273 334L1275 340L1278 346L1280 352L1282 357L1285 363L1288 367L1293 372L1297 376L1301 380L1305 384L1309 388L1313 392L1318 395L1323 398L1328 400L1333 403L1338 405L1343 407L1348 408L1353 410L1358 411L1364 412L1369 412L1374 412L1379 412L1384 412L1389 412L1394 411L1399 410L1404 409L1409 408L1414 407L1418 405L1423 403L1427 400L1431 398L1435 396L1439 393L1443 389L1446 386L1450 383L1453 380L1456 376L1459 372L1462 369L1464 365L1467 361L1469 357L1471 353L1473 348L1475 344L1477 339L1478 335L1479 330L1479 325L1480 321Z" fill="#3fca8e"/>
<path d="M1478 316L1478 311L1477 307L1477 302L1476 297L1476 293L1474 288L1473 284L1471 280L1469 275L1468 271L1465 267L1462 263L1460 259L1457 255L1454 251L1451 248L1447 244L1444 241L1440 238L1436 235L1432 232L1428 229L1424 226L1419 223L1415 220L1410 218L1405 216L1400 213L1395 210L1389 208L1384 207L1378 207L1372 206L1366 206L1360 206L1354 209L1349 211L1343 213L1338 215L1333 218L1328 222L1323 225L1319 229L1314 233L1310 236L1305 240L1302 245L1298 250L1294 254L1291 259L1288 264L1285 270L1283 275L1280 281L1279 286L1277 292L1276 298L1274 304L1274 310L1274 316L1275 322L1277 328L1279 334L1281 339L1283 345L1285 350L1287 355L1289 361L1292 365L1296 370L1300 374L1305 378L1309 381L1313 385L1316 389L1321 392L1326 395L1330 397L1335 400L1340 402L1345 404L1350 405L1355 406L1360 408L1364 409L1370 409L1375 409L1380 409L1384 409L1389 409L1394 408L1399 407L1404 406L1408 405L1413 404L1417 402L1421 400L1426 398L1430 396L1434 393L1438 390L1441 387L1445 384L1448 381L1451 378L1454 374L1457 371L1460 367L1462 363L1465 360L1467 356L1469 352L1471 347L1473 343L1474 339L1475 334L1476 330L1477 325L1478 321Z" fill="#52cc7e"/>
<path d="M1475 316L1475 312L1475 307L1474 303L1474 298L1473 294L1472 289L1470 285L1469 281L1467 276L1465 272L1463 268L1460 264L1458 261L1455 257L1452 253L1449 250L1446 246L1442 243L1438 240L1434 238L1431 235L1427 232L1422 230L1418 227L1414 224L1409 222L1405 220L1400 218L1395 215L1389 213L1384 212L1378 212L1373 212L1367 212L1361 212L1356 214L1351 216L1346 218L1341 220L1336 223L1331 227L1327 230L1322 233L1318 237L1314 240L1310 244L1306 249L1302 253L1299 257L1296 262L1293 267L1291 272L1288 277L1286 283L1285 288L1283 293L1282 299L1281 305L1280 310L1280 316L1281 322L1283 327L1284 333L1286 338L1288 343L1289 348L1291 354L1293 359L1296 363L1300 367L1304 371L1308 375L1312 379L1316 382L1319 386L1324 389L1328 392L1333 394L1337 397L1341 399L1346 400L1351 402L1356 403L1361 404L1365 405L1370 406L1375 406L1380 406L1385 406L1389 406L1394 405L1399 404L1403 403L1408 402L1412 401L1416 399L1420 397L1425 395L1429 393L1433 391L1436 388L1439 385L1443 382L1446 379L1449 376L1452 373L1455 369L1458 366L1460 362L1463 358L1465 355L1467 350L1469 346L1470 342L1472 338L1473 334L1474 329L1475 325L1475 321Z" fill="#66cd6d"/>
<path d="M1473 316L1473 312L1473 307L1472 303L1472 298L1471 294L1470 290L1468 286L1467 282L1465 277L1463 273L1461 269L1458 266L1456 262L1453 258L1451 255L1447 251L1444 248L1441 245L1437 242L1433 240L1429 237L1426 235L1422 232L1417 229L1413 227L1409 225L1404 223L1399 220L1394 218L1389 216L1384 215L1379 215L1373 215L1368 214L1362 215L1357 217L1352 219L1347 221L1342 223L1337 225L1333 229L1328 232L1324 235L1320 239L1315 242L1312 246L1308 250L1305 254L1301 259L1298 264L1296 268L1293 273L1291 278L1289 283L1287 289L1286 294L1285 299L1283 305L1283 310L1283 316L1284 322L1285 327L1287 332L1288 337L1290 343L1292 348L1294 353L1296 358L1299 362L1302 366L1306 370L1310 374L1314 377L1318 381L1321 384L1325 387L1330 389L1334 392L1338 394L1343 397L1347 398L1352 399L1357 401L1361 402L1366 403L1371 403L1375 403L1380 403L1385 404L1389 404L1394 403L1398 402L1403 401L1407 400L1411 399L1416 397L1420 395L1424 393L1428 391L1431 389L1435 386L1438 383L1441 380L1445 378L1448 375L1451 371L1453 368L1456 364L1458 361L1461 357L1463 354L1465 350L1467 346L1468 342L1470 338L1471 333L1472 329L1472 325L1473 320Z" fill="#7dcc5c"/>
<path d="M1471 316L1471 312L1470 307L1470 303L1470 299L1469 295L1467 291L1466 287L1465 282L1463 278L1461 274L1459 271L1457 267L1454 264L1451 260L1449 256L1446 253L1443 250L1439 247L1436 244L1432 242L1428 239L1425 237L1421 234L1417 232L1413 229L1408 227L1404 225L1399 223L1394 221L1389 219L1384 218L1379 218L1374 217L1368 217L1363 217L1358 219L1353 221L1348 223L1343 225L1338 228L1334 231L1330 234L1326 237L1321 241L1317 244L1313 248L1310 252L1307 256L1304 260L1301 265L1298 269L1295 274L1293 279L1291 284L1290 289L1288 295L1287 300L1286 305L1285 311L1286 316L1287 321L1288 327L1289 332L1291 337L1293 342L1294 347L1296 352L1298 357L1301 361L1305 365L1308 368L1312 372L1316 375L1320 379L1323 382L1327 385L1332 387L1336 390L1340 392L1344 394L1349 396L1353 397L1358 398L1362 399L1367 400L1371 401L1376 401L1380 401L1385 401L1389 401L1394 400L1398 400L1402 399L1407 398L1411 397L1415 395L1419 393L1423 391L1427 389L1430 387L1434 384L1437 382L1440 379L1443 376L1446 373L1449 370L1452 366L1454 363L1457 360L1459 356L1461 353L1463 349L1465 345L1466 341L1468 337L1469 333L1469 329L1470 325L1471 320Z" fill="#94ca4a"/>
<path d="M1469 316L1468 312L1468 308L1468 304L1467 299L1467 295L1465 291L1464 287L1463 283L1461 279L1459 276L1457 272L1455 269L1452 265L1450 262L1447 258L1444 255L1441 252L1438 249L1435 246L1431 244L1427 241L1424 239L1420 236L1416 234L1412 231L1408 229L1403 228L1399 226L1394 223L1389 221L1384 221L1379 221L1374 220L1369 220L1364 220L1359 222L1354 224L1349 226L1344 228L1340 230L1336 233L1331 236L1327 239L1323 242L1319 246L1315 249L1312 253L1309 258L1306 262L1303 266L1300 271L1298 275L1296 280L1294 285L1292 290L1291 295L1290 300L1288 305L1288 311L1288 316L1289 321L1290 326L1292 331L1293 336L1295 341L1297 346L1298 351L1300 356L1303 360L1307 364L1311 367L1314 370L1318 374L1322 377L1325 380L1329 383L1333 385L1337 388L1341 390L1345 392L1350 394L1354 395L1359 396L1363 397L1367 398L1372 398L1376 399L1381 399L1385 399L1389 399L1394 398L1398 397L1402 396L1406 395L1410 394L1414 393L1418 391L1422 389L1426 387L1429 385L1432 382L1436 380L1439 377L1442 374L1445 371L1447 368L1450 365L1452 362L1455 359L1457 355L1459 352L1461 348L1463 344L1464 340L1466 336L1467 332L1467 328L1468 324L1469 320Z" fill="#aac73a"/>
<path d="M1466 316L1466 312L1466 308L1466 304L1465 300L1464 296L1463 292L1462 288L1460 284L1459 280L1457 277L1455 273L1453 270L1450 267L1448 263L1445 260L1443 257L1440 254L1437 251L1433 248L1430 246L1426 243L1423 241L1419 239L1415 236L1411 234L1407 232L1403 230L1399 228L1394 226L1389 224L1384 224L1380 223L1375 223L1370 223L1364 223L1360 225L1355 227L1350 228L1346 230L1341 233L1337 235L1333 238L1329 241L1325 244L1321 248L1317 251L1314 255L1311 259L1308 263L1305 267L1303 272L1300 276L1298 281L1296 286L1295 291L1293 296L1292 301L1291 306L1291 311L1291 316L1292 321L1293 326L1294 331L1296 336L1298 341L1299 345L1301 350L1303 355L1306 359L1309 362L1313 366L1317 369L1320 372L1324 375L1327 378L1331 381L1335 383L1339 385L1343 388L1347 390L1351 391L1355 392L1360 394L1364 395L1368 396L1372 396L1377 396L1381 396L1385 396L1389 396L1393 396L1398 395L1402 394L1406 393L1410 392L1413 390L1417 389L1421 387L1424 385L1428 383L1431 381L1434 378L1437 375L1440 373L1443 370L1446 367L1448 364L1451 361L1453 357L1455 354L1457 351L1459 347L1461 343L1462 340L1464 336L1464 332L1465 328L1466 324L1466 320Z" fill="#bfc32e"/>
<path d="M1464 316L1464 312L1464 308L1463 304L1463 300L1462 296L1461 293L1460 289L1458 285L1457 282L1455 278L1453 275L1451 271L1449 268L1446 265L1444 262L1441 259L1438 256L1435 253L1432 250L1429 248L1425 246L1422 243L1418 241L1414 238L1411 236L1407 234L1403 233L1398 231L1394 229L1389 227L1385 227L1380 226L1375 226L1370 226L1365 226L1361 228L1356 229L1351 231L1347 233L1342 235L1338 238L1334 241L1330 243L1327 246L1323 250L1319 253L1316 257L1313 261L1310 265L1307 269L1305 273L1303 277L1301 282L1299 287L1297 291L1296 296L1295 301L1294 306L1293 311L1293 316L1294 321L1296 326L1297 331L1298 335L1300 340L1302 345L1303 349L1305 353L1308 357L1311 361L1315 364L1319 367L1322 370L1326 373L1329 376L1333 379L1337 381L1340 383L1344 385L1348 387L1352 389L1356 390L1360 391L1365 392L1369 393L1373 394L1377 394L1381 394L1385 394L1389 394L1393 393L1397 393L1401 392L1405 391L1409 390L1413 388L1416 387L1420 385L1423 383L1427 381L1430 379L1433 376L1436 374L1439 371L1442 368L1444 365L1447 362L1449 359L1451 356L1453 353L1455 350L1457 346L1458 343L1460 339L1461 335L1462 332L1463 328L1464 324L1464 320Z" fill="#d2bf27"/>
<path d="M1462 316L1461 312L1461 308L1461 305L1460 301L1460 297L1458 294L1457 290L1456 286L1455 283L1453 279L1451 276L1449 273L1447 270L1444 267L1442 263L1439 261L1436 258L1434 255L1430 253L1427 250L1424 248L1421 246L1417 243L1414 241L1410 239L1406 237L1402 235L1398 234L1394 232L1389 230L1385 230L1380 229L1376 229L1371 229L1366 229L1362 231L1357 232L1353 234L1348 236L1344 238L1340 240L1336 243L1332 246L1329 249L1325 252L1322 255L1318 259L1315 262L1313 266L1310 270L1308 274L1306 279L1304 283L1302 288L1300 292L1299 297L1298 302L1297 306L1297 311L1297 316L1298 321L1299 326L1300 330L1301 335L1303 339L1304 344L1306 348L1308 352L1311 356L1314 359L1318 363L1321 365L1325 368L1328 371L1331 374L1335 376L1339 379L1342 381L1346 383L1350 385L1354 386L1358 387L1362 388L1365 389L1369 390L1373 391L1377 391L1381 391L1385 391L1389 391L1393 390L1397 390L1401 389L1405 388L1408 387L1412 386L1415 384L1419 382L1422 381L1425 379L1428 376L1431 374L1434 371L1437 369L1440 366L1442 364L1444 361L1447 358L1449 355L1451 352L1453 348L1454 345L1456 342L1457 338L1459 335L1460 331L1460 327L1461 324L1461 320Z" fill="#e2bc2b"/>
<path d="M1459 316L1459 312L1458 309L1458 305L1458 301L1457 298L1456 294L1455 291L1453 287L1452 284L1451 281L1449 277L1447 274L1444 271L1442 268L1440 265L1437 263L1435 260L1432 257L1429 255L1426 253L1423 250L1419 248L1416 246L1413 244L1409 242L1405 240L1402 238L1398 237L1394 235L1389 234L1385 233L1381 233L1376 233L1372 232L1367 232L1363 234L1358 235L1354 237L1350 238L1346 240L1342 243L1338 245L1334 248L1331 251L1327 254L1324 257L1321 261L1318 264L1315 268L1313 272L1311 276L1308 280L1307 284L1305 289L1304 293L1302 298L1301 302L1300 307L1300 311L1300 316L1301 321L1302 325L1303 330L1305 334L1306 338L1307 343L1309 347L1311 351L1313 355L1317 358L1320 361L1324 364L1327 366L1331 369L1334 372L1337 374L1341 376L1344 378L1348 380L1351 382L1355 383L1359 384L1363 386L1366 386L1370 387L1374 388L1378 388L1382 388L1386 388L1389 388L1393 387L1397 387L1400 386L1404 385L1408 384L1411 383L1414 381L1418 380L1421 378L1424 376L1427 374L1430 372L1432 369L1435 367L1438 364L1440 362L1442 359L1445 356L1447 353L1449 350L1450 347L1452 344L1453 341L1455 337L1456 334L1457 330L1458 327L1458 323L1459 320Z" fill="#f1ba37"/>
<path d="M1456 316L1456 313L1456 309L1455 306L1455 302L1454 299L1453 295L1452 292L1451 289L1450 285L1448 282L1446 279L1444 276L1442 273L1440 270L1438 267L1435 265L1433 262L1430 260L1427 257L1425 255L1421 253L1418 251L1415 249L1412 246L1408 244L1405 243L1401 241L1397 240L1393 238L1389 237L1385 236L1381 236L1377 236L1372 236L1368 236L1364 237L1359 238L1355 240L1351 241L1347 243L1343 245L1340 248L1336 250L1333 253L1329 256L1326 259L1323 262L1320 266L1318 270L1316 273L1313 277L1311 281L1310 285L1308 290L1307 294L1306 298L1305 303L1304 307L1303 312L1304 316L1304 320L1305 325L1306 329L1308 333L1309 338L1310 342L1312 346L1313 350L1316 353L1319 356L1323 359L1326 362L1330 364L1333 367L1336 369L1339 372L1343 374L1346 376L1349 378L1353 379L1356 381L1360 382L1364 383L1367 384L1371 384L1375 385L1378 385L1382 385L1386 385L1389 385L1393 385L1396 384L1400 383L1403 382L1407 382L1410 380L1413 379L1417 377L1420 376L1423 374L1425 372L1428 369L1431 367L1433 365L1436 362L1438 360L1440 357L1442 355L1444 352L1446 349L1448 346L1450 343L1451 340L1452 336L1453 333L1454 330L1455 326L1455 323L1456 319Z" fill="#fcbd3d"/>
<path d="M1453 316L1453 313L1453 309L1453 306L1452 303L1452 299L1451 296L1450 293L1449 290L1447 286L1446 283L1444 280L1442 278L1440 275L1438 272L1436 269L1434 267L1431 264L1429 262L1426 260L1423 257L1420 255L1417 253L1414 251L1411 249L1408 247L1404 246L1401 244L1397 243L1393 241L1389 240L1385 240L1381 239L1377 239L1373 239L1369 239L1365 240L1361 241L1357 243L1353 244L1349 246L1345 248L1342 250L1338 253L1335 255L1331 258L1329 261L1326 265L1324 269L1322 273L1321 276L1319 280L1318 284L1318 288L1317 293L1317 297L1316 301L1316 304L1316 308L1317 312L1317 316L1317 320L1316 324L1316 328L1316 332L1315 336L1315 340L1316 344L1316 348L1319 352L1322 355L1325 358L1329 360L1332 362L1335 365L1338 367L1341 369L1345 371L1348 373L1351 375L1354 377L1358 378L1361 379L1365 380L1368 381L1372 381L1375 382L1379 382L1382 382L1386 382L1389 382L1393 382L1396 381L1399 380L1403 380L1406 379L1409 377L1412 376L1415 375L1418 373L1421 371L1424 369L1427 367L1429 365L1431 363L1434 361L1436 358L1438 356L1440 353L1442 350L1444 348L1446 345L1447 342L1448 339L1450 336L1451 332L1452 329L1452 326L1453 323L1453 319Z" fill="#fec537"/>
<path d="M1446 316L1445 313L1445 310L1444 307L1443 305L1442 302L1440 299L1439 297L1437 295L1435 292L1434 290L1432 288L1430 287L1428 285L1426 283L1424 281L1422 280L1420 278L1418 276L1416 275L1414 274L1412 272L1409 271L1407 270L1404 269L1402 269L1399 268L1397 268L1394 267L1392 267L1389 267L1387 267L1384 267L1382 268L1379 268L1377 269L1374 269L1372 270L1369 271L1367 272L1365 274L1363 275L1360 276L1358 278L1357 280L1355 281L1353 283L1351 285L1350 287L1348 289L1347 292L1346 294L1345 296L1344 298L1343 301L1342 303L1341 306L1341 308L1341 311L1340 313L1340 316L1339 319L1337 322L1334 325L1332 328L1330 332L1328 336L1327 340L1326 344L1327 347L1330 350L1332 353L1334 356L1337 359L1339 361L1342 364L1344 366L1347 368L1350 370L1353 371L1356 373L1360 374L1363 375L1366 376L1369 377L1373 378L1376 378L1379 379L1383 379L1386 379L1389 379L1393 379L1396 378L1399 377L1402 377L1405 376L1408 375L1411 373L1414 372L1417 371L1420 369L1422 367L1425 365L1427 363L1430 361L1432 359L1434 356L1436 354L1438 351L1439 348L1441 346L1442 343L1443 340L1444 337L1444 334L1445 331L1445 328L1446 325L1446 322L1446 319Z" fill="#fccf30"/>
<path d="M1438 316L1438 313L1438 311L1437 308L1437 306L1436 304L1435 301L1434 299L1433 297L1431 295L1430 293L1428 291L1427 289L1425 287L1424 285L1422 283L1420 282L1418 280L1416 279L1414 277L1412 276L1410 275L1408 274L1406 273L1404 272L1401 272L1399 271L1396 271L1394 270L1392 270L1389 270L1387 270L1384 270L1382 271L1380 271L1377 272L1375 272L1373 273L1371 274L1368 275L1366 276L1364 277L1362 279L1360 280L1359 282L1357 283L1355 285L1354 287L1352 289L1351 291L1349 293L1348 295L1347 297L1346 300L1346 302L1345 304L1344 306L1344 309L1344 311L1343 314L1343 316L1342 318L1341 321L1340 324L1338 327L1337 330L1336 333L1335 337L1335 340L1336 343L1337 346L1339 349L1340 352L1341 355L1343 358L1345 360L1347 362L1350 364L1353 366L1356 368L1358 369L1361 371L1364 372L1367 373L1371 374L1374 375L1377 375L1380 375L1383 376L1386 376L1389 376L1392 376L1396 375L1399 375L1402 374L1405 373L1408 372L1410 371L1413 370L1416 368L1419 367L1421 365L1423 363L1426 361L1428 359L1430 357L1432 354L1434 352L1435 349L1436 346L1437 344L1438 341L1438 338L1439 335L1439 332L1439 329L1439 327L1439 324L1439 321L1439 319Z" fill="#f8d92c"/>
<path d="M1435 316L1435 314L1435 311L1434 309L1434 307L1433 304L1432 302L1431 300L1430 298L1429 296L1427 294L1426 292L1424 290L1423 289L1421 287L1420 286L1418 284L1416 283L1415 281L1413 280L1411 279L1409 278L1407 277L1405 276L1403 275L1400 274L1398 274L1396 274L1394 273L1392 273L1389 273L1387 273L1385 273L1383 274L1380 274L1378 274L1376 275L1374 276L1372 277L1370 278L1368 279L1366 280L1364 281L1362 283L1361 284L1359 286L1357 287L1356 289L1355 291L1353 293L1352 294L1351 296L1350 299L1349 301L1348 303L1348 305L1347 307L1347 309L1347 312L1346 314L1346 316L1346 318L1345 321L1345 323L1344 326L1344 328L1344 331L1344 333L1345 336L1345 339L1345 341L1345 345L1346 348L1346 351L1347 354L1348 357L1350 359L1353 361L1355 363L1358 364L1360 366L1363 367L1366 368L1369 369L1372 370L1375 371L1377 372L1380 372L1383 372L1386 373L1389 373L1392 373L1395 372L1398 372L1401 371L1404 370L1407 369L1409 368L1412 367L1415 366L1417 364L1420 363L1422 361L1424 359L1426 357L1428 355L1430 353L1432 350L1433 348L1434 345L1435 342L1435 340L1436 337L1436 334L1436 331L1436 329L1436 326L1436 323L1436 321L1436 318Z" fill="#f5e327"/>
<path d="M1432 316L1432 314L1432 312L1431 309L1431 307L1430 305L1429 303L1428 301L1427 299L1426 297L1425 296L1423 294L1422 292L1421 291L1419 289L1418 288L1416 286L1414 285L1413 284L1411 282L1409 281L1407 280L1406 279L1404 279L1402 278L1400 277L1398 277L1396 276L1393 276L1391 276L1389 276L1387 276L1385 276L1383 276L1381 277L1379 277L1377 278L1375 279L1373 279L1371 280L1369 281L1368 282L1366 284L1364 285L1363 286L1361 288L1360 289L1358 291L1357 292L1356 294L1355 296L1354 298L1353 300L1352 302L1351 304L1351 306L1350 308L1350 310L1350 312L1349 314L1349 316L1349 318L1348 320L1348 323L1347 325L1347 327L1347 330L1347 332L1347 335L1348 337L1348 340L1348 343L1349 346L1349 348L1350 351L1351 354L1353 356L1356 358L1358 359L1360 361L1363 362L1365 364L1368 365L1370 366L1373 367L1375 368L1378 368L1381 369L1384 369L1386 370L1389 370L1392 369L1395 369L1398 369L1400 368L1403 368L1406 367L1408 366L1411 365L1413 363L1416 362L1418 360L1420 359L1423 357L1425 355L1427 353L1428 351L1430 349L1431 346L1432 344L1433 341L1433 338L1433 336L1434 333L1434 330L1434 328L1433 325L1433 323L1433 321L1433 318Z" fill="#f5ed22"/>
<path d="M1429 316L1429 314L1429 312L1428 310L1428 308L1427 306L1426 304L1425 302L1424 300L1423 299L1422 297L1421 295L1420 294L1418 293L1417 291L1415 290L1414 289L1413 287L1411 286L1409 285L1408 284L1406 283L1404 282L1403 281L1401 281L1399 280L1397 280L1395 279L1393 279L1391 279L1389 279L1387 279L1385 279L1384 279L1382 280L1380 280L1378 281L1376 281L1374 282L1373 283L1371 284L1369 285L1368 286L1366 287L1365 289L1363 290L1362 291L1361 293L1359 294L1358 296L1357 298L1356 299L1355 301L1355 303L1354 305L1354 306L1353 308L1353 310L1353 312L1352 314L1352 316L1352 318L1351 320L1351 322L1350 324L1350 327L1350 329L1350 331L1350 333L1351 336L1351 338L1351 341L1352 343L1352 346L1353 348L1355 351L1356 352L1358 354L1360 356L1362 357L1365 359L1367 360L1369 361L1371 363L1374 364L1376 364L1379 365L1381 366L1384 366L1387 366L1389 367L1392 366L1395 366L1397 366L1400 365L1402 365L1405 364L1407 363L1410 362L1412 361L1414 360L1417 358L1419 357L1421 355L1423 353L1425 352L1426 349L1428 347L1429 345L1430 342L1430 340L1431 337L1431 335L1431 332L1431 330L1431 327L1431 325L1430 323L1430 320L1430 318Z" fill="#f8f61a"/>
</g></g>
<circle cx="1389.3" cy="316" r="49.3" fill="#fff"/>
<circle cx="1389.3" cy="316" r="24.8" fill="#fff" stroke="#000" stroke-width="1"/>
<path d="M1364 316a25.3 25.3 0 0 0 50.6 0z" fill="#000"/>
<path d="M1193.3 301h3M1193.2 317.5h8M1193.3 334h3" stroke="#fff" stroke-width="1.2" fill="none"/>
<path d="M1227.2 204.9L1297.6 155.3L1343.9 140.9L1390.2 149.5L1428.2 177.5L1461 214.1L1491.8 258.5L1502.4 287.4L1505.3 320L1501.5 346.6L1490.9 373.6L1472.6 399.7L1449.4 420.5L1420.5 435L1389.6 442.1L1357.4 440.7L1324.6 431.1L1293.8 413.2L1264.8 380.4L1237.8 344.7L1220 315L1198.7 265.2" stroke="#000" stroke-width="1.75" fill="none" stroke-linejoin="round"/>
<defs><radialGradient id="gb"><stop offset="0" stop-color="#f5e61f"/><stop offset=".5" stop-color="#fbd22a" stop-opacity=".8"/><stop offset="1" stop-color="#fec335" stop-opacity="0"/></radialGradient></defs>
<clipPath id="kg"><circle cx="1918.5" cy="316.8" r="195.9"/></clipPath>
<g clip-path="url(#kg)"><g filter="url(#bl)">
<circle cx="1918.5" cy="316.8" r="203.9" fill="#3f29b2"/>
<path d="M2122 317L2122 306L2121 295L2120 285L2118 274L2115 264L2112 254L2109 244L2105 234L2100 224L2095 215L2090 206L2083 197L2077 188L2070 180L2063 173L2055 165L2047 158L2038 152L2030 146L2020 140L2011 135L2001 131L1992 126L1982 123L1971 120L1961 117L1950 115L1940 114L1929 113L1918 113L1908 113L1897 114L1887 115L1876 117L1866 120L1855 123L1845 126L1836 131L1826 135L1817 140L1807 146L1799 152L1790 158L1782 165L1774 173L1767 180L1760 188L1754 197L1747 206L1742 215L1737 224L1732 234L1728 244L1725 254L1722 264L1719 274L1717 285L1716 295L1715 306L1715 317L1715 327L1716 338L1717 349L1719 359L1722 370L1725 380L1728 390L1732 400L1737 409L1742 419L1747 428L1754 437L1760 445L1767 453L1774 461L1782 468L1790 475L1799 482L1808 487L1818 490L1829 492L1840 492L1851 493L1861 493L1871 493L1881 492L1891 490L1900 489L1910 488L1918 487L1927 486L1936 486L1945 485L1954 484L1963 484L1972 481L1981 479L1990 477L1999 474L2008 471L2016 467L2024 461L2031 456L2039 450L2046 444L2053 438L2060 432L2068 426L2076 419L2085 413L2092 405L2100 397L2107 389L2112 380L2115 370L2118 359L2120 349L2121 338L2122 327Z" fill="#4230c4"/>
<path d="M2120 317L2120 306L2120 296L2120 285L2118 274L2115 264L2112 254L2109 244L2105 234L2100 224L2095 215L2090 206L2083 197L2077 188L2070 180L2063 173L2055 165L2047 158L2038 152L2030 146L2020 140L2011 135L2001 131L1992 126L1982 123L1971 120L1961 117L1950 115L1940 114L1929 113L1918 113L1908 113L1897 114L1887 115L1876 117L1866 120L1855 123L1845 126L1836 131L1826 135L1817 140L1807 146L1799 152L1790 158L1782 165L1774 173L1767 180L1760 188L1754 197L1747 206L1742 215L1737 224L1732 234L1728 244L1725 254L1722 264L1719 274L1717 285L1716 295L1715 306L1715 317L1715 327L1716 338L1717 349L1719 359L1722 370L1725 380L1728 390L1732 400L1737 409L1742 419L1747 428L1754 437L1760 445L1767 453L1784 451L1793 456L1802 460L1811 464L1820 468L1829 472L1839 474L1848 476L1857 478L1866 479L1875 481L1884 481L1893 480L1901 480L1910 480L1918 480L1927 479L1935 478L1944 476L1952 475L1960 473L1968 470L1976 466L1984 463L1991 460L1999 456L2006 451L2012 445L2018 440L2024 434L2030 429L2037 423L2043 418L2051 413L2058 408L2066 402L2073 396L2080 389L2087 382L2094 374L2101 366L2106 357L2111 347L2115 337L2119 327Z" fill="#4536d5"/>
<path d="M2098 317L2098 307L2098 298L2098 288L2098 279L2098 269L2096 259L2093 250L2091 240L2088 230L2085 221L2080 212L2075 203L2069 195L2064 186L2057 178L2055 165L2047 158L2038 152L2030 146L2020 140L2011 135L2001 131L1992 126L1982 123L1971 120L1961 117L1950 115L1940 114L1929 113L1918 113L1908 113L1897 114L1887 115L1876 117L1866 120L1855 123L1845 126L1836 131L1826 135L1817 140L1807 146L1799 152L1790 158L1782 165L1774 173L1767 180L1760 188L1754 197L1747 206L1742 215L1737 224L1732 234L1728 244L1725 254L1722 264L1719 274L1717 285L1716 295L1715 306L1715 317L1715 327L1716 338L1717 349L1719 359L1722 370L1725 380L1728 390L1732 400L1737 409L1742 419L1747 428L1754 437L1760 445L1769 451L1788 448L1797 452L1806 456L1814 460L1823 464L1832 467L1841 469L1850 471L1859 472L1868 474L1876 475L1885 475L1894 474L1902 474L1910 474L1918 474L1927 473L1935 471L1943 470L1951 468L1958 466L1966 463L1973 459L1981 456L1988 453L1995 449L2001 444L2007 439L2013 434L2019 428L2025 423L2030 417L2036 412L2042 407L2049 401L2055 396L2061 390L2067 383L2073 376L2078 369L2084 361L2088 353L2091 344L2095 335L2097 326Z" fill="#473fe2"/>
<path d="M2091 317L2091 308L2090 299L2090 290L2090 280L2089 271L2087 262L2084 253L2081 244L2079 235L2075 226L2070 218L2065 210L2060 202L2054 195L2048 187L2046 175L2046 160L2038 152L2030 146L2020 140L2011 135L2001 131L1992 126L1982 123L1971 120L1961 117L1950 115L1940 114L1929 113L1918 113L1908 113L1897 114L1887 115L1876 117L1866 120L1855 123L1845 126L1836 131L1826 135L1817 140L1807 146L1799 152L1790 158L1782 165L1774 173L1767 180L1760 188L1754 197L1747 206L1742 215L1737 224L1732 234L1728 244L1725 254L1722 264L1719 274L1717 285L1716 295L1715 306L1715 317L1715 327L1716 338L1717 349L1719 359L1722 370L1725 380L1728 390L1732 400L1737 409L1742 419L1747 428L1754 437L1760 445L1774 447L1791 444L1800 448L1809 452L1817 456L1826 460L1834 463L1843 465L1852 467L1860 469L1869 470L1877 472L1886 471L1894 471L1902 471L1910 471L1918 471L1927 470L1934 468L1942 467L1950 465L1958 463L1965 460L1972 457L1979 453L1986 450L1993 447L2000 442L2005 436L2011 431L2017 426L2022 421L2028 415L2033 410L2039 404L2045 399L2052 394L2057 387L2062 381L2068 374L2073 367L2078 360L2081 351L2085 343L2087 335L2090 326Z" fill="#4747ec"/>
<path d="M2084 317L2083 308L2082 300L2082 291L2081 282L2080 273L2077 265L2075 257L2072 249L2069 240L2065 232L2060 225L2055 217L2050 210L2045 203L2039 197L2037 185L2036 172L2035 157L2030 146L2020 140L2011 135L2001 131L1992 126L1982 123L1971 120L1961 117L1950 115L1940 114L1929 113L1918 113L1908 113L1897 114L1887 115L1876 117L1866 120L1855 123L1845 126L1836 131L1826 135L1817 140L1807 146L1799 152L1790 158L1782 165L1774 173L1767 180L1760 188L1754 197L1747 206L1742 215L1737 224L1732 234L1728 244L1725 254L1722 264L1719 274L1717 285L1716 295L1715 306L1715 317L1715 327L1716 338L1717 349L1719 359L1722 370L1725 380L1728 390L1732 400L1737 409L1742 419L1747 428L1754 437L1760 445L1778 443L1795 441L1803 445L1812 449L1820 452L1828 456L1836 459L1845 461L1853 463L1862 465L1870 467L1878 468L1886 468L1895 468L1903 468L1911 468L1918 468L1926 467L1934 465L1942 464L1949 462L1957 460L1964 457L1971 454L1978 451L1985 447L1992 444L1998 439L2003 434L2009 429L2014 423L2020 418L2025 413L2030 407L2036 402L2042 397L2048 391L2053 385L2057 379L2062 372L2067 365L2072 358L2075 350L2078 342L2080 334L2083 325Z" fill="#4850f3"/>
<path d="M2078 317L2078 308L2077 300L2077 292L2076 283L2075 275L2072 267L2069 259L2067 251L2064 243L2060 235L2055 228L2050 221L2045 214L2040 208L2034 201L2031 192L2028 182L2024 171L2021 160L2016 149L2011 135L2001 131L1992 126L1982 123L1971 120L1961 117L1950 115L1940 114L1929 113L1918 113L1908 113L1897 114L1887 115L1876 117L1866 120L1855 123L1845 126L1836 131L1826 135L1817 140L1807 146L1799 152L1790 158L1782 165L1774 173L1767 180L1760 188L1754 197L1747 206L1742 215L1737 224L1732 234L1728 244L1725 254L1722 264L1719 274L1717 285L1716 295L1715 306L1715 317L1715 327L1716 338L1717 349L1719 359L1722 370L1725 380L1728 390L1732 400L1737 409L1742 419L1747 428L1754 437L1762 443L1781 441L1796 439L1805 443L1813 447L1821 451L1829 454L1837 457L1846 459L1854 461L1862 463L1870 465L1879 466L1887 466L1895 466L1903 465L1911 465L1918 466L1926 464L1934 463L1941 461L1949 459L1956 458L1963 454L1970 451L1977 448L1984 444L1990 441L1996 436L2001 431L2007 426L2012 421L2017 416L2022 410L2027 405L2033 400L2038 395L2044 389L2049 383L2054 377L2058 370L2063 364L2068 357L2070 349L2073 341L2076 333L2078 325Z" fill="#4759f8"/>
<path d="M2074 317L2073 309L2072 301L2071 293L2071 284L2070 276L2067 269L2064 261L2061 253L2058 246L2055 238L2050 232L2045 225L2040 218L2035 212L2029 206L2026 197L2023 188L2020 177L2016 167L2011 156L2008 142L2001 131L1992 126L1982 123L1971 120L1961 117L1950 115L1940 114L1929 113L1918 113L1908 113L1897 114L1887 115L1876 117L1866 120L1855 123L1845 126L1836 131L1826 135L1817 140L1807 146L1799 152L1790 158L1782 165L1774 173L1767 180L1760 188L1754 197L1747 206L1742 215L1737 224L1732 234L1728 244L1725 254L1722 264L1719 274L1717 285L1716 295L1715 306L1715 317L1715 327L1716 338L1717 349L1719 359L1722 370L1725 380L1728 390L1732 400L1737 409L1742 419L1747 428L1754 437L1766 440L1784 438L1798 438L1806 442L1814 445L1822 449L1830 452L1838 455L1847 457L1855 459L1863 461L1871 462L1879 463L1887 463L1895 463L1903 463L1911 463L1918 463L1926 462L1934 460L1941 459L1948 457L1956 455L1962 452L1969 449L1976 446L1983 443L1989 440L1995 435L2001 430L2006 425L2011 420L2017 415L2021 409L2026 404L2031 399L2037 394L2042 388L2047 382L2051 376L2055 369L2060 363L2064 356L2066 348L2069 341L2071 333L2073 325Z" fill="#4562fc"/>
<path d="M2068 317L2068 309L2067 301L2066 293L2066 286L2064 278L2061 270L2059 263L2056 256L2053 248L2049 241L2045 235L2040 229L2035 223L2030 217L2025 211L2021 203L2018 194L2015 184L2011 174L2007 164L2003 151L2001 131L1992 126L1982 123L1971 120L1961 117L1950 115L1940 114L1929 113L1918 113L1908 113L1897 114L1887 115L1876 117L1866 120L1855 123L1845 126L1836 131L1826 135L1817 140L1807 146L1799 152L1790 158L1782 165L1774 173L1767 180L1760 188L1754 197L1747 206L1742 215L1737 224L1732 234L1728 244L1725 254L1722 264L1719 274L1717 285L1716 295L1715 306L1715 317L1715 327L1716 338L1717 349L1719 359L1722 370L1725 380L1728 390L1732 400L1737 409L1742 419L1747 428L1754 437L1771 437L1786 436L1799 436L1807 440L1815 444L1824 448L1831 451L1839 454L1848 456L1856 458L1864 459L1872 461L1880 462L1888 462L1896 462L1903 462L1911 462L1918 462L1926 461L1933 459L1941 458L1948 456L1955 454L1962 451L1969 448L1976 445L1982 442L1989 439L1995 434L2000 429L2005 424L2011 419L2016 414L2020 409L2025 403L2030 398L2035 392L2040 387L2044 381L2048 375L2052 368L2056 362L2060 355L2062 347L2064 340L2066 332L2068 325Z" fill="#416bfe"/>
<path d="M2064 317L2063 309L2062 302L2061 294L2060 287L2059 279L2056 272L2053 265L2050 258L2047 251L2043 245L2039 239L2034 233L2029 227L2024 222L2019 216L2016 208L2013 200L2010 191L2007 181L2002 172L1999 160L1996 142L1992 126L1982 123L1971 120L1961 117L1950 115L1940 114L1929 113L1918 113L1908 113L1897 114L1887 115L1876 117L1866 120L1855 123L1845 126L1836 131L1826 135L1817 140L1807 146L1799 152L1790 158L1782 165L1774 173L1767 180L1760 188L1754 197L1747 206L1742 215L1737 224L1732 234L1728 244L1725 254L1722 264L1719 274L1717 285L1716 295L1715 306L1715 317L1715 327L1716 338L1717 349L1719 359L1722 370L1725 380L1728 390L1732 400L1737 409L1742 419L1747 428L1759 433L1775 433L1789 434L1800 435L1809 439L1817 443L1825 446L1832 449L1840 452L1848 454L1856 456L1864 458L1872 460L1880 461L1888 461L1896 461L1903 461L1911 461L1918 461L1926 459L1933 458L1941 456L1948 455L1955 453L1962 450L1968 447L1975 444L1982 441L1988 438L1994 433L1999 428L2005 423L2010 418L2015 413L2019 408L2024 402L2029 397L2033 391L2038 386L2042 380L2046 373L2049 367L2053 360L2056 354L2058 347L2060 339L2062 332L2063 324Z" fill="#3875fe"/>
<path d="M2058 317L2057 310L2057 302L2056 295L2055 288L2053 281L2050 274L2047 267L2044 261L2041 254L2037 248L2033 243L2028 237L2024 232L2019 226L2014 221L2011 214L2008 206L2005 197L2002 189L1998 180L1994 169L1991 153L1988 136L1982 123L1971 120L1961 117L1950 115L1940 114L1929 113L1918 113L1908 113L1897 114L1887 115L1876 117L1866 120L1855 123L1845 126L1836 131L1826 135L1817 140L1807 146L1799 152L1790 158L1782 165L1774 173L1767 180L1760 188L1754 197L1747 206L1742 215L1737 224L1732 234L1728 244L1725 254L1722 264L1719 274L1717 285L1716 295L1715 306L1715 317L1715 327L1716 338L1717 349L1719 359L1722 370L1725 380L1728 390L1732 400L1737 409L1742 419L1750 426L1765 428L1779 430L1791 431L1802 433L1810 437L1818 441L1826 444L1833 448L1841 451L1849 453L1857 455L1865 457L1873 458L1880 459L1888 459L1896 459L1904 459L1911 459L1918 460L1926 458L1933 457L1940 455L1948 454L1955 452L1961 449L1968 446L1975 443L1981 440L1988 437L1993 432L1999 427L2004 422L2009 417L2014 412L2018 407L2023 401L2027 396L2032 390L2036 385L2040 379L2043 372L2046 366L2049 359L2053 353L2054 346L2056 339L2057 331L2058 324Z" fill="#307ffb"/>
<path d="M2054 317L2052 310L2051 303L2050 296L2049 289L2048 282L2045 276L2042 269L2039 263L2036 257L2032 251L2028 246L2023 241L2019 236L2014 231L2009 226L2007 219L2004 211L2001 203L1998 195L1994 186L1990 176L1987 164L1983 149L1978 134L1971 122L1961 117L1950 115L1940 114L1929 113L1918 113L1908 113L1897 114L1887 115L1876 117L1866 120L1855 123L1845 126L1836 131L1826 135L1817 140L1807 146L1799 152L1790 158L1782 165L1774 173L1767 180L1760 188L1754 197L1747 206L1742 215L1737 224L1732 234L1728 244L1725 254L1722 264L1719 274L1717 285L1716 295L1715 306L1715 317L1715 327L1716 338L1717 349L1719 359L1722 370L1725 380L1728 390L1732 400L1737 409L1746 416L1759 420L1772 423L1784 426L1794 428L1804 431L1812 435L1820 439L1827 442L1835 446L1842 449L1850 451L1858 453L1866 455L1873 456L1881 458L1888 458L1896 458L1904 458L1911 458L1918 459L1926 457L1933 456L1940 454L1947 453L1954 451L1961 448L1968 445L1974 442L1981 439L1987 436L1993 431L1998 426L2003 421L2008 416L2013 412L2017 406L2021 400L2026 395L2030 389L2034 384L2037 377L2040 371L2043 365L2046 358L2049 352L2050 345L2051 338L2052 331L2053 324Z" fill="#2d87f6"/>
<path d="M2050 317L2049 310L2048 303L2047 297L2045 290L2044 283L2040 277L2037 271L2034 265L2031 259L2027 254L2023 249L2018 244L2014 240L2009 235L2005 231L2002 224L2000 217L1997 209L1994 201L1990 192L1986 183L1983 172L1979 159L1974 145L1968 133L1961 117L1950 115L1940 114L1929 113L1918 113L1908 113L1897 114L1887 115L1876 117L1866 120L1855 123L1845 126L1836 131L1826 135L1817 140L1807 146L1799 152L1790 158L1782 165L1774 173L1767 180L1760 188L1754 197L1747 206L1742 215L1737 224L1732 234L1728 244L1725 254L1722 264L1719 274L1717 285L1716 295L1715 306L1715 317L1715 327L1716 338L1717 349L1719 359L1722 370L1727 379L1736 387L1744 394L1753 401L1761 407L1771 412L1781 417L1790 421L1798 425L1806 429L1814 433L1821 437L1829 440L1836 443L1843 447L1851 449L1859 451L1866 453L1874 455L1881 456L1889 457L1896 457L1904 457L1911 457L1918 458L1926 456L1933 455L1940 453L1947 451L1954 450L1961 446L1967 443L1973 440L1980 437L1986 434L1991 429L1996 424L2001 419L2006 414L2011 409L2015 404L2019 398L2023 393L2027 387L2031 382L2035 376L2037 370L2040 363L2043 357L2046 351L2047 344L2048 337L2049 331L2050 324Z" fill="#2c90f0"/>
<path d="M2046 317L2045 310L2044 304L2043 297L2042 291L2040 284L2037 278L2034 273L2031 267L2028 261L2024 256L2020 251L2015 247L2011 242L2006 238L2002 233L1999 227L1997 220L1994 213L1990 206L1987 199L1983 190L1980 178L1977 165L1972 151L1966 139L1959 125L1950 115L1940 114L1929 113L1918 113L1908 113L1897 114L1887 115L1876 117L1866 120L1855 123L1845 126L1836 131L1826 135L1817 140L1807 146L1799 152L1790 158L1782 165L1774 173L1767 180L1760 188L1754 197L1747 206L1742 215L1737 224L1732 234L1728 244L1725 254L1722 264L1719 274L1717 285L1716 295L1715 306L1715 317L1715 327L1716 338L1717 349L1719 359L1722 370L1731 378L1739 386L1747 393L1755 400L1764 406L1774 411L1783 415L1792 419L1800 423L1808 427L1816 431L1823 434L1831 438L1838 441L1845 444L1853 446L1860 448L1868 450L1875 451L1882 453L1890 453L1897 453L1904 453L1911 453L1918 453L1926 452L1933 451L1939 449L1946 448L1953 446L1959 443L1966 440L1972 437L1978 434L1984 431L1989 426L1994 421L1999 417L2004 412L2009 407L2013 402L2017 396L2021 391L2025 386L2029 380L2032 375L2034 368L2037 362L2040 356L2042 350L2043 343L2045 337L2046 330L2047 324Z" fill="#2798ea"/>
<path d="M2043 317L2042 310L2040 304L2039 298L2038 291L2037 285L2033 279L2030 274L2027 268L2024 263L2021 258L2017 253L2012 249L2008 244L2004 240L1999 236L1997 230L1994 223L1991 217L1988 209L1985 202L1981 193L1978 182L1975 170L1971 156L1965 145L1958 133L1950 117L1940 114L1929 113L1918 113L1908 113L1897 114L1887 115L1876 117L1866 120L1855 123L1845 126L1836 131L1826 135L1817 140L1807 146L1799 152L1790 158L1782 165L1774 173L1767 180L1760 188L1754 197L1747 206L1742 215L1737 224L1732 234L1728 244L1725 254L1722 264L1719 274L1717 285L1716 295L1715 306L1715 317L1715 327L1716 338L1717 349L1719 359L1727 368L1735 376L1742 385L1749 392L1758 399L1766 405L1776 410L1785 414L1793 418L1801 422L1809 426L1817 430L1824 433L1832 436L1839 439L1846 442L1854 444L1861 445L1869 447L1876 448L1883 449L1890 449L1898 449L1905 449L1912 449L1918 449L1925 448L1932 447L1939 445L1945 444L1952 442L1958 439L1964 436L1970 433L1976 431L1983 428L1988 423L1993 419L1997 414L2002 410L2007 405L2011 400L2014 395L2018 389L2022 384L2026 379L2029 373L2031 367L2034 361L2036 355L2039 349L2040 343L2041 336L2042 330L2043 323Z" fill="#249fe5"/>
<path d="M2039 317L2038 311L2037 304L2036 298L2035 292L2033 286L2030 280L2028 275L2025 270L2022 264L2019 259L2014 255L2010 250L2006 246L2002 242L1998 237L1995 232L1992 226L1990 219L1986 212L1983 205L1980 197L1977 185L1974 172L1970 159L1964 147L1956 138L1949 126L1940 114L1929 113L1918 113L1908 113L1897 114L1887 115L1876 117L1866 120L1855 123L1845 126L1836 131L1826 135L1817 140L1807 146L1799 152L1790 158L1782 165L1774 173L1767 180L1760 188L1754 197L1747 206L1742 215L1737 224L1732 234L1728 244L1725 254L1722 264L1719 274L1717 285L1716 295L1715 306L1715 317L1715 327L1716 338L1721 348L1728 357L1735 366L1741 375L1747 383L1754 390L1761 397L1769 403L1778 408L1787 412L1795 417L1803 421L1810 425L1818 428L1826 432L1833 435L1840 437L1847 440L1855 442L1862 443L1870 444L1877 445L1884 446L1891 446L1898 445L1905 445L1912 445L1918 445L1925 444L1932 442L1938 441L1945 440L1951 438L1957 436L1963 433L1969 430L1975 427L1981 425L1986 421L1991 416L1995 412L2000 407L2005 403L2008 398L2012 393L2016 388L2020 382L2023 377L2026 372L2028 366L2031 360L2033 354L2036 348L2037 342L2037 336L2038 329L2039 323Z" fill="#1ea7e1"/>
<path d="M2036 317L2035 311L2034 305L2033 299L2032 293L2031 287L2028 281L2025 276L2022 271L2020 265L2016 260L2012 256L2008 252L2004 247L2000 243L1996 239L1994 233L1991 228L1988 221L1985 215L1981 208L1978 199L1976 188L1973 175L1969 161L1963 149L1955 143L1947 135L1938 127L1929 119L1918 115L1908 115L1897 115L1887 116L1876 117L1866 120L1855 123L1845 126L1836 131L1826 135L1817 140L1807 146L1799 152L1790 158L1782 165L1774 173L1767 180L1760 188L1754 197L1747 206L1742 215L1737 224L1734 235L1732 245L1730 256L1729 266L1728 276L1728 287L1728 297L1728 307L1728 317L1730 327L1732 336L1735 346L1739 355L1743 364L1747 373L1751 381L1758 388L1765 395L1773 401L1781 406L1790 410L1798 415L1805 419L1812 423L1820 426L1827 429L1835 432L1842 435L1849 438L1856 439L1863 440L1871 442L1878 443L1885 443L1892 443L1899 443L1905 442L1912 442L1918 442L1925 441L1931 440L1938 438L1944 437L1950 435L1956 433L1962 430L1968 427L1973 425L1979 422L1984 418L1989 414L1993 409L1998 405L2003 401L2006 396L2010 391L2013 386L2017 381L2021 376L2023 370L2026 365L2028 359L2030 353L2033 347L2034 341L2035 335L2036 329L2036 323Z" fill="#18addb"/>
<path d="M2034 317L2033 311L2032 305L2031 299L2030 293L2028 287L2025 282L2023 277L2020 272L2017 266L2014 262L2010 257L2006 253L2002 249L1998 245L1995 241L1992 235L1989 230L1986 224L1983 217L1980 211L1977 202L1975 191L1972 177L1968 163L1963 152L1955 147L1946 142L1937 137L1928 132L1918 130L1909 130L1899 131L1889 132L1879 133L1870 135L1860 138L1851 141L1842 144L1833 149L1824 153L1815 158L1807 163L1799 169L1791 176L1784 182L1777 190L1771 198L1766 206L1760 214L1756 223L1751 232L1748 241L1744 250L1742 259L1739 269L1737 278L1736 288L1735 298L1735 307L1735 317L1736 326L1738 336L1741 345L1745 354L1749 362L1753 371L1757 379L1763 386L1770 392L1777 398L1785 403L1793 408L1800 413L1807 417L1814 421L1822 424L1829 427L1836 430L1843 433L1850 435L1857 437L1865 438L1872 439L1879 440L1885 441L1892 440L1899 440L1906 439L1912 439L1918 439L1925 438L1931 437L1937 435L1943 434L1949 432L1955 430L1961 427L1966 425L1972 422L1978 419L1982 415L1987 411L1991 407L1996 403L2000 399L2004 394L2007 389L2011 384L2014 379L2018 374L2021 369L2023 363L2025 358L2028 352L2030 347L2031 341L2032 335L2033 329L2034 323Z" fill="#0cb3d3"/>
<path d="M2031 317L2030 311L2029 305L2028 299L2027 294L2026 288L2023 283L2020 278L2018 273L2015 268L2012 263L2008 259L2004 254L2000 250L1997 246L1993 243L1990 237L1987 232L1984 226L1981 220L1978 214L1975 206L1972 196L1969 184L1966 172L1960 162L1952 157L1945 152L1936 147L1928 142L1918 139L1909 139L1900 140L1891 141L1881 142L1872 144L1863 146L1854 149L1845 152L1836 155L1828 160L1819 164L1811 169L1803 175L1796 181L1789 187L1782 194L1776 202L1771 210L1766 218L1761 226L1757 235L1753 243L1750 252L1748 261L1745 270L1744 280L1742 289L1741 298L1741 307L1741 317L1742 326L1745 335L1748 344L1751 352L1755 361L1759 369L1763 377L1769 384L1775 390L1781 396L1789 401L1796 406L1803 410L1810 415L1816 419L1824 422L1831 425L1838 428L1845 430L1851 433L1859 434L1866 435L1873 436L1879 437L1886 438L1893 437L1899 437L1906 436L1912 436L1918 436L1925 435L1931 434L1937 432L1943 431L1949 430L1954 427L1960 424L1965 422L1971 419L1976 416L1981 413L1985 408L1989 404L1994 400L1998 396L2001 392L2005 387L2008 382L2012 377L2015 373L2018 368L2020 362L2023 357L2025 351L2027 346L2028 340L2029 334L2030 329L2031 323Z" fill="#01b8c9"/>
<path d="M2028 317L2027 311L2026 305L2025 300L2025 294L2023 289L2020 284L2018 279L2015 274L2013 269L2010 264L2006 260L2002 256L1998 252L1995 248L1991 244L1988 239L1985 234L1982 229L1979 223L1976 217L1973 210L1970 202L1967 192L1963 181L1957 172L1950 167L1943 162L1935 157L1927 152L1918 149L1910 149L1901 149L1892 150L1883 151L1874 152L1866 154L1857 156L1848 159L1840 162L1832 166L1823 170L1815 175L1808 180L1801 186L1794 192L1787 199L1782 206L1776 213L1771 221L1767 229L1763 238L1759 246L1756 255L1754 263L1752 272L1750 281L1749 290L1748 299L1747 308L1747 317L1749 326L1751 334L1754 343L1757 351L1761 359L1765 367L1769 374L1774 381L1780 388L1786 393L1792 399L1799 403L1806 408L1812 413L1818 417L1825 420L1832 423L1839 426L1846 428L1853 430L1860 432L1867 433L1874 434L1880 434L1887 435L1893 434L1900 434L1906 433L1912 433L1918 433L1925 432L1930 431L1936 429L1942 428L1948 427L1953 424L1959 422L1964 419L1969 416L1974 414L1979 410L1983 406L1987 402L1992 398L1996 394L1999 389L2003 385L2006 380L2009 376L2013 371L2015 366L2018 361L2020 356L2022 351L2024 345L2026 340L2027 334L2027 328L2028 323Z" fill="#08bcbe"/>
<path d="M2026 317L2025 311L2024 306L2023 300L2022 295L2020 289L2018 284L2015 280L2013 275L2010 270L2007 265L2004 261L2000 257L1997 254L1993 250L1989 246L1986 241L1983 237L1980 231L1977 226L1974 221L1970 215L1967 208L1963 200L1959 191L1954 184L1948 179L1941 173L1934 167L1927 162L1918 159L1910 159L1902 159L1893 159L1885 160L1877 161L1868 162L1860 164L1852 167L1843 169L1835 173L1827 176L1820 181L1812 186L1805 191L1798 197L1792 203L1787 210L1782 217L1777 225L1773 233L1769 240L1765 249L1762 257L1760 265L1758 274L1756 282L1755 291L1754 300L1754 308L1754 317L1755 325L1757 334L1760 342L1763 350L1767 357L1770 365L1774 372L1779 379L1785 385L1790 391L1796 396L1802 401L1808 406L1814 411L1820 415L1827 418L1834 421L1841 424L1848 426L1854 428L1861 429L1868 430L1875 431L1881 432L1888 432L1894 432L1900 431L1907 431L1913 430L1918 430L1924 429L1930 428L1936 426L1942 425L1947 424L1952 421L1958 419L1963 416L1968 414L1973 411L1977 407L1981 403L1985 399L1990 396L1993 392L1997 387L2000 383L2003 379L2007 374L2010 370L2013 365L2015 360L2017 355L2020 350L2022 344L2023 339L2024 333L2025 328L2025 322Z" fill="#1cc0b4"/>
<path d="M2023 317L2022 311L2021 306L2020 301L2019 295L2018 290L2016 285L2013 280L2011 276L2008 271L2006 267L2002 263L1998 259L1995 255L1991 251L1988 248L1985 243L1982 238L1979 234L1976 229L1972 223L1969 218L1965 213L1960 208L1956 202L1951 196L1945 192L1939 186L1933 181L1926 176L1918 173L1911 172L1903 172L1896 172L1888 172L1880 173L1872 174L1864 176L1856 177L1849 180L1841 182L1833 186L1826 189L1819 194L1812 198L1805 204L1800 210L1794 216L1789 223L1785 230L1780 237L1777 245L1773 252L1770 260L1768 268L1765 276L1764 284L1762 292L1761 300L1761 309L1760 317L1762 325L1764 333L1766 341L1769 349L1773 356L1776 363L1779 370L1784 377L1789 383L1794 389L1800 394L1806 399L1812 403L1817 408L1823 412L1830 415L1836 418L1843 421L1850 423L1856 425L1863 426L1869 427L1876 428L1882 429L1888 429L1895 428L1901 428L1907 427L1913 427L1918 427L1924 426L1930 425L1935 423L1941 422L1946 421L1951 418L1957 416L1962 413L1966 411L1971 408L1976 405L1980 401L1984 397L1988 394L1991 390L1995 385L1998 381L2001 377L2005 373L2008 368L2010 364L2013 359L2015 354L2017 349L2019 344L2020 338L2021 333L2022 328L2023 322Z" fill="#2bc3a8"/>
<path d="M2020 317L2019 312L2019 306L2018 301L2017 296L2016 291L2013 286L2011 281L2009 277L2006 272L2004 268L2000 264L1997 260L1993 256L1990 253L1986 249L1983 245L1981 240L1977 236L1974 231L1971 226L1967 222L1963 217L1959 212L1954 207L1949 202L1944 199L1938 195L1932 192L1925 189L1918 187L1912 186L1905 186L1898 185L1891 185L1883 186L1876 186L1869 187L1861 188L1854 190L1846 192L1839 195L1832 198L1825 202L1819 206L1812 211L1807 216L1802 222L1797 229L1793 235L1788 242L1785 249L1781 256L1778 263L1775 270L1773 278L1771 285L1770 293L1768 301L1768 309L1768 317L1768 325L1770 332L1772 340L1775 347L1778 354L1781 361L1785 368L1789 374L1794 380L1798 386L1804 391L1809 396L1815 401L1820 405L1826 410L1832 413L1839 415L1845 418L1851 420L1858 422L1864 423L1871 424L1877 425L1883 425L1889 426L1895 425L1901 425L1907 424L1913 424L1918 423L1924 423L1930 421L1935 420L1940 419L1946 418L1951 415L1955 413L1960 411L1965 408L1970 406L1974 402L1978 399L1982 395L1986 391L1989 388L1993 384L1996 379L1999 375L2002 371L2005 367L2008 362L2010 358L2012 353L2014 348L2017 343L2018 338L2019 333L2019 327L2020 322Z" fill="#34c79c"/>
<path d="M2018 317L2017 312L2016 307L2015 301L2015 296L2013 291L2011 287L2009 282L2007 278L2004 273L2002 269L1998 265L1995 261L1992 257L1988 254L1985 250L1982 246L1979 242L1976 238L1973 233L1969 229L1965 225L1961 221L1957 216L1953 212L1948 207L1942 205L1937 202L1931 199L1925 196L1918 195L1912 194L1906 194L1899 193L1892 193L1885 193L1879 194L1872 194L1865 196L1858 197L1851 199L1844 202L1837 205L1830 208L1824 212L1818 217L1813 222L1808 228L1804 233L1799 239L1795 246L1791 252L1788 259L1785 266L1782 273L1780 280L1778 287L1777 294L1775 302L1775 309L1774 317L1775 324L1777 332L1779 339L1781 346L1784 353L1787 360L1790 366L1794 372L1798 378L1803 384L1808 389L1813 394L1818 398L1823 403L1828 407L1835 410L1841 412L1847 415L1853 417L1860 419L1866 420L1872 421L1878 422L1884 422L1890 423L1896 422L1902 421L1908 421L1913 421L1918 420L1924 419L1929 418L1934 417L1940 416L1945 415L1950 413L1954 410L1959 408L1964 406L1968 403L1972 400L1976 396L1980 393L1984 389L1988 386L1991 382L1994 378L1997 374L2000 370L2003 366L2005 361L2008 357L2010 352L2012 347L2014 342L2015 337L2016 332L2017 327L2018 322Z" fill="#3fca8e"/>
<path d="M2015 317L2014 312L2014 307L2013 302L2012 297L2011 292L2009 287L2007 283L2005 278L2002 274L2000 270L1997 266L1993 262L1990 259L1987 255L1984 252L1981 248L1978 244L1974 240L1971 236L1968 232L1964 228L1960 224L1955 221L1951 217L1946 213L1941 210L1936 208L1930 206L1924 204L1918 203L1912 202L1906 202L1900 201L1894 201L1888 201L1881 201L1874 202L1868 203L1861 204L1855 206L1848 209L1842 211L1836 215L1830 218L1824 223L1819 227L1815 233L1810 238L1806 244L1802 250L1798 256L1795 262L1792 268L1790 275L1787 282L1785 288L1784 295L1783 303L1782 310L1782 317L1782 324L1783 331L1785 338L1787 345L1790 351L1792 358L1795 364L1799 370L1803 376L1807 381L1812 386L1816 391L1821 396L1826 400L1831 404L1837 407L1843 410L1849 412L1855 414L1861 416L1867 417L1874 418L1879 418L1885 419L1891 419L1897 419L1902 418L1908 418L1913 417L1918 417L1924 416L1929 415L1934 414L1939 413L1944 412L1949 410L1953 408L1958 405L1962 403L1967 401L1971 397L1975 394L1978 391L1982 387L1986 384L1989 380L1992 376L1995 372L1998 368L2001 364L2003 360L2005 355L2007 351L2009 346L2011 342L2012 337L2013 332L2014 327L2015 322Z" fill="#52cc7e"/>
<path d="M2012 317L2012 312L2011 307L2010 302L2010 297L2009 293L2007 288L2005 284L2003 279L2000 275L1998 271L1995 267L1992 264L1989 260L1985 257L1982 253L1979 249L1976 246L1973 242L1969 238L1966 234L1962 231L1958 228L1954 225L1949 222L1945 218L1940 216L1935 215L1929 213L1924 212L1918 211L1913 210L1907 210L1901 209L1896 209L1890 209L1884 209L1877 210L1871 211L1865 212L1859 213L1853 215L1847 218L1841 221L1835 224L1830 228L1825 233L1821 238L1817 243L1813 248L1809 254L1805 259L1802 265L1799 271L1797 277L1794 284L1792 290L1791 297L1790 303L1789 310L1788 317L1789 324L1790 330L1791 337L1793 343L1795 350L1798 356L1800 362L1804 368L1807 373L1811 379L1816 384L1820 388L1824 393L1829 398L1834 402L1840 404L1846 407L1851 409L1857 411L1863 413L1869 414L1875 415L1881 415L1886 416L1892 416L1897 416L1903 415L1908 415L1913 414L1918 414L1924 413L1929 412L1933 411L1938 410L1943 409L1948 407L1952 405L1957 403L1961 400L1965 398L1969 395L1973 392L1977 389L1980 385L1984 382L1987 378L1990 374L1992 371L1995 367L1998 363L2001 359L2003 354L2005 350L2007 346L2009 341L2010 336L2011 331L2012 327L2012 322Z" fill="#66cd6d"/>
<path d="M2010 317L2009 312L2008 307L2008 303L2007 298L2006 293L2004 289L2002 285L2000 280L1998 276L1996 272L1993 268L1990 265L1987 261L1984 258L1981 255L1978 251L1975 247L1971 244L1968 240L1965 236L1961 233L1957 230L1953 227L1949 224L1944 221L1939 219L1934 217L1929 216L1924 215L1918 214L1913 213L1908 213L1902 212L1896 212L1890 212L1884 212L1878 213L1872 213L1866 214L1860 216L1854 218L1848 220L1843 223L1837 227L1832 231L1828 235L1823 240L1819 245L1815 250L1812 255L1808 261L1805 266L1802 272L1800 278L1797 284L1795 291L1794 297L1793 304L1792 310L1792 317L1792 323L1793 330L1794 336L1796 343L1798 349L1800 355L1803 361L1806 367L1810 372L1813 377L1818 382L1822 387L1826 391L1831 396L1835 400L1841 403L1847 405L1853 407L1859 409L1864 411L1870 412L1876 413L1882 413L1887 414L1893 414L1898 413L1903 413L1908 412L1914 412L1918 411L1923 411L1928 410L1933 409L1938 408L1942 406L1947 404L1951 402L1956 400L1960 398L1964 396L1968 393L1971 390L1975 386L1978 383L1982 380L1984 376L1987 373L1990 369L1993 365L1996 362L1998 357L2000 353L2002 349L2004 345L2006 340L2007 336L2008 331L2009 326L2010 322Z" fill="#7dcc5c"/>
<path d="M2007 317L2006 312L2006 308L2005 303L2005 298L2004 294L2002 290L2000 286L1998 281L1996 277L1994 273L1991 270L1988 266L1985 263L1982 259L1979 256L1976 252L1973 249L1970 246L1967 242L1964 238L1960 235L1956 233L1952 230L1948 227L1943 224L1939 222L1934 220L1929 219L1924 217L1918 217L1913 216L1908 216L1902 215L1897 215L1891 215L1885 215L1880 215L1874 216L1868 217L1862 219L1856 221L1850 223L1845 226L1839 229L1834 233L1830 237L1826 242L1822 246L1818 251L1814 257L1811 262L1808 267L1805 273L1802 279L1800 285L1798 291L1797 298L1796 304L1795 310L1794 317L1795 323L1796 330L1797 336L1799 342L1801 348L1803 354L1805 360L1809 366L1812 371L1816 376L1820 381L1824 385L1828 390L1832 394L1837 398L1843 401L1849 403L1854 405L1860 407L1865 409L1871 410L1877 410L1882 411L1888 411L1893 411L1899 411L1904 410L1909 410L1914 409L1918 409L1923 408L1928 407L1933 406L1937 405L1942 404L1946 402L1950 400L1955 398L1959 396L1963 393L1966 390L1970 387L1973 384L1976 381L1980 378L1982 374L1985 371L1988 367L1991 364L1994 360L1996 356L1998 352L2000 348L2002 344L2003 340L2004 335L2005 331L2006 326L2007 321Z" fill="#94ca4a"/>
<path d="M2004 317L2004 312L2003 308L2003 303L2002 299L2001 295L1999 290L1998 286L1996 282L1994 278L1992 274L1989 271L1987 267L1984 264L1981 261L1978 257L1975 254L1972 251L1969 247L1966 244L1963 240L1959 237L1955 235L1951 232L1947 229L1943 226L1938 225L1933 223L1929 222L1924 220L1918 220L1913 219L1908 219L1903 218L1897 218L1892 218L1886 218L1881 218L1875 219L1869 220L1863 221L1858 223L1852 225L1847 228L1841 231L1836 235L1832 239L1828 244L1824 248L1820 253L1817 258L1813 263L1810 269L1808 274L1805 280L1803 286L1801 292L1800 298L1799 304L1798 310L1798 317L1798 323L1799 329L1800 336L1802 342L1803 348L1806 353L1808 359L1811 365L1815 370L1818 375L1822 379L1826 384L1830 388L1834 393L1839 397L1844 399L1850 401L1856 403L1861 405L1867 407L1872 408L1878 408L1883 409L1889 409L1894 409L1899 408L1904 408L1909 407L1914 406L1918 406L1923 405L1928 404L1932 403L1937 402L1941 401L1945 399L1949 397L1953 395L1957 393L1961 391L1965 388L1968 385L1971 382L1975 379L1978 376L1980 373L1983 369L1986 366L1988 362L1991 359L1993 355L1995 351L1997 347L1999 343L2001 339L2002 334L2003 330L2003 326L2004 321Z" fill="#aac73a"/>
<path d="M2001 317L2001 312L2000 308L2000 304L1999 300L1999 295L1997 291L1995 287L1994 283L1992 279L1990 275L1988 272L1985 269L1982 265L1979 262L1976 259L1974 256L1971 252L1968 249L1965 246L1961 242L1958 239L1954 237L1950 235L1946 232L1942 229L1937 228L1933 226L1928 225L1923 223L1918 223L1914 222L1908 222L1903 221L1898 221L1893 221L1887 221L1882 221L1876 222L1870 222L1865 224L1859 226L1854 228L1848 230L1843 233L1839 237L1834 241L1830 245L1826 250L1823 255L1819 260L1816 265L1813 270L1810 275L1808 281L1806 287L1804 292L1803 298L1802 305L1801 311L1800 317L1801 323L1802 329L1803 335L1804 341L1806 347L1808 353L1811 358L1814 363L1817 369L1820 373L1824 378L1828 382L1832 387L1836 391L1840 395L1846 397L1851 400L1857 401L1862 403L1868 405L1873 405L1879 406L1884 406L1889 407L1894 407L1900 406L1905 405L1909 404L1914 404L1918 403L1923 403L1927 402L1932 401L1936 400L1940 399L1944 397L1948 395L1952 393L1956 391L1960 389L1963 386L1966 383L1970 380L1973 377L1976 374L1978 371L1981 367L1984 364L1986 361L1989 357L1991 354L1993 350L1995 346L1996 342L1998 338L1999 334L2000 330L2001 325L2001 321Z" fill="#bfc32e"/>
<path d="M1998 317L1998 313L1998 308L1997 304L1997 300L1996 296L1995 292L1993 288L1992 284L1990 280L1988 277L1986 273L1983 270L1981 267L1978 263L1975 260L1972 257L1969 254L1966 251L1963 248L1960 244L1957 242L1953 239L1949 237L1945 234L1941 232L1937 230L1932 229L1928 227L1923 226L1918 226L1914 225L1909 225L1904 224L1899 224L1893 223L1888 223L1883 224L1877 224L1872 225L1866 226L1861 228L1856 230L1850 233L1845 236L1841 239L1837 243L1833 247L1829 252L1825 256L1822 261L1819 266L1816 271L1813 276L1811 282L1809 287L1807 293L1806 299L1805 305L1804 311L1804 317L1804 323L1805 329L1806 335L1807 340L1809 346L1811 352L1813 357L1816 362L1819 367L1823 372L1826 377L1830 381L1834 385L1838 389L1842 393L1848 396L1853 398L1858 400L1864 401L1869 403L1874 403L1880 404L1885 404L1890 404L1895 404L1900 403L1905 403L1910 402L1914 401L1918 401L1923 400L1927 399L1931 398L1936 397L1940 396L1944 394L1947 392L1951 390L1955 388L1959 386L1962 383L1965 381L1968 378L1971 375L1974 372L1976 369L1979 366L1981 362L1984 359L1986 356L1988 352L1990 349L1992 345L1994 341L1995 337L1996 333L1997 329L1998 325L1998 321Z" fill="#d2bf27"/>
<path d="M1995 317L1995 313L1995 309L1994 305L1994 301L1993 297L1992 293L1990 289L1989 285L1988 282L1986 278L1983 275L1981 271L1979 268L1976 265L1973 262L1971 259L1968 256L1965 253L1962 250L1959 247L1955 244L1952 242L1948 240L1944 237L1940 235L1936 233L1932 232L1928 230L1923 229L1918 228L1914 228L1909 227L1904 227L1899 226L1894 226L1889 226L1884 226L1878 227L1873 227L1868 229L1862 230L1857 232L1852 235L1847 237L1842 241L1838 245L1835 249L1831 253L1827 258L1824 262L1821 267L1818 272L1816 277L1813 283L1811 288L1810 294L1808 299L1807 305L1806 311L1806 317L1806 323L1807 329L1808 334L1810 340L1811 346L1813 351L1816 356L1818 361L1822 366L1825 371L1829 375L1832 379L1836 383L1840 387L1844 391L1850 393L1855 395L1860 397L1865 399L1870 400L1876 401L1881 401L1886 401L1891 401L1896 401L1901 400L1905 399L1910 399L1914 398L1918 397L1923 397L1927 396L1931 395L1935 394L1939 393L1943 391L1946 389L1950 387L1953 385L1957 383L1960 380L1963 377L1965 375L1968 372L1971 369L1973 366L1976 363L1978 360L1981 357L1983 354L1985 351L1987 347L1989 344L1990 340L1992 336L1993 333L1994 329L1995 325L1995 321Z" fill="#e2bc2b"/>
<path d="M1992 317L1992 313L1991 309L1991 305L1991 301L1990 298L1989 294L1988 290L1986 287L1985 283L1983 279L1981 276L1979 273L1977 270L1974 267L1972 264L1969 261L1966 258L1963 255L1960 253L1957 250L1954 247L1951 245L1947 242L1943 240L1940 238L1936 236L1932 234L1927 233L1923 232L1918 231L1914 230L1909 230L1905 229L1900 229L1895 228L1890 228L1885 228L1879 229L1874 230L1869 231L1864 232L1858 234L1854 237L1849 239L1844 243L1840 246L1837 250L1833 255L1830 259L1826 264L1823 268L1820 273L1818 278L1816 283L1814 289L1812 294L1811 300L1810 305L1809 311L1808 317L1809 323L1810 328L1811 334L1812 339L1814 345L1816 350L1818 355L1821 360L1824 365L1827 370L1831 374L1835 378L1838 382L1842 385L1846 389L1852 391L1857 393L1862 395L1867 396L1872 397L1877 398L1882 398L1887 398L1892 398L1897 398L1901 397L1906 396L1910 395L1914 394L1918 394L1923 393L1926 392L1930 391L1934 390L1938 389L1941 387L1945 385L1948 384L1951 382L1955 379L1958 377L1960 374L1963 372L1965 369L1968 366L1970 364L1973 361L1975 358L1978 355L1980 352L1982 349L1984 346L1985 342L1987 339L1989 336L1990 332L1990 328L1991 324L1992 321Z" fill="#f1ba37"/>
<path d="M1989 317L1989 313L1988 309L1988 306L1988 302L1987 298L1986 295L1985 291L1984 288L1983 284L1981 281L1979 278L1977 274L1975 271L1972 268L1970 266L1967 263L1964 260L1962 257L1959 255L1956 252L1953 250L1949 247L1946 245L1943 243L1939 240L1935 239L1931 237L1927 235L1923 234L1918 233L1914 233L1910 232L1905 231L1900 231L1895 231L1890 231L1885 231L1880 231L1875 232L1870 233L1865 234L1860 236L1855 238L1850 241L1846 244L1842 248L1838 252L1835 256L1832 260L1828 265L1825 269L1823 274L1820 279L1818 284L1816 289L1814 295L1813 300L1812 306L1811 311L1811 317L1811 322L1812 328L1813 333L1815 339L1816 344L1818 349L1820 355L1823 359L1826 364L1830 368L1833 372L1837 376L1841 380L1844 383L1848 387L1854 389L1859 391L1864 392L1869 394L1874 395L1879 395L1884 395L1888 395L1893 395L1898 395L1902 394L1906 393L1911 392L1915 391L1918 390L1922 390L1926 389L1930 388L1933 387L1937 386L1940 384L1944 382L1947 380L1950 378L1953 376L1955 374L1958 371L1960 369L1963 366L1965 363L1968 361L1970 358L1972 356L1974 353L1977 350L1979 347L1980 344L1982 341L1984 338L1985 335L1986 331L1987 328L1988 324L1989 320Z" fill="#fcbd3d"/>
<path d="M1986 317L1985 313L1985 310L1985 306L1985 303L1984 299L1983 296L1982 292L1981 289L1980 285L1979 282L1977 279L1975 276L1973 273L1970 270L1968 267L1965 265L1963 262L1960 260L1957 257L1954 255L1951 252L1948 250L1945 248L1942 246L1938 243L1934 242L1931 240L1927 238L1923 237L1918 236L1914 235L1910 235L1905 234L1901 233L1896 233L1891 233L1886 233L1881 233L1876 234L1871 235L1866 236L1861 238L1857 240L1852 243L1848 246L1844 250L1840 254L1837 258L1834 262L1831 266L1828 271L1825 275L1823 280L1820 285L1819 290L1817 295L1816 300L1815 306L1814 311L1814 317L1814 322L1815 328L1816 333L1817 338L1819 344L1820 349L1823 354L1825 358L1829 363L1832 367L1836 371L1839 374L1843 378L1847 381L1851 385L1856 387L1860 389L1865 390L1870 391L1875 392L1880 392L1885 392L1890 392L1894 392L1899 391L1903 390L1907 389L1911 388L1915 388L1918 387L1922 386L1926 385L1929 384L1933 383L1936 382L1939 380L1942 379L1945 377L1948 375L1951 373L1953 370L1956 368L1958 366L1960 363L1962 361L1965 358L1967 356L1969 354L1971 351L1973 348L1975 346L1977 343L1979 340L1980 337L1982 334L1983 330L1984 327L1985 324L1985 320Z" fill="#fec537"/>
<path d="M1976 317L1976 314L1976 311L1976 308L1976 305L1975 302L1974 299L1973 296L1972 293L1971 290L1970 287L1968 285L1966 282L1965 279L1963 277L1961 275L1958 273L1955 271L1952 270L1950 269L1947 268L1944 267L1941 267L1937 268L1934 269L1931 269L1929 269L1926 268L1924 268L1921 268L1918 268L1916 268L1913 268L1911 268L1908 269L1906 269L1903 270L1901 271L1899 272L1896 273L1894 274L1892 276L1890 277L1888 279L1886 280L1884 282L1882 284L1880 286L1879 288L1877 290L1876 292L1875 295L1874 297L1873 299L1872 302L1871 304L1871 307L1870 309L1870 312L1870 314L1870 317L1867 320L1863 323L1858 326L1854 330L1850 335L1848 340L1847 344L1849 348L1850 352L1851 356L1853 359L1855 363L1857 367L1859 370L1862 374L1865 376L1869 378L1873 379L1877 381L1881 382L1885 383L1889 383L1893 384L1897 384L1900 384L1904 384L1908 384L1911 384L1915 383L1918 383L1922 382L1925 382L1929 381L1932 380L1935 379L1938 377L1941 376L1944 374L1947 372L1949 370L1952 368L1954 366L1956 364L1959 361L1961 359L1963 357L1965 354L1966 352L1968 349L1970 346L1971 344L1972 341L1973 338L1974 335L1975 332L1976 329L1976 326L1976 323L1977 320Z" fill="#fccf30"/>
<path d="M1968 317L1967 314L1967 312L1967 309L1966 307L1966 304L1965 302L1964 299L1963 297L1962 295L1961 292L1960 290L1958 288L1957 286L1955 284L1953 282L1951 281L1949 279L1947 278L1945 277L1942 276L1940 275L1938 274L1935 273L1933 273L1930 272L1928 272L1926 271L1923 271L1921 271L1918 271L1916 271L1914 271L1911 271L1909 272L1907 272L1904 273L1902 274L1900 275L1898 276L1896 277L1893 278L1891 280L1890 281L1888 283L1886 284L1884 286L1883 288L1881 290L1880 292L1879 294L1878 296L1876 298L1876 300L1875 303L1874 305L1874 307L1873 310L1873 312L1873 314L1872 317L1872 319L1872 322L1872 324L1872 327L1872 329L1872 332L1872 334L1872 337L1872 341L1871 344L1871 348L1870 352L1871 356L1871 359L1873 363L1875 365L1878 367L1881 368L1884 370L1887 372L1890 373L1893 374L1896 376L1899 377L1902 377L1905 378L1909 378L1912 379L1915 379L1918 379L1922 379L1925 378L1928 377L1931 377L1934 376L1937 374L1940 373L1943 371L1945 370L1948 368L1950 366L1953 364L1955 362L1957 359L1959 357L1961 355L1962 352L1964 350L1965 347L1966 344L1967 341L1967 339L1968 336L1968 333L1968 330L1968 327L1968 325L1968 322L1968 319Z" fill="#f8d92c"/>
<path d="M1964 317L1964 314L1964 312L1964 310L1963 307L1963 305L1962 303L1961 300L1961 298L1959 296L1958 294L1957 292L1956 290L1954 288L1953 286L1951 284L1949 283L1947 281L1945 280L1943 279L1941 278L1939 277L1936 277L1934 276L1932 276L1930 275L1927 275L1925 274L1923 274L1921 274L1918 274L1916 274L1914 274L1912 274L1910 275L1907 275L1905 276L1903 277L1901 278L1899 278L1897 280L1895 281L1893 282L1891 283L1890 285L1888 286L1887 288L1885 290L1884 292L1882 293L1881 295L1880 297L1879 299L1878 301L1878 304L1877 306L1876 308L1876 310L1876 312L1876 315L1876 317L1875 319L1875 321L1875 324L1875 326L1875 329L1875 331L1875 333L1876 336L1877 338L1878 340L1879 343L1880 345L1881 347L1882 349L1884 351L1885 353L1887 356L1889 358L1891 360L1893 362L1895 364L1897 365L1899 367L1902 369L1904 371L1907 372L1910 373L1912 374L1915 375L1918 375L1922 375L1925 375L1928 374L1930 373L1933 372L1936 371L1939 370L1941 368L1944 367L1947 365L1949 364L1951 362L1953 360L1955 358L1957 356L1959 353L1960 351L1962 348L1963 346L1964 343L1964 340L1965 337L1965 335L1965 332L1965 329L1965 327L1965 324L1965 322L1965 319Z" fill="#f5e327"/>
<path d="M1962 317L1961 315L1961 312L1961 310L1961 308L1960 306L1959 304L1959 301L1958 299L1957 297L1956 295L1955 293L1953 292L1952 290L1950 288L1949 286L1947 285L1945 284L1943 283L1941 282L1939 281L1937 280L1935 279L1933 279L1931 279L1929 278L1927 278L1925 277L1923 277L1921 277L1918 277L1916 277L1914 277L1912 277L1910 278L1908 278L1906 279L1904 279L1902 280L1900 281L1898 282L1897 283L1895 284L1893 286L1892 287L1890 289L1889 290L1887 292L1886 293L1885 295L1884 297L1883 299L1882 301L1881 302L1880 304L1880 306L1879 308L1879 311L1879 313L1879 315L1878 317L1878 319L1878 321L1878 323L1878 326L1878 328L1878 330L1878 332L1879 334L1880 337L1880 339L1881 341L1882 343L1883 345L1884 347L1886 349L1887 351L1889 353L1891 355L1892 357L1894 359L1896 361L1898 362L1900 364L1903 366L1905 367L1908 368L1910 369L1913 370L1916 371L1918 372L1921 371L1924 371L1927 370L1930 370L1932 369L1935 368L1938 367L1940 366L1943 364L1945 363L1947 361L1950 360L1952 358L1954 356L1956 354L1957 352L1959 349L1960 347L1961 344L1962 342L1962 339L1963 336L1963 334L1963 331L1963 329L1963 326L1962 324L1962 321L1962 319Z" fill="#f5ed22"/>
<path d="M1958 317L1958 315L1958 313L1958 311L1958 308L1957 306L1957 304L1956 302L1955 301L1954 299L1953 297L1952 295L1951 293L1950 292L1948 290L1947 289L1945 287L1943 286L1942 285L1940 284L1938 283L1936 283L1934 282L1932 282L1930 281L1928 281L1926 281L1924 280L1922 280L1920 280L1918 280L1917 280L1915 280L1913 280L1911 281L1909 281L1907 282L1905 282L1903 283L1902 284L1900 285L1898 286L1897 287L1895 288L1894 289L1892 291L1891 292L1890 294L1889 295L1887 297L1886 298L1886 300L1885 302L1884 304L1883 305L1883 307L1882 309L1882 311L1882 313L1882 315L1882 317L1881 319L1881 321L1881 323L1880 325L1880 327L1881 329L1881 331L1882 333L1882 335L1883 337L1884 339L1885 341L1886 343L1887 345L1888 347L1890 349L1891 351L1893 353L1894 354L1896 356L1898 358L1900 359L1902 361L1904 362L1906 364L1908 365L1911 366L1913 367L1916 367L1918 368L1921 368L1924 367L1926 367L1929 366L1932 366L1934 365L1937 364L1939 363L1941 362L1944 360L1946 359L1948 357L1950 356L1952 354L1954 352L1955 350L1957 348L1958 345L1959 343L1959 340L1960 338L1960 335L1960 333L1960 330L1960 328L1960 326L1960 323L1959 321L1959 319Z" fill="#f8f61a"/>
<path d="M1943 255L1941 252L1938 250L1934 248L1931 245L1928 243L1924 242L1920 240L1916 239L1912 238L1907 238L1903 237L1898 236L1894 236L1889 236L1884 236L1879 237L1875 238L1870 239L1865 240L1860 242L1856 245L1852 248L1848 251L1844 255L1841 259L1838 262L1835 267L1832 271L1830 275L1828 280L1826 285L1824 290L1823 295L1822 300L1821 305L1821 310L1821 315L1822 320L1823 325L1825 330L1826 335L1829 339L1831 344L1834 348L1837 351L1841 355L1845 358L1850 359L1856 356L1856 351L1856 347L1855 344L1855 340L1855 336L1855 333L1855 329L1855 326L1855 322L1855 319L1856 316L1857 312L1857 309L1858 306L1859 303L1860 300L1862 297L1863 294L1865 292L1866 289L1868 286L1870 284L1871 281L1873 279L1875 277L1878 274L1880 272L1882 270L1885 269L1887 267L1890 265L1893 264L1896 263L1898 262L1901 261L1904 260L1907 259L1910 258L1913 258L1916 258L1920 257L1923 257L1926 257L1929 257L1932 258L1935 258L1939 258L1942 259Z" fill="#fec835"/><path d="M1937 251L1934 249L1931 247L1927 245L1924 243L1920 241L1916 240L1912 240L1908 239L1903 238L1899 237L1894 237L1889 237L1885 237L1880 238L1875 239L1870 240L1866 241L1861 243L1857 246L1853 249L1849 252L1845 255L1842 259L1839 263L1836 267L1833 272L1831 276L1829 281L1827 285L1825 290L1824 295L1823 300L1823 305L1823 310L1823 315L1824 320L1825 325L1826 330L1828 334L1830 339L1833 343L1836 347L1840 350L1844 353L1853 349L1853 345L1853 341L1853 337L1853 333L1853 330L1853 326L1853 322L1854 319L1854 316L1855 312L1856 309L1857 306L1858 303L1859 300L1860 297L1862 294L1863 291L1865 288L1867 286L1869 283L1870 281L1872 278L1875 276L1877 274L1879 271L1882 270L1884 268L1887 266L1889 264L1892 263L1895 262L1898 261L1901 260L1904 259L1907 258L1910 257L1913 257L1916 256L1920 256L1923 256L1926 256L1929 256L1932 256L1936 256Z" fill="#fdcd32"/><path d="M1934 252L1931 248L1927 246L1924 244L1920 243L1916 242L1912 241L1908 240L1903 239L1899 239L1894 238L1890 238L1885 238L1880 239L1876 240L1871 241L1866 242L1862 244L1858 247L1853 249L1850 253L1846 256L1843 260L1840 264L1837 268L1835 272L1832 277L1830 281L1828 286L1827 291L1826 295L1825 300L1824 305L1824 310L1825 315L1825 320L1827 325L1828 329L1830 334L1833 338L1836 342L1839 346L1845 348L1848 347L1849 342L1850 338L1850 334L1851 330L1851 326L1851 323L1852 319L1852 316L1853 312L1854 309L1855 306L1856 302L1858 299L1859 296L1861 293L1862 290L1864 288L1866 285L1867 282L1869 280L1871 277L1874 275L1876 273L1878 270L1881 268L1883 267L1886 265L1889 263L1892 262L1895 261L1898 259L1901 258L1904 258L1907 257L1910 256L1913 256L1916 255L1920 255L1923 254L1926 254L1930 254L1933 253Z" fill="#fbd22f"/><path d="M1927 249L1923 246L1920 245L1916 243L1912 242L1908 241L1904 240L1899 240L1895 240L1890 239L1886 240L1881 240L1876 241L1872 242L1867 244L1863 245L1859 248L1855 251L1851 254L1848 257L1844 261L1841 265L1839 269L1836 273L1834 277L1832 282L1830 286L1829 291L1827 296L1827 301L1826 305L1826 310L1827 315L1828 320L1829 325L1831 329L1833 333L1836 337L1841 341L1845 339L1847 335L1848 331L1848 327L1849 323L1850 319L1850 316L1851 312L1852 309L1853 305L1855 302L1856 299L1857 296L1859 293L1861 290L1862 287L1864 284L1866 282L1868 279L1870 276L1873 274L1875 272L1877 269L1880 267L1883 265L1885 264L1888 262L1891 261L1894 259L1897 258L1900 257L1903 256L1907 256L1910 255L1913 254L1916 254L1920 253L1923 252L1927 251Z" fill="#f9d72c"/><path d="M1920 248L1916 246L1912 244L1908 243L1904 242L1900 241L1895 241L1891 241L1886 241L1882 241L1877 242L1873 243L1868 245L1864 247L1860 249L1856 252L1852 255L1849 258L1846 262L1843 266L1840 270L1838 274L1835 278L1833 282L1832 287L1830 292L1829 296L1829 301L1829 306L1829 311L1829 315L1830 320L1832 324L1835 329L1839 332L1842 332L1845 327L1846 323L1847 319L1848 316L1849 312L1850 308L1851 305L1853 302L1854 298L1856 295L1857 292L1859 289L1861 286L1863 283L1865 281L1867 278L1869 275L1871 273L1874 270L1876 268L1879 266L1882 264L1884 262L1887 261L1890 259L1894 258L1897 257L1900 256L1903 255L1906 254L1910 253L1913 252L1916 251L1920 250Z" fill="#f7dc2a"/><path d="M1909 246L1904 244L1900 243L1896 243L1892 243L1887 243L1883 243L1878 244L1874 245L1869 246L1865 248L1861 250L1857 253L1854 256L1850 260L1847 263L1844 267L1842 271L1839 275L1837 279L1835 283L1834 288L1833 292L1832 297L1831 301L1831 306L1832 311L1833 315L1835 320L1842 319L1844 316L1846 312L1847 308L1849 305L1850 301L1852 298L1854 294L1855 291L1857 288L1859 285L1861 282L1863 280L1865 277L1868 274L1870 272L1872 269L1875 267L1878 265L1881 263L1884 261L1887 259L1890 258L1893 256L1896 255L1899 254L1903 253L1906 252L1909 250Z" fill="#f5e128"/><path d="M1897 246L1892 245L1888 245L1884 245L1879 246L1875 247L1870 248L1866 250L1862 252L1859 255L1855 258L1852 261L1849 264L1846 268L1844 272L1841 276L1840 280L1838 284L1836 289L1836 293L1835 298L1835 302L1836 307L1843 308L1845 304L1847 300L1849 297L1851 294L1853 290L1855 287L1857 284L1859 281L1861 278L1864 275L1866 273L1868 270L1871 267L1874 265L1876 263L1879 261L1882 259L1885 257L1889 255L1892 254L1895 252L1898 251Z" fill="#f5e626"/><path d="M1881 249L1877 250L1872 251L1868 252L1864 254L1861 257L1857 260L1854 263L1851 266L1849 270L1847 274L1845 277L1843 282L1842 286L1841 290L1846 292L1849 289L1852 286L1854 282L1856 279L1859 276L1861 274L1864 271L1866 268L1869 265L1871 263L1874 260L1877 258L1880 256L1883 254Z" fill="#f5eb23"/>
</g></g>
<circle cx="1918.5" cy="316.8" r="49.3" fill="#fff"/>
<circle cx="1918.5" cy="316.8" r="24.8" fill="#fff" stroke="#000" stroke-width="1"/>
<path d="M1893.2 316.8a25.3 25.3 0 0 0 50.6 0z" fill="#000"/>
<path d="M1937.9 125.4L1963 151.5L1981.3 202.6L1999.6 235.3L2023.7 258.5L2040.1 286.4L2046.8 320L2043.9 350.5L2033.3 381.3L2013.1 412.2L1988 435.3L1953.3 451.3L1919.6 458.1L1879.7 455.6L1845 445L1806.4 425.7L1771.7 402.6L1736 365.9L1728.7 350.5" stroke="#000" stroke-width="1.75" fill="none" stroke-linejoin="round"/>
<text class="b" x="1038.4" y="146.8" font-size="54" text-anchor="middle" stroke="#000" stroke-width="0.6">c</text>
<text class="b" x="1564" y="146.5" font-size="54" text-anchor="middle" stroke="#000" stroke-width="0.6">e</text>
<text class="b" x="2098" y="135.9" font-size="54" text-anchor="middle" stroke="#000" stroke-width="0.6">g</text>
<text class="b" transform="translate(860.3,546) scale(0.945,1)" font-size="36.4" text-anchor="middle" stroke="none">2015-12-23 01:00:00</text>
<text class="b" transform="translate(1371.5,544.5) scale(0.945,1)" font-size="36.4" text-anchor="middle" stroke="none">2015-12-23 12:00:00</text>
<text class="b" transform="translate(1909.5,546.6) scale(0.945,1)" font-size="36.4" text-anchor="middle" stroke="none">2015-12-23 23:00:00</text>
</svg></body></html>
